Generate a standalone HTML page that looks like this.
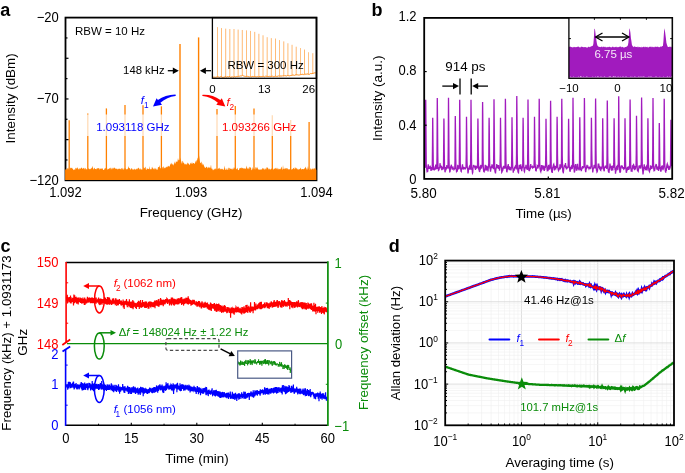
<!DOCTYPE html>
<html><head><meta charset="utf-8"><style>
html,body{margin:0;padding:0;background:#fff;overflow:hidden;}
svg{display:block;will-change:transform;font-family:"Liberation Sans", sans-serif;}
</style></head><body>
<svg width="685" height="473" viewBox="0 0 685 473">
<rect width="685" height="473" fill="#fff"/>
<line x1="69.2" y1="120.2" x2="69.2" y2="170" stroke="#FF8000" stroke-width="1.3" />
<line x1="87.8" y1="113.5" x2="87.8" y2="170" stroke="#FF8000" stroke-width="1.3" />
<line x1="106.4" y1="108.4" x2="106.4" y2="170" stroke="#FF8000" stroke-width="1.3" />
<line x1="125" y1="104.9" x2="125" y2="170" stroke="#FF8000" stroke-width="1.3" />
<line x1="143" y1="105.3" x2="143" y2="170" stroke="#FF8000" stroke-width="1.3" />
<line x1="161.4" y1="106.3" x2="161.4" y2="170" stroke="#FF8000" stroke-width="1.3" />
<line x1="217" y1="109" x2="217" y2="170" stroke="#FF8000" stroke-width="1.3" />
<line x1="235.3" y1="106" x2="235.3" y2="170" stroke="#FF8000" stroke-width="1.3" />
<line x1="254" y1="108.4" x2="254" y2="170" stroke="#FF8000" stroke-width="1.3" />
<line x1="272.3" y1="115.3" x2="272.3" y2="170" stroke="#FF8000" stroke-width="1.3" />
<line x1="290.7" y1="120" x2="290.7" y2="170" stroke="#FF8000" stroke-width="1.3" />
<line x1="309.1" y1="121.9" x2="309.1" y2="170" stroke="#FF8000" stroke-width="1.3" />
<line x1="180" y1="44" x2="180" y2="165" stroke="#FF8000" stroke-width="1.4" />
<line x1="198.6" y1="37.4" x2="198.6" y2="165" stroke="#FF8000" stroke-width="1.4" />
<rect x="84" y="114.5" width="90" height="21.5" fill="#fff" opacity="0.72"/>
<rect x="209" y="114.5" width="92" height="21.5" fill="#fff" opacity="0.72"/>
<rect x="212.4" y="17.6" width="104.1" height="60.699999999999996" fill="#fff"/>
<polyline points="212.4,76.86 212.9,76.62 213.4,77.31 213.9,76.83 214.4,77.12 214.9,77.28 215.4,77.23 215.9,77.28 216.4,76.98 216.9,77.26 217.4,76.95 217.9,76.79 218.4,76.96 218.9,76.84 219.4,77.18 219.9,77.23 220.4,76.68 220.9,76.7 221.4,76.87 221.9,76.93 222.4,77.32 222.9,77.31 223.4,77.33 223.9,77.14 224.4,77.09 224.9,76.76 225.4,76.84 225.9,76.55 226.4,77.21 226.9,76.76 227.4,76.6 227.9,76.79 228.4,76.79 228.9,77.11 229.4,76.53 229.9,76.71 230.4,77.24 230.9,77.21 231.4,77.02 231.9,76.96 232.4,76.69 232.9,77.21 233.4,77.12 233.9,76.92 234.4,76.64 234.9,76.68 235.4,76.81 235.9,76.77 236.4,76.48 236.9,76.67 237.4,76.61 237.9,76.4 238.4,76.39 238.9,76.26 239.4,76.21 239.9,76.31 240.4,76.05 240.9,75.63 241.4,75.93 241.9,75.53 242.4,75.3 242.9,75.61 243.4,75.83 243.9,76.08 244.4,76.23 244.9,76.3 245.4,76.44 245.9,76.06 246.4,76.57 246.9,76.29 247.4,76.37 247.9,76.33 248.4,76.63 248.9,76.4 249.4,76.92 249.9,76.98 250.4,77 250.9,76.47 251.4,76.88 251.9,77.03 252.4,76.38 252.9,76.49 253.4,76.55 253.9,76.69 254.4,76.45 254.9,76.74 255.4,76.58 255.9,76.82 256.4,76.71 256.9,76.83 257.4,76.47 257.9,76.83 258.4,76.84 258.9,76.83 259.4,76.29 259.9,76.99 260.4,76.69 260.9,76.43 261.4,76.56 261.9,76.62 262.4,76.61 262.9,76.38 263.4,76.39 263.9,76.46 264.4,76.79 264.9,76.51 265.4,76.18 265.9,76.5 266.4,76.29 266.9,76.13 267.4,76.9 267.9,76.34 268.4,76.53 268.9,76.38 269.4,76.13 269.9,76.8 270.4,76.82 270.9,76.21 271.4,76.39 271.9,76.35 272.4,76.17 272.9,76.56 273.4,76.65 273.9,76.62 274.4,76.55 274.9,76.02 275.4,76.16 275.9,76.36 276.4,76.49 276.9,76.21 277.4,76.23 277.9,76.52 278.4,75.84 278.9,76.01 279.4,76 279.9,76.53 280.4,75.89 280.9,75.72 281.4,75.99 281.9,76.15 282.4,75.73 282.9,76.25 283.4,75.71 283.9,76.09 284.4,75.63 284.9,76.18 285.4,75.61 285.9,76 286.4,76.06 286.9,75.57 287.4,75.41 287.9,75.78 288.4,75.68 288.9,75.64 289.4,75.86 289.9,75.58 290.4,75.56 290.9,75.51 291.4,75.44 291.9,75.35 292.4,75.11 292.9,75.18 293.4,75.11 293.9,75.05 294.4,75.43 294.9,74.85 295.4,74.88 295.9,75.09 296.4,74.87 296.9,74.77 297.4,74.83 297.9,74.89 298.4,74.98 298.9,75.18 299.4,75.04 299.9,74.65 300.4,74.63 300.9,74.56 301.4,74.38 301.9,74.91 302.4,74.16 302.9,74.23 303.4,74.56 303.9,74.46 304.4,74.17 304.9,74.66 305.4,74.2 305.9,74.31 306.4,73.86 306.9,74.46 307.4,73.79 307.9,73.98 308.4,74.34 308.9,74.34 309.4,74.27 309.9,74.17 310.4,73.63 310.9,73.39 311.4,73.65 311.9,73.26 312.4,73.9 312.9,73.06 313.4,73.24 313.9,73.06 314.4,72.83 314.9,73.15 315.4,72.73 315.9,73.31 316.4,73.07" stroke="#FF8000" stroke-width="0.9" fill="none" />
<line x1="217.4" y1="27.12" x2="217.4" y2="76.98" stroke="#FF8000" stroke-width="0.65" opacity="0.85"/>
<line x1="221.55" y1="28.07" x2="221.55" y2="76.96" stroke="#FF8000" stroke-width="0.65" opacity="0.85"/>
<line x1="225.7" y1="28.64" x2="225.7" y2="76.94" stroke="#FF8000" stroke-width="0.65" opacity="0.85"/>
<line x1="229.84" y1="29.02" x2="229.84" y2="76.93" stroke="#FF8000" stroke-width="0.65" opacity="0.85"/>
<line x1="233.99" y1="29.02" x2="233.99" y2="76.91" stroke="#FF8000" stroke-width="0.65" opacity="0.85"/>
<line x1="238.14" y1="29.59" x2="238.14" y2="76.53" stroke="#FF8000" stroke-width="0.65" opacity="0.85"/>
<line x1="242.29" y1="29.97" x2="242.29" y2="75.38" stroke="#FF8000" stroke-width="0.65" opacity="0.85"/>
<line x1="246.43" y1="30.35" x2="246.43" y2="76.42" stroke="#FF8000" stroke-width="0.65" opacity="0.85"/>
<line x1="250.58" y1="30.92" x2="250.58" y2="76.78" stroke="#FF8000" stroke-width="0.65" opacity="0.85"/>
<line x1="254.73" y1="31.87" x2="254.73" y2="76.71" stroke="#FF8000" stroke-width="0.65" opacity="0.85"/>
<line x1="258.88" y1="33.77" x2="258.88" y2="76.65" stroke="#FF8000" stroke-width="0.65" opacity="0.85"/>
<line x1="263.03" y1="35.29" x2="263.03" y2="76.58" stroke="#FF8000" stroke-width="0.65" opacity="0.85"/>
<line x1="267.17" y1="37.2" x2="267.17" y2="76.52" stroke="#FF8000" stroke-width="0.65" opacity="0.85"/>
<line x1="271.32" y1="38.15" x2="271.32" y2="76.46" stroke="#FF8000" stroke-width="0.65" opacity="0.85"/>
<line x1="275.47" y1="38.53" x2="275.47" y2="76.37" stroke="#FF8000" stroke-width="0.65" opacity="0.85"/>
<line x1="279.62" y1="40.05" x2="279.62" y2="76.15" stroke="#FF8000" stroke-width="0.65" opacity="0.85"/>
<line x1="283.77" y1="41.38" x2="283.77" y2="75.93" stroke="#FF8000" stroke-width="0.65" opacity="0.85"/>
<line x1="287.91" y1="43.28" x2="287.91" y2="75.71" stroke="#FF8000" stroke-width="0.65" opacity="0.85"/>
<line x1="292.06" y1="44.8" x2="292.06" y2="75.41" stroke="#FF8000" stroke-width="0.65" opacity="0.85"/>
<line x1="296.21" y1="46.71" x2="296.21" y2="75.04" stroke="#FF8000" stroke-width="0.65" opacity="0.85"/>
<line x1="300.36" y1="48.04" x2="300.36" y2="74.67" stroke="#FF8000" stroke-width="0.65" opacity="0.85"/>
<line x1="304.5" y1="49.56" x2="304.5" y2="74.34" stroke="#FF8000" stroke-width="0.65" opacity="0.85"/>
<line x1="308.65" y1="52.22" x2="308.65" y2="74.01" stroke="#FF8000" stroke-width="0.65" opacity="0.85"/>
<line x1="312.8" y1="53.17" x2="312.8" y2="73.47" stroke="#FF8000" stroke-width="0.65" opacity="0.85"/>
<text x="227.4" y="69.3" font-size="11.5" text-anchor="start" fill="#000" >RBW = 300 Hz</text>
<rect x="212.4" y="17.6" width="104.1" height="60.699999999999996" fill="none" stroke="#000" stroke-width="1.3"/>
<rect x="65.5" y="17.6" width="251.0" height="162.70000000000002" fill="none" stroke="#000" stroke-width="1.8"/>
<polygon points="65.1,180 65.1,169.15 65.5,169.15 66,169.91 66.5,169.57 67,168.03 67.5,168.24 68,169.85 68.5,167.41 69,169.7 69.5,169.63 70,167.19 70.5,168.25 71,168.18 71.5,168.11 72,167.42 72.5,168.81 73,168.95 73.5,170.19 74,169.62 74.5,169.14 75,170.17 75.5,168 76,167.85 76.5,169.11 77,167.52 77.5,167.5 78,168.84 78.5,168.7 79,169.97 79.5,167.93 80,168.84 80.5,168.79 81,168.09 81.5,167.43 82,167.94 82.5,169.34 83,167.96 83.5,168.43 84,167.41 84.5,169.72 85,167.83 85.5,168.15 86,169.86 86.5,168.83 87,169.77 87.5,169.19 88,169.48 88.5,167.66 89,168.91 89.5,168.82 90,169.84 90.5,168.41 91,169.07 91.5,167.56 92,168.48 92.5,165.86 93,167.82 93.5,169.68 94,168.46 94.5,167.48 95,169.05 95.5,169.09 96,169.19 96.5,169.29 97,167.82 97.5,168.63 98,168.07 98.5,168.53 99,167.67 99.5,170.11 100,168 100.5,169.28 101,168.24 101.5,168.59 102,169.25 102.5,167.77 103,169.76 103.5,170.04 104,169.93 104.5,168.99 105,167.81 105.5,167.94 106,168.97 106.5,168.94 107,167.9 107.5,169.87 108,169.19 108.5,168.99 109,168.45 109.5,168.55 110,168.07 110.5,167.5 111,169.85 111.5,168.71 112,167.46 112.5,168.3 113,169.5 113.5,167.47 114,168.44 114.5,167.48 115,167.74 115.5,168.86 116,169.24 116.5,168.6 117,168.86 117.5,169.84 118,168.36 118.5,169.05 119,169.31 119.5,168.39 120,168.85 120.5,169.54 121,168.6 121.5,167.82 122,170.01 122.5,167.41 123,169.51 123.5,169.67 124,167.78 124.5,168.57 125,169.68 125.5,167.44 126,169.16 126.5,169.62 127,168.83 127.5,169.43 128,168.03 128.5,165.9 129,168.41 129.5,167.9 130,168.37 130.5,170.05 131,169 131.5,168.35 132,168.16 132.5,170.06 133,168.64 133.5,170.14 134,168.84 134.5,168.86 135,169.91 135.5,169.48 136,169.02 136.5,168.59 137,169.86 137.5,168.55 138,168.22 138.5,167.59 139,168.6 139.5,168.85 140,170.06 140.5,168.1 141,169.65 141.5,169.29 142,169.4 142.5,169.16 143,170.12 143.5,166.55 144,168.51 144.5,167.96 145,167.54 145.5,166.62 146,169.96 146.5,169.75 147,167.71 147.5,169.08 148,168.74 148.5,169.06 149,169.24 149.5,166.06 150,170.08 150.5,168.7 151,169.21 151.5,169.13 152,166.51 152.5,167.7 153,168.49 153.5,169.45 154,167.76 154.5,169.67 155,167.51 155.5,169.6 156,168.1 156.5,169.93 157,169.01 157.5,170.18 158,167.05 158.5,167.03 159,167.44 159.5,164.92 160,168.09 160.5,168.1 161,168.93 161.5,167.28 162,167.82 162.5,166.78 163,169.16 163.5,165.88 164,167.27 164.5,168 165,168.43 165.5,167.48 166,167.29 166.5,167.22 167,166.21 167.5,167.56 168,165.41 168.5,166.41 169,165.96 169.5,166.99 170,165.21 170.5,163.26 171,164.92 171.5,162.43 172,164.36 172.5,164.73 173,163.36 173.5,165.75 174,164.37 174.5,161.29 175,163.8 175.5,163.21 176,160.98 176.5,161.73 177,162.15 177.5,161.17 178,157.88 178.5,160.18 179,160.36 179.5,159.42 180,160.4 180.5,157.62 181,160.51 181.5,162.59 182,164.1 182.5,160.7 183,161.27 183.5,162.95 184,162.65 184.5,164.86 185,163.53 185.5,164.69 186,163.46 186.5,164.54 187,164.67 187.5,162.39 188,163.07 188.5,163.68 189,163.81 189.5,165.14 190,164.49 190.5,162.89 191,162.86 191.5,164.22 192,161.7 192.5,164.01 193,163.19 193.5,163.12 194,163.06 194.5,164.29 195,163.07 195.5,160.48 196,163.09 196.5,159.97 197,160.69 197.5,158.54 198,157.55 198.5,157.28 199,155.3 199.5,158.64 200,161.89 200.5,163.31 201,162.72 201.5,161.3 202,165.27 202.5,162.86 203,165.8 203.5,163.64 204,165.78 204.5,166.99 205,167.8 205.5,168.03 206,167.14 206.5,166.53 207,167.14 207.5,168.71 208,166.45 208.5,167.41 209,167.97 209.5,167 210,168.46 210.5,167.24 211,164.44 211.5,169.07 212,168.31 212.5,169.31 213,170.39 213.5,169.69 214,169.24 214.5,169.6 215,168.17 215.5,169.44 216,167.64 216.5,169.42 217,169.49 217.5,169.24 218,168.56 218.5,168.38 219,168.59 219.5,167.51 220,169.74 220.5,168.9 221,168.47 221.5,168.92 222,169.4 222.5,168.45 223,169.71 223.5,169.96 224,168.47 224.5,165.56 225,169.52 225.5,170.17 226,167.8 226.5,169.38 227,169.7 227.5,169.97 228,167.73 228.5,167.65 229,170.16 229.5,167.72 230,167.89 230.5,169 231,168.64 231.5,169.49 232,167.92 232.5,169.95 233,168 233.5,169.55 234,166.41 234.5,168.72 235,167.48 235.5,168.27 236,168.27 236.5,169.41 237,168.67 237.5,167.55 238,170.18 238.5,169.88 239,169.96 239.5,168.08 240,168.5 240.5,168.03 241,167.74 241.5,167.49 242,168.8 242.5,167.74 243,167.89 243.5,168.56 244,168.75 244.5,167.91 245,169.27 245.5,168.14 246,168.87 246.5,165.4 247,167.79 247.5,169.16 248,167.36 248.5,168.5 249,169.61 249.5,167.12 250,166.87 250.5,167.78 251,167.71 251.5,170.14 252,170.03 252.5,166.75 253,170.11 253.5,167.98 254,168.81 254.5,168.79 255,169.96 255.5,167.51 256,166.9 256.5,169.08 257,166.43 257.5,168.06 258,168.7 258.5,169.86 259,169.53 259.5,169.72 260,169.53 260.5,169.38 261,169.78 261.5,169.31 262,169.46 262.5,168.24 263,167.87 263.5,169.52 264,167.86 264.5,169.97 265,169.07 265.5,168.32 266,170.02 266.5,167.83 267,166.99 267.5,167.65 268,168.03 268.5,169.01 269,169.65 269.5,168.19 270,169.64 270.5,169.37 271,169.2 271.5,168.49 272,168.61 272.5,168.56 273,169.34 273.5,169.74 274,168.34 274.5,169.27 275,167.98 275.5,167.75 276,169.55 276.5,167.58 277,169.44 277.5,167.44 278,170.08 278.5,168.71 279,168.54 279.5,169.42 280,168.86 280.5,169.44 281,167.64 281.5,166.51 282,168.96 282.5,170.01 283,165.06 283.5,168.67 284,169.17 284.5,168.94 285,167.61 285.5,169.06 286,168.02 286.5,167.95 287,169.86 287.5,167.95 288,168.67 288.5,169.5 289,169.38 289.5,168.95 290,169.66 290.5,166.69 291,169.14 291.5,169.69 292,169.3 292.5,169.2 293,168.54 293.5,167.71 294,168.51 294.5,169.48 295,166.49 295.5,168.71 296,167.38 296.5,168.81 297,168.35 297.5,169.71 298,168.47 298.5,169.76 299,169.6 299.5,168.65 300,169.4 300.5,167.5 301,168.49 301.5,169.81 302,169.02 302.5,168.96 303,169.26 303.5,169.3 304,169.03 304.5,168.58 305,167.91 305.5,166.45 306,168.22 306.5,168.61 307,170.2 307.5,168.39 308,166.1 308.5,168.44 309,169.03 309.5,170.05 310,169.89 310.5,168.46 311,168.15 311.5,169.88 312,168.78 312.5,169.32 313,167.6 313.5,169.83 314,168.28 314.5,168.78 315,167.95 315.5,168.58 316,169.72 316.5,169.72 316.4,169.72 316.4,180" fill="#FF8000" />
<line x1="65.5" y1="37.94" x2="67.5" y2="37.94" stroke="#000" stroke-width="1.2" />
<line x1="65.5" y1="58.28" x2="68.5" y2="58.28" stroke="#000" stroke-width="1.2" />
<line x1="65.5" y1="78.61" x2="67.5" y2="78.61" stroke="#000" stroke-width="1.2" />
<line x1="65.5" y1="98.95" x2="68.5" y2="98.95" stroke="#000" stroke-width="1.2" />
<line x1="65.5" y1="119.29" x2="67.5" y2="119.29" stroke="#000" stroke-width="1.2" />
<line x1="65.5" y1="139.62" x2="68.5" y2="139.62" stroke="#000" stroke-width="1.2" />
<line x1="65.5" y1="159.96" x2="67.5" y2="159.96" stroke="#000" stroke-width="1.2" />
<text x="58.8" y="22.08" font-size="13" text-anchor="end" fill="#000"  transform="matrix(1,0,0,1.1,0,-2.21)">−20</text>
<text x="58.8" y="103.33" font-size="13" text-anchor="end" fill="#000"  transform="matrix(1,0,0,1.1,0,-10.33)">−70</text>
<text x="58.8" y="184.73" font-size="13" text-anchor="end" fill="#000"  transform="matrix(1,0,0,1.1,0,-18.47)">−120</text>
<text x="65.5" y="196.98" font-size="13" text-anchor="middle" fill="#000"  transform="matrix(1,0,0,1.1,0,-19.7)">1.092</text>
<text x="191" y="196.98" font-size="13" text-anchor="middle" fill="#000"  transform="matrix(1,0,0,1.1,0,-19.7)">1.093</text>
<text x="316.5" y="196.98" font-size="13" text-anchor="middle" fill="#000"  transform="matrix(1,0,0,1.1,0,-19.7)">1.094</text>
<text x="191" y="217.4" font-size="13.4" text-anchor="middle" fill="#000" >Frequency (GHz)</text>
<text x="15" y="98.4" font-size="13.4" text-anchor="middle" fill="#000" transform="rotate(-90 15.0 98.4)">Intensity (dBm)</text>
<text x="212.4" y="92.7" font-size="11.5" text-anchor="middle" fill="#000" >0</text>
<text x="264.3" y="92.7" font-size="11.5" text-anchor="middle" fill="#000" >13</text>
<text x="308.7" y="92.7" font-size="11.5" text-anchor="middle" fill="#000" >26</text>
<text x="75" y="35.3" font-size="11.5" text-anchor="start" fill="#000" >RBW = 10 Hz</text>
<text x="123.1" y="74.1" font-size="11.3" text-anchor="start" fill="#000" >148 kHz</text>
<line x1="167.8" y1="70.7" x2="173.3" y2="70.7" stroke="#000" stroke-width="1.3" />
<polygon points="178.8,70.7 172.8,73.9 172.8,67.5" fill="#000" />
<line x1="211" y1="70.7" x2="205.4" y2="70.7" stroke="#000" stroke-width="1.3" />
<polygon points="199.9,70.7 205.9,67.5 205.9,73.9" fill="#000" />
<text x="96.2" y="130.9" font-size="11.5" text-anchor="start" fill="#0000FF" >1.093118 GHz</text>
<text x="222" y="131.2" font-size="11.5" text-anchor="start" fill="#FF0000" >1.093266 GHz</text>
<text x="140.7" y="103.9" font-size="11.5" text-anchor="start" fill="#0000FF" font-style="italic">f</text>
<text x="143.9" y="107.6" font-size="8.3" text-anchor="start" fill="#0000FF" >1</text>
<text x="226.4" y="106.1" font-size="11.5" text-anchor="start" fill="#FF0000" font-style="italic">f</text>
<text x="229.4" y="110.1" font-size="8.3" text-anchor="start" fill="#FF0000" >2</text>
<path d="M153,106.4 L156.6,98.2 L157.9,99.9 Q165,94.5 175.4,94.4 Q176.4,95.2 175.4,96.0 Q167,97.0 160.4,102.8 L162,104.8 Z" fill="#0000FF"/>
<path d="M225.3,106.6 L216.3,104.8 L217.9,102.8 Q211.5,97.2 202.6,96.1 Q201.8,95.3 202.6,94.7 Q212.5,94.2 220.4,99.9 L221.8,98.2 Z" fill="#FF0000"/>
<text x="0.3" y="16" font-size="18" text-anchor="start" fill="#000" font-weight="bold">a</text>
<polyline points="425,165.69 425.25,167.81 425.5,137.95 425.7,99.7 425.75,101.06 426,134.85 426.25,164.89 426.5,167.15 426.75,168.85 427,170.98 427.25,170.57 427.5,172.14 427.75,171.03 428,166.63 428.25,164.36 428.5,167.38 428.75,167.37 429,167.65 429.25,168.78 429.5,166.69 429.75,167.73 430,166.26 430.25,166.23 430.5,169.23 430.75,167.16 431,170.85 431.25,168.09 431.5,167.2 431.75,169 432,170.25 432.25,167.83 432.5,145.13 432.7,117.7 432.75,118.75 433,143.56 433.25,162.94 433.5,169.4 433.75,169.45 434,169.07 434.25,170.36 434.5,169.01 434.75,169.01 435,167.78 435.25,168.35 435.5,167.35 435.75,164.56 436,167.5 436.25,168.63 436.5,168.4 436.75,169.11 437,156.53 437.25,101.56 437.3,98.1 437.5,117.21 437.75,152.48 438,168.29 438.25,168.24 438.5,170.4 438.75,170.2 439,169.71 439.25,168.15 439.5,167.55 439.75,167.32 440,163.17 440.25,166.76 440.5,164.81 440.75,165.72 441,168.48 441.25,167.8 441.5,166.06 441.75,170.3 442,166.92 442.25,168.31 442.5,168.25 442.75,169.76 443,167.43 443.25,169.25 443.5,165.29 443.75,137.36 443.9,118.4 444,122.25 444.25,151.27 444.5,165.86 444.75,168.52 445,172.29 445.25,171.04 445.5,169.69 445.75,170.58 446,166.93 446.25,168.9 446.5,168.32 446.75,165.74 447,165.82 447.25,167.33 447.5,167.62 447.75,166.65 448,168.28 448.25,146.82 448.5,97.7 448.75,125.6 449,158.64 449.25,168.09 449.5,167.92 449.75,171.86 450,171.78 450.25,170.26 450.5,167.54 450.75,166.26 451,167.11 451.25,164.73 451.5,165.93 451.75,167.76 452,168.48 452.25,169.65 452.5,167.55 452.75,166.63 453,169.27 453.25,168.39 453.5,169.4 453.75,168.01 454,169.49 454.25,169.06 454.5,168.9 454.75,168.53 455,160.34 455.25,118.73 455.3,116.1 455.5,130.91 455.75,157.58 456,169.41 456.25,168.72 456.5,171.3 456.75,170.82 457,170.19 457.25,171.73 457.5,167.61 457.75,165.55 458,165.66 458.25,165.98 458.5,169.42 458.75,167.55 459,168.89 459.25,165.65 459.5,138.34 459.7,99.7 459.75,101.12 460,134.8 460.25,163.02 460.5,168.56 460.75,168.45 461,171.3 461.25,171.52 461.5,167.74 461.75,169.62 462,168.19 462.25,165.97 462.5,164.24 462.75,167.83 463,166.96 463.25,168.61 463.5,169.54 463.75,167.29 464,169.01 464.25,167.7 464.5,167.92 464.75,167.89 465,168 465.25,169.39 465.5,168.15 465.75,167.81 466,167.36 466.25,154.21 466.5,116.7 466.75,136.96 467,161.33 467.25,167.09 467.5,168.92 467.75,169.52 468,173.43 468.25,171.9 468.5,169.47 468.75,167.74 469,169.76 469.25,166.89 469.5,166.32 469.75,167.23 470,167.79 470.25,169.55 470.5,167.53 470.75,151.12 471,99.7 471.25,127.35 471.5,158.11 471.75,169.97 472,169 472.25,170.97 472.5,173.05 472.75,172.55 473,167.82 473.25,167.31 473.5,164.95 473.75,166.16 474,165.79 474.25,166.04 474.5,166.35 474.75,167.23 475,166.99 475.25,168.65 475.5,169.89 475.75,165.59 476,167.86 476.25,167.48 476.5,168.62 476.75,166.81 477,167.82 477.25,166.69 477.5,167.02 477.75,136.89 477.9,118.4 478,122.33 478.25,149.57 478.5,163.65 478.75,169.13 479,169.85 479.25,170.4 479.5,171.94 479.75,171.19 480,167.04 480.25,166.51 480.5,168.74 480.75,168.23 481,165.68 481.25,165.64 481.5,166.8 481.75,167.25 482,165.95 482.25,162.77 482.5,113.94 482.6,101.9 482.75,113.19 483,149.5 483.25,166.02 483.5,169.59 483.75,171.33 484,171.2 484.25,171.48 484.5,168.83 484.75,170.45 485,167.92 485.25,164.89 485.5,165.93 485.75,167.15 486,167.56 486.25,169.85 486.5,169.59 486.75,167.3 487,167.88 487.25,166.4 487.5,168.31 487.75,168.19 488,171.38 488.25,168.12 488.5,165.36 488.75,163.22 489,127.12 489.1,117.7 489.25,125.96 489.5,154.06 489.75,166.97 490,168.41 490.25,168.65 490.5,171.74 490.75,169.93 491,168.79 491.25,166.47 491.5,166.34 491.75,167.5 492,164.4 492.25,166.58 492.5,168.11 492.75,167.2 493,168.2 493.25,166.58 493.5,169.23 493.75,150.08 494,99.2 494.25,125.83 494.5,158 494.75,168.93 495,171.57 495.25,171.43 495.5,173.48 495.75,170.25 496,168.98 496.25,167.75 496.5,167.21 496.75,164.07 497,167.07 497.25,168.11 497.5,165.77 497.75,166.02 498,168.36 498.25,167.17 498.5,165.03 498.75,169.01 499,168.19 499.25,167.4 499.5,170.64 499.75,168.17 500,166.78 500.25,154.26 500.5,117.7 500.75,137.43 501,161.94 501.25,167.11 501.5,168.48 501.75,172.32 502,171.94 502.25,171.2 502.5,169.55 502.75,168.42 503,168.86 503.25,166.5 503.5,168.78 503.75,165.69 504,167.1 504.25,166.06 504.5,167.52 504.75,168.63 505,167.2 505.25,124.16 505.4,98.7 505.5,104.1 505.75,141.94 506,163.08 506.25,168.62 506.5,167.92 506.75,171.75 507,171.81 507.25,169.5 507.5,167.31 507.75,165.55 508,168.67 508.25,164.16 508.5,168 508.75,167.51 509,166.99 509.25,166.38 509.5,169.26 509.75,170.16 510,166.83 510.25,167.63 510.5,169.31 510.75,168.42 511,170.5 511.25,167.29 511.5,168.38 511.75,152.93 512,117.3 512.25,137.2 512.5,159.06 512.75,167.64 513,168.88 513.25,172.65 513.5,170.47 513.75,170.2 514,169.64 514.25,169.8 514.5,166.95 514.75,167.81 515,167.1 515.25,166.5 515.5,167.51 515.75,167.82 516,166.8 516.25,169.37 516.5,155.32 516.75,99.7 516.8,96 517,116.03 517.25,153.49 517.5,166.72 517.75,169.77 518,171.8 518.25,172.43 518.5,172.7 518.75,168.95 519,168.29 519.25,164.86 519.5,166.94 519.75,165.95 520,165.72 520.25,168.48 520.5,168.48 520.75,164.37 521,168.03 521.25,166.18 521.5,169.33 521.75,171.11 522,167.35 522.25,168.09 522.5,167.66 522.75,164.4 523,127.24 523.1,117.7 523.25,125.93 523.5,155.83 523.75,165.43 524,168.96 524.25,171.21 524.5,171.65 524.75,169.43 525,168.54 525.25,167.62 525.5,167.26 525.75,168.12 526,164.81 526.25,167.25 526.5,167.97 526.75,168.37 527,168.48 527.25,169.88 527.5,168.21 527.75,149.92 528,99.4 528.25,127.72 528.5,157.09 528.75,169.3 529,169.1 529.25,170.7 529.5,170.7 529.75,168.66 530,168.74 530.25,166.89 530.5,167.31 530.75,164.14 531,167.69 531.25,166.81 531.5,166.9 531.75,166.82 532,166.94 532.25,166.57 532.5,167.32 532.75,168.01 533,167.78 533.25,166.23 533.5,167.67 533.75,166.88 534,167.91 534.25,155.59 534.5,116.7 534.75,137.05 535,159.62 535.25,166.04 535.5,166.96 535.75,171.19 536,169.97 536.25,170.32 536.5,168.13 536.75,167.92 537,168.77 537.25,165.63 537.5,166.01 537.75,165.84 538,168.5 538.25,166.5 538.5,166.53 538.75,165.23 539,136.68 539.2,98.7 539.25,100.17 539.5,134.13 539.75,163.33 540,168.5 540.25,168.38 540.5,171.03 540.75,171.62 541,169.82 541.25,171.3 541.5,165.12 541.75,166.97 542,166.3 542.25,165.23 542.5,166.79 542.75,168.42 543,167.96 543.25,168.47 543.5,168.86 543.75,165.46 544,169.85 544.25,170.85 544.5,169.23 544.75,169.27 545,166.24 545.25,167.85 545.5,166.71 545.75,153.94 546,118.8 546.25,138.07 546.5,161.52 546.75,165.44 547,168.82 547.25,170.3 547.5,169.92 547.75,169.25 548,171.23 548.25,166.31 548.5,165.75 548.75,165.54 549,167.99 549.25,169.53 549.5,167.85 549.75,166.9 550,167.37 550.25,163.87 550.5,113.13 550.6,100.8 550.75,112.38 551,149.89 551.25,166.86 551.5,169.76 551.75,172.29 552,170.37 552.25,172.96 552.5,169.42 552.75,167.31 553,167.22 553.25,165.98 553.5,164.66 553.75,164.23 554,165.77 554.25,169.37 554.5,170.32 554.75,168.79 555,169.48 555.25,167.35 555.5,167.9 555.75,168.35 556,166.65 556.25,166.76 556.5,168.09 556.75,163.55 557,126.03 557.1,116.7 557.25,125.25 557.5,155.06 557.75,166.53 558,168.25 558.25,169.95 558.5,170.6 558.75,169.82 559,168.94 559.25,169.14 559.5,168.12 559.75,168.27 560,164.27 560.25,166.15 560.5,166.68 560.75,167.88 561,167.33 561.25,167.2 561.5,158.03 561.75,102.2 561.8,98.7 562,118.47 562.25,155.79 562.5,166.33 562.75,170.18 563,169.84 563.25,173.32 563.5,171.06 563.75,168.58 564,167.53 564.25,165.91 564.5,166.3 564.75,166.06 565,166.35 565.25,166.36 565.5,163.06 565.75,168.01 566,165.61 566.25,168.3 566.5,169.41 566.75,168.34 567,167.51 567.25,167.78 567.5,167.83 567.75,167.31 568,167.24 568.25,163.01 568.5,128.18 568.6,118.7 568.75,127.17 569,154.44 569.25,166.68 569.5,168.39 569.75,170.3 570,171.74 570.25,170.85 570.5,168.55 570.75,167.22 571,169.41 571.25,166.36 571.5,166.09 571.75,168.53 572,168.59 572.25,168.34 572.5,167.01 572.75,150.79 573,97.7 573.25,126.07 573.5,158.75 573.75,165.96 574,167.79 574.25,171.64 574.5,172.5 574.75,170.77 575,167.78 575.25,165.94 575.5,166.25 575.75,164.11 576,166.98 576.25,167.87 576.5,170.72 576.75,168.8 577,167.18 577.25,166.9 577.5,163.68 577.75,167.26 578,167.78 578.25,169.21 578.5,168.76 578.75,168.74 579,168.27 579.25,168.73 579.5,161.63 579.75,119.79 579.8,117.3 580,130.94 580.25,159.96 580.5,168.89 580.75,169.77 581,168.52 581.25,171.08 581.5,170.15 581.75,169.26 582,167.76 582.25,167.82 582.5,166.09 582.75,167.49 583,167.06 583.25,166.95 583.5,167.59 583.75,167.36 584,166.4 584.25,123.96 584.4,98.1 584.5,103.54 584.75,141.13 585,165.53 585.25,167.23 585.5,170.95 585.75,172.17 586,169.75 586.25,169.16 586.5,167.93 586.75,166.25 587,164.84 587.25,166.75 587.5,165.73 587.75,167.23 588,166.9 588.25,168.2 588.5,167.02 588.75,167.96 589,168.73 589.25,168.06 589.5,167.43 589.75,166.64 590,168.21 590.25,168.43 590.5,167.68 590.75,167.03 591,166.81 591.25,137.55 591.4,117.7 591.5,121.68 591.75,149.81 592,162.41 592.25,168.55 592.5,168.63 592.75,172.36 593,170.43 593.25,168.72 593.5,168.14 593.75,167.69 594,166.09 594.25,166.37 594.5,164.89 594.75,166.82 595,168.52 595.25,164.61 595.5,111.61 595.6,98.49 595.75,110.41 596,150.13 596.25,168.03 596.5,170.2 596.75,170.28 597,172.13 597.25,171.83 597.5,170.34 597.75,168.53 598,166.09 598.25,163.55 598.5,164.98 598.75,163.63 599,166.99 599.25,167.55 599.5,165.77 599.75,168.83 600,169.08 600.25,168.12 600.5,170.08 600.75,170.34 601,166.49 601.25,169.3 601.5,168.55 601.75,168.52 602,169.17 602.25,166.36 602.5,145.83 602.7,118.3 602.75,119.29 603,144.11 603.25,162.21 603.5,166.83 603.75,169.98 604,170.33 604.25,171.28 604.5,167.57 604.75,167.66 605,166.95 605.25,166.96 605.5,165.75 605.75,167.7 606,166.93 606.25,167.54 606.5,167.85 606.75,168.71 607,156.98 607.25,103.97 607.3,100.5 607.5,119.36 607.75,155.17 608,167.7 608.25,170.38 608.5,171.87 608.75,172.28 609,172.34 609.25,169.69 609.5,169.57 609.75,166.86 610,163.52 610.25,167.57 610.5,166.48 610.75,165.62 611,167.39 611.25,166.8 611.5,170.61 611.75,168.62 612,166.04 612.25,168.68 612.5,167.5 612.75,170.4 613,166.68 613.25,165.19 613.5,168.05 613.75,163.64 614,127.48 614.1,118.3 614.25,126.73 614.5,156.09 614.75,164.27 615,170.07 615.25,169.03 615.5,173.66 615.75,171.12 616,169.17 616.25,169.58 616.5,167.99 616.75,165.96 617,167.33 617.25,166.05 617.5,164.98 617.75,170.21 618,167.46 618.25,166.14 618.5,136.82 618.7,96.2 618.75,97.62 619,133.25 619.25,161.44 619.5,168.28 619.75,171.22 620,170.9 620.25,172.66 620.5,171.54 620.75,167.57 621,167.77 621.25,165.27 621.5,167.14 621.75,166.45 622,166.57 622.25,165.63 622.5,167.91 622.75,166.98 623,168.87 623.25,167.85 623.5,166.98 623.75,169.16 624,168.9 624.25,167.26 624.5,169.16 624.75,154.07 625,118.3 625.25,138.23 625.5,160.78 625.75,167.25 626,168.83 626.25,172.12 626.5,172.71 626.75,169.85 627,170.89 627.25,167.76 627.5,167.53 627.75,167.64 628,166.85 628.25,169.91 628.5,167.73 628.75,166.29 629,169.58 629.25,167.48 629.5,167.58 629.75,159.11 630,112.52 630.1,99.5 630.25,111.16 630.5,150.37 630.75,168.09 631,168.78 631.25,171.57 631.5,170.83 631.75,171.11 632,171.25 632.25,168.76 632.5,165.41 632.75,166.66 633,165.62 633.25,165.17 633.5,167.47 633.75,167.04 634,165.9 634.25,166.58 634.5,170.21 634.75,166.11 635,168.28 635.25,168.76 635.5,168.8 635.75,166.47 636,167.3 636.25,153.75 636.5,115.7 636.75,136.28 637,159.99 637.25,169.03 637.5,170.47 637.75,170.79 638,170.22 638.25,170.79 638.5,169.06 638.75,168.85 639,165.44 639.25,166.61 639.5,166.2 639.75,165.44 640,167.66 640.25,167.82 640.5,167.43 640.75,168.48 641,166.18 641.25,162.33 641.5,110.76 641.6,97.5 641.75,109.56 642,147.84 642.25,164.16 642.5,169.16 642.75,171.04 643,174.52 643.25,172.42 643.5,168.89 643.75,169.29 644,165.99 644.25,164.3 644.5,169.05 644.75,166.54 645,167.79 645.25,168.24 645.5,170.13 645.75,168.33 646,169.52 646.25,166.72 646.5,166.26 646.75,169.78 647,169.84 647.25,168.63 647.5,166.45 647.75,136.86 647.9,118.3 648,122.35 648.25,150.25 648.5,166.08 648.75,168.86 649,170.8 649.25,171.22 649.5,171.65 649.75,168.21 650,169.05 650.25,170.22 650.5,166.16 650.75,166.29 651,167.72 651.25,168.31 651.5,168.38 651.75,165.85 652,168.6 652.25,166.52 652.5,166.57 652.75,149.25 653,98 653.25,126.39 653.5,162.4 653.75,168.67 654,170.35 654.25,169.99 654.5,171.19 654.75,169.73 655,168.57 655.25,166.38 655.5,165.84 655.75,165.68 656,164.61 656.25,164.66 656.5,165.49 656.75,168.27 657,168 657.25,169.27 657.5,169.3 657.75,167.57 658,168.84 658.25,166.2 658.5,170.85 658.75,169.4 659,160.75 659.25,125.1 659.3,122.9 659.5,134.82 659.75,158.61 660,168.29 660.25,168.83 660.5,169.18 660.75,171.74 661,168.87 661.25,169.39 661.5,167.38 661.75,166.2 662,167.32 662.25,165.35 662.5,169.27 662.75,166.66 663,170.25 663.25,166.57 663.5,168.74 663.75,165.47 664,136.73 664.2,98.7 664.25,100.12 664.5,133.94 664.75,163.6 665,167.19 665.25,169.92 665.5,171.85 665.75,172.65 666,168.44 666.25,170.91 666.5,168.21 666.75,165.97 667,164.61 667.25,163.84 667.5,164.9 667.75,168.01 668,167.34 668.25,166.53 668.5,167.33 668.75,169.95 669,167.59 669.25,167.27 669.5,169.69 669.75,168.58 670,168.06 670.25,167.23 670.5,164.36 670.75,137.11 670.9,119.7 671,123.47 671.25,150.53 671.5,166.2" stroke="#A11BBE" stroke-width="1.3" fill="none" />
<rect x="424.2" y="17.9" width="248.00000000000006" height="161.0" fill="none" stroke="#000" stroke-width="1.8"/>
<line x1="424.2" y1="125.23" x2="426.7" y2="125.23" stroke="#000" stroke-width="1.2" />
<line x1="424.2" y1="71.57" x2="426.7" y2="71.57" stroke="#000" stroke-width="1.2" />
<line x1="548.3" y1="178.9" x2="548.3" y2="176.4" stroke="#000" stroke-width="1.2" />
<rect x="568.9" y="17.9" width="103.30000000000007" height="60.4" fill="#fff"/>
<polygon points="568.9,77.6 568.9,46.72 569.4,46.72 569.9,46.69 570.4,46.52 570.9,47.06 571.4,46.94 571.9,47.26 572.4,47.17 572.9,47.54 573.4,46.81 573.9,47.46 574.4,46.86 574.9,47.19 575.4,47.37 575.9,46.88 576.4,46.94 576.9,47.16 577.4,46.53 577.9,47.04 578.4,46.51 578.9,46.67 579.4,47.15 579.9,47.57 580.4,47.6 580.9,46.71 581.4,46.58 581.9,47.02 582.4,46.93 582.9,46.86 583.4,47.32 583.9,47.25 584.4,47.07 584.9,47.15 585.4,47.1 585.9,47.21 586.4,47.51 586.9,47.54 587.4,47.57 587.9,47.43 588.4,46.52 588.9,46.93 589.4,47.31 589.9,46.7 590.4,47.03 590.9,46.28 591.4,46.32 591.9,46.37 592.4,45.74 592.9,45.74 593.4,43.52 593.9,37.32 594.4,29.08 594.9,28.81 595.4,32.7 595.9,36.87 596.4,40.33 596.9,43.42 597.4,45.58 597.9,45.94 598.4,46.39 598.9,47.01 599.4,46.94 599.9,46.7 600.4,47.06 600.9,47.16 601.4,46.45 601.9,46.73 602.4,46.77 602.9,47.45 603.4,46.46 603.9,46.82 604.4,46.63 604.9,47.23 605.4,47.37 605.9,46.47 606.4,47.44 606.9,47.24 607.4,46.66 607.9,47.5 608.4,46.75 608.9,47.35 609.4,46.49 609.9,46.95 610.4,47.01 610.9,47.48 611.4,47.4 611.9,47.06 612.4,46.46 612.9,46.92 613.4,46.85 613.9,47.59 614.4,47.22 614.9,46.89 615.4,46.84 615.9,47.32 616.4,46.51 616.9,47.38 617.4,47.21 617.9,46.92 618.4,47.25 618.9,46.88 619.4,46.57 619.9,46.9 620.4,46.46 620.9,46.5 621.4,46.93 621.9,47.39 622.4,46.64 622.9,47 623.4,47.57 623.9,47.38 624.4,47.45 624.9,47.15 625.4,46.99 625.9,46.89 626.4,46.77 626.9,46.41 627.4,46.03 627.9,45.34 628.4,42.41 628.9,34.82 629.4,28.32 629.9,29.53 630.4,32.79 630.9,38.06 631.4,41 631.9,44.7 632.4,45.86 632.9,46.48 633.4,46.64 633.9,47.28 634.4,46.36 634.9,46.4 635.4,47.02 635.9,46.75 636.4,46.88 636.9,47.04 637.4,46.45 637.9,47.58 638.4,47.21 638.9,46.52 639.4,47.29 639.9,47.04 640.4,47.22 640.9,47.29 641.4,47.59 641.9,46.54 642.4,47.6 642.9,46.97 643.4,46.64 643.9,46.85 644.4,46.84 644.9,47.47 645.4,47.03 645.9,46.48 646.4,47.26 646.9,47 647.4,47.38 647.9,46.46 648.4,47.44 648.9,47.47 649.4,46.41 649.9,46.97 650.4,46.55 650.9,47.04 651.4,46.51 651.9,47.46 652.4,46.62 652.9,47.2 653.4,47.18 653.9,46.78 654.4,46.66 654.9,47.5 655.4,46.45 655.9,46.7 656.4,46.79 656.9,47.1 657.4,46.84 657.9,46.53 658.4,47.08 658.9,47.25 659.4,47.21 659.9,46.92 660.4,46.64 660.9,46.18 661.4,46.65 661.9,46.56 662.4,46.06 662.9,45.95 663.4,41.42 663.9,33.5 664.4,28.32 664.9,30.55 665.4,34.59 665.9,38.22 666.4,42.68 666.9,44.45 667.4,46.08 667.9,47.04 668.4,46.9 668.9,47 669.4,46.44 669.9,47.1 670.4,46.68 670.9,46.86 671.4,46.85 671.9,47.57 672.2,77.6" fill="#A11BBE" />
<rect x="634.78" y="76.3" width="0.7" height="0.6" fill="#fff" opacity="0.6"/>
<rect x="643.79" y="76.3" width="0.7" height="0.6" fill="#fff" opacity="0.6"/>
<rect x="586.75" y="76.3" width="0.7" height="0.6" fill="#fff" opacity="0.6"/>
<rect x="600.33" y="76.3" width="0.7" height="0.6" fill="#fff" opacity="0.6"/>
<rect x="659.54" y="76.3" width="0.7" height="0.6" fill="#fff" opacity="0.6"/>
<rect x="581.32" y="76.3" width="0.7" height="0.6" fill="#fff" opacity="0.6"/>
<rect x="667.36" y="76.3" width="0.7" height="0.6" fill="#fff" opacity="0.6"/>
<rect x="613.05" y="76.3" width="0.7" height="0.6" fill="#fff" opacity="0.6"/>
<rect x="609.18" y="76.3" width="0.7" height="0.6" fill="#fff" opacity="0.6"/>
<rect x="622.06" y="76.3" width="0.7" height="0.6" fill="#fff" opacity="0.6"/>
<rect x="614.69" y="76.3" width="0.7" height="0.6" fill="#fff" opacity="0.6"/>
<rect x="617.51" y="76.3" width="0.7" height="0.6" fill="#fff" opacity="0.6"/>
<rect x="612.7" y="76.3" width="0.7" height="0.6" fill="#fff" opacity="0.6"/>
<rect x="641.39" y="76.3" width="0.7" height="0.6" fill="#fff" opacity="0.6"/>
<rect x="597.44" y="76.3" width="0.7" height="0.6" fill="#fff" opacity="0.6"/>
<rect x="586.1" y="76.3" width="0.7" height="0.6" fill="#fff" opacity="0.6"/>
<rect x="613.79" y="76.3" width="0.7" height="0.6" fill="#fff" opacity="0.6"/>
<rect x="578.02" y="76.3" width="0.7" height="0.6" fill="#fff" opacity="0.6"/>
<rect x="615.11" y="76.3" width="0.7" height="0.6" fill="#fff" opacity="0.6"/>
<rect x="619.97" y="76.3" width="0.7" height="0.6" fill="#fff" opacity="0.6"/>
<rect x="649.92" y="76.3" width="0.7" height="0.6" fill="#fff" opacity="0.6"/>
<rect x="580.16" y="76.3" width="0.7" height="0.6" fill="#fff" opacity="0.6"/>
<rect x="609.9" y="76.3" width="0.7" height="0.6" fill="#fff" opacity="0.6"/>
<rect x="649.53" y="76.3" width="0.7" height="0.6" fill="#fff" opacity="0.6"/>
<rect x="603.84" y="76.3" width="0.7" height="0.6" fill="#fff" opacity="0.6"/>
<rect x="655.28" y="76.3" width="0.7" height="0.6" fill="#fff" opacity="0.6"/>
<rect x="643.11" y="76.3" width="0.7" height="0.6" fill="#fff" opacity="0.6"/>
<rect x="573.21" y="76.3" width="0.7" height="0.6" fill="#fff" opacity="0.6"/>
<rect x="608.7" y="76.3" width="0.7" height="0.6" fill="#fff" opacity="0.6"/>
<rect x="648.07" y="76.3" width="0.7" height="0.6" fill="#fff" opacity="0.6"/>
<rect x="623.29" y="76.3" width="0.7" height="0.6" fill="#fff" opacity="0.6"/>
<rect x="638.41" y="76.3" width="0.7" height="0.6" fill="#fff" opacity="0.6"/>
<rect x="671.17" y="76.3" width="0.7" height="0.6" fill="#fff" opacity="0.6"/>
<rect x="638.65" y="76.3" width="0.7" height="0.6" fill="#fff" opacity="0.6"/>
<rect x="625.31" y="76.3" width="0.7" height="0.6" fill="#fff" opacity="0.6"/>
<rect x="656.3" y="76.3" width="0.7" height="0.6" fill="#fff" opacity="0.6"/>
<rect x="613.34" y="76.3" width="0.7" height="0.6" fill="#fff" opacity="0.6"/>
<rect x="569.98" y="76.3" width="0.7" height="0.6" fill="#fff" opacity="0.6"/>
<rect x="597.05" y="76.3" width="0.7" height="0.6" fill="#fff" opacity="0.6"/>
<rect x="630.34" y="76.3" width="0.7" height="0.6" fill="#fff" opacity="0.6"/>
<rect x="666.85" y="76.3" width="0.7" height="0.6" fill="#fff" opacity="0.6"/>
<rect x="631.62" y="76.3" width="0.7" height="0.6" fill="#fff" opacity="0.6"/>
<rect x="598.21" y="76.3" width="0.7" height="0.6" fill="#fff" opacity="0.6"/>
<rect x="671.5" y="76.3" width="0.7" height="0.6" fill="#fff" opacity="0.6"/>
<rect x="610.24" y="76.3" width="0.7" height="0.6" fill="#fff" opacity="0.6"/>
<rect x="592.43" y="76.3" width="0.7" height="0.6" fill="#fff" opacity="0.6"/>
<rect x="626.02" y="76.3" width="0.7" height="0.6" fill="#fff" opacity="0.6"/>
<rect x="604.44" y="76.3" width="0.7" height="0.6" fill="#fff" opacity="0.6"/>
<rect x="580.42" y="76.3" width="0.7" height="0.6" fill="#fff" opacity="0.6"/>
<rect x="642.53" y="76.3" width="0.7" height="0.6" fill="#fff" opacity="0.6"/>
<rect x="640.33" y="76.3" width="0.7" height="0.6" fill="#fff" opacity="0.6"/>
<rect x="669.33" y="76.3" width="0.7" height="0.6" fill="#fff" opacity="0.6"/>
<rect x="583.04" y="76.3" width="0.7" height="0.6" fill="#fff" opacity="0.6"/>
<rect x="662.96" y="76.3" width="0.7" height="0.6" fill="#fff" opacity="0.6"/>
<rect x="651.25" y="76.3" width="0.7" height="0.6" fill="#fff" opacity="0.6"/>
<rect x="595.04" y="76.3" width="0.7" height="0.6" fill="#fff" opacity="0.6"/>
<rect x="618.41" y="76.3" width="0.7" height="0.6" fill="#fff" opacity="0.6"/>
<rect x="633.99" y="76.3" width="0.7" height="0.6" fill="#fff" opacity="0.6"/>
<rect x="601.43" y="76.3" width="0.7" height="0.6" fill="#fff" opacity="0.6"/>
<rect x="580.01" y="76.3" width="0.7" height="0.6" fill="#fff" opacity="0.6"/>
<rect x="568.9" y="17.9" width="103.30000000000007" height="60.4" fill="none" stroke="#000" stroke-width="1.3"/>
<line x1="568.9" y1="38.6" x2="570.9" y2="38.6" stroke="#000" stroke-width="1" />
<line x1="672.2" y1="38.6" x2="670.2" y2="38.6" stroke="#000" stroke-width="1" />
<line x1="594.4" y1="17.9" x2="594.4" y2="19.9" stroke="#000" stroke-width="0.9" />
<line x1="620.4" y1="17.9" x2="620.4" y2="19.9" stroke="#000" stroke-width="0.9" />
<line x1="646.4" y1="17.9" x2="646.4" y2="19.9" stroke="#000" stroke-width="0.9" />
<line x1="596" y1="37" x2="628.5" y2="37" stroke="#000" stroke-width="1.3" />
<polyline points="602.5,33 595.6,37 602.5,41" stroke="#000" stroke-width="1.3" fill="none" />
<polyline points="622,33 628.9,37 622,41" stroke="#000" stroke-width="1.3" fill="none" />
<text x="594.4" y="57.7" font-size="11.5" text-anchor="start" fill="#F6EAF8" >6.75 µs</text>
<text x="569" y="92.1" font-size="11.5" text-anchor="middle" fill="#000" >−10</text>
<text x="617.5" y="92.1" font-size="11.5" text-anchor="middle" fill="#000" >0</text>
<text x="666" y="92.1" font-size="11.5" text-anchor="middle" fill="#000" >10</text>
<text x="416.6" y="21.08" font-size="13" text-anchor="end" fill="#000"  transform="matrix(1,0,0,1.1,0,-2.11)">1.2</text>
<text x="416.6" y="75.43" font-size="13" text-anchor="end" fill="#000"  transform="matrix(1,0,0,1.1,0,-7.54)">0.8</text>
<text x="416.6" y="129.98" font-size="13" text-anchor="end" fill="#000"  transform="matrix(1,0,0,1.1,0,-13)">0.4</text>
<text x="416.6" y="184.28" font-size="13" text-anchor="end" fill="#000"  transform="matrix(1,0,0,1.1,0,-18.43)">0</text>
<text x="423.6" y="197.93" font-size="13.4" text-anchor="middle" fill="#000"  transform="matrix(1,0,0,1.1,0,-19.79)">5.80</text>
<text x="547.4" y="197.93" font-size="13.4" text-anchor="middle" fill="#000"  transform="matrix(1,0,0,1.1,0,-19.79)">5.81</text>
<text x="671.6" y="197.93" font-size="13.4" text-anchor="middle" fill="#000"  transform="matrix(1,0,0,1.1,0,-19.79)">5.82</text>
<text x="543.6" y="217.8" font-size="13.4" text-anchor="middle" fill="#000" >Time (µs)</text>
<text x="382.2" y="98.3" font-size="13.5" text-anchor="middle" fill="#000" transform="rotate(-90 382.2 98.3)">Intensity (a.u.)</text>
<text x="445.3" y="70.8" font-size="13.4" text-anchor="start" fill="#000" >914 ps</text>
<line x1="460" y1="78.5" x2="460" y2="94.6" stroke="#000" stroke-width="1.3" />
<line x1="471.2" y1="78.5" x2="471.2" y2="94.6" stroke="#000" stroke-width="1.3" />
<line x1="442.3" y1="86.1" x2="453.5" y2="86.1" stroke="#000" stroke-width="1.3" />
<polygon points="459,86.1 453,89.3 453,82.9" fill="#000" />
<line x1="488" y1="86.1" x2="477.7" y2="86.1" stroke="#000" stroke-width="1.3" />
<polygon points="472.2,86.1 478.2,82.9 478.2,89.3" fill="#000" />
<text x="371.5" y="16.1" font-size="18" text-anchor="start" fill="#000" font-weight="bold">b</text>
<polyline points="66.5,296.49 66.6,300.73 66.7,296.83 66.8,298.8 66.9,299.17 67,298.47 67.1,298.54 67.2,301.87 67.3,294.81 67.4,300.96 67.5,303.51 67.6,299.42 67.7,299.35 67.8,300.7 67.9,302.69 68,297.26 68.1,299.56 68.2,299.07 68.3,300.42 68.4,299.71 68.5,300.61 68.6,298.67 68.7,299.52 68.8,298.23 68.9,298.25 69,299.2 69.1,299.2 69.2,297.35 69.3,302.29 69.4,299.23 69.5,296.98 69.6,301.46 69.7,298.14 69.8,300.4 69.9,299.46 70,299.95 70.1,299.81 70.2,298.47 70.3,299.59 70.4,303.18 70.5,295.5 70.6,299.65 70.7,300.32 70.8,297.65 70.9,297.08 71,303.44 71.1,298.89 71.2,303.3 71.3,300.53 71.4,299.71 71.5,300.43 71.6,300.72 71.7,301.71 71.8,300.37 71.9,299.86 72,299.92 72.1,302.04 72.2,301.08 72.3,297.81 72.4,298.48 72.5,300.22 72.6,298.51 72.7,298.96 72.8,297.92 72.9,299.17 73,300.41 73.1,301.45 73.2,299.68 73.3,303.4 73.4,299.53 73.5,305.42 73.6,301.48 73.7,300.58 73.8,298.79 73.9,294.61 74,299.42 74.1,300.03 74.2,303.17 74.3,297.23 74.4,303.15 74.5,299.27 74.6,301.03 74.7,295.16 74.8,299.99 74.9,299.13 75,300.98 75.1,299.92 75.2,297.7 75.3,301.47 75.4,301.02 75.5,300.85 75.6,301.6 75.7,301.77 75.8,299.75 75.9,297.35 76,297.31 76.1,302.23 76.2,301.09 76.3,300 76.4,299.04 76.5,299.88 76.6,299.87 76.7,299.23 76.8,298.58 76.9,303.74 77,300.26 77.1,298.76 77.2,297.52 77.3,298.56 77.4,301.17 77.5,301.24 77.6,299.49 77.7,299.98 77.8,299.34 77.9,297.9 78,302.24 78.1,300.58 78.2,304.37 78.3,298.55 78.4,299.67 78.5,301.51 78.6,299.49 78.7,297.44 78.8,298.23 78.9,300.13 79,300.57 79.1,299.78 79.2,301.77 79.3,301.75 79.4,300.55 79.5,300.02 79.6,299.52 79.7,300.98 79.8,301.65 79.9,300.1 80,300.81 80.1,299.42 80.2,297.47 80.3,298.21 80.4,301.4 80.5,300.83 80.6,302.89 80.7,300.14 80.8,301.6 80.9,302.43 81,301.84 81.1,298.96 81.2,299.73 81.3,300.3 81.4,298.3 81.5,300.93 81.6,301.92 81.7,299.22 81.8,303.64 81.9,299.57 82,299.73 82.1,299.68 82.2,298.84 82.3,300.87 82.4,300.16 82.5,303.12 82.6,301.22 82.7,301.1 82.8,299.74 82.9,297.6 83,299.99 83.1,298.62 83.2,301.87 83.3,300.11 83.4,303.17 83.5,301.5 83.6,301.68 83.7,300.6 83.8,300.57 83.9,301.37 84,301.86 84.1,298.93 84.2,301.1 84.3,304.93 84.4,300.06 84.5,299.77 84.6,298.98 84.7,297.63 84.8,302.38 84.9,300.35 85,300.79 85.1,303.58 85.2,304.78 85.3,298.67 85.4,302.17 85.5,301.4 85.6,301 85.7,301.15 85.8,300.25 85.9,303.16 86,301.41 86.1,300.93 86.2,302.56 86.3,301.93 86.4,301.15 86.5,300.91 86.6,303.49 86.7,301.25 86.8,300.17 86.9,298.79 87,299.72 87.1,298.45 87.2,300.54 87.3,300.81 87.4,296.66 87.5,300.39 87.6,301.53 87.7,300.66 87.8,298.65 87.9,302.66 88,299.12 88.1,298.17 88.2,298.44 88.3,300.36 88.4,302.16 88.5,302.49 88.6,300.77 88.7,298.25 88.8,299.22 88.9,298.79 89,300.09 89.1,297.22 89.2,300.61 89.3,301.58 89.4,300.15 89.5,301.25 89.6,298.74 89.7,297.81 89.8,299.29 89.9,302.52 90,302.3 90.1,299.62 90.2,302.62 90.3,299.87 90.4,303.18 90.5,301.33 90.6,299.65 90.7,301.9 90.8,299.07 90.9,298.79 91,297.86 91.1,300.94 91.2,300.39 91.3,300.35 91.4,299.75 91.5,303.08 91.6,299.73 91.7,299.2 91.8,302.75 91.9,303.06 92,301.12 92.1,297.38 92.2,299.44 92.3,301.62 92.4,300.56 92.5,303.32 92.6,298.07 92.7,301.76 92.8,299.41 92.9,302.92 93,300.41 93.1,302.4 93.2,299.39 93.3,298.02 93.4,298.56 93.5,299.47 93.6,298.72 93.7,302.73 93.8,302.98 93.9,301.07 94,298.72 94.1,300.37 94.2,299.35 94.3,303.21 94.4,301.16 94.5,301.48 94.6,299.88 94.7,296.98 94.8,299.22 94.9,298.6 95,301.28 95.1,300.79 95.2,299.18 95.3,299.93 95.4,303.45 95.5,298.91 95.6,298.98 95.7,300.23 95.8,299.38 95.9,299.87 96,301.61 96.1,303.77 96.2,297.45 96.3,300.63 96.4,300.74 96.5,300.52 96.6,300.33 96.7,300.06 96.8,302.49 96.9,299.84 97,300.46 97.1,300.69 97.2,300.89 97.3,300.39 97.4,302.5 97.5,300.69 97.6,301.02 97.7,300.62 97.8,298.91 97.9,299.22 98,298.83 98.1,301.07 98.2,299.44 98.3,298.82 98.4,301.16 98.5,301.68 98.6,297.57 98.7,303.79 98.8,300.81 98.9,300.56 99,302.68 99.1,300.88 99.2,299.68 99.3,304.72 99.4,298.84 99.5,300.6 99.6,302.3 99.7,298.85 99.8,300.6 99.9,301.48 100,305.11 100.1,299.19 100.2,300.71 100.3,301.99 100.4,300.95 100.5,298.64 100.6,301.55 100.7,301.01 100.8,301.62 100.9,302.86 101,302.65 101.1,301.56 101.2,301.39 101.3,298.86 101.4,300.6 101.5,301.24 101.6,300.12 101.7,301.03 101.8,299.37 101.9,303.62 102,304.73 102.1,300.16 102.2,301.59 102.3,300.45 102.4,303.15 102.5,301.66 102.6,301.02 102.7,300.48 102.8,301.12 102.9,299.09 103,302.11 103.1,299.61 103.2,301.86 103.3,301.14 103.4,302.88 103.5,300.88 103.6,302.76 103.7,299.26 103.8,302.02 103.9,300.52 104,301.28 104.1,301.06 104.2,302.62 104.3,297.31 104.4,301.53 104.5,298.26 104.6,303.12 104.7,297.4 104.8,299.15 104.9,297.95 105,303.92 105.1,298.65 105.2,301.18 105.3,300.01 105.4,297.74 105.5,300.38 105.6,302.18 105.7,300.66 105.8,302.69 105.9,300.35 106,301.01 106.1,300.32 106.2,301.64 106.3,304.46 106.4,301.7 106.5,301.41 106.6,299.96 106.7,299.73 106.8,303.74 106.9,299.11 107,299.48 107.1,300.97 107.2,300.39 107.3,304.69 107.4,296.92 107.5,301.84 107.6,302.49 107.7,299.2 107.8,300.07 107.9,302.02 108,304.19 108.1,299.61 108.2,298.44 108.3,303.05 108.4,304.05 108.5,300.72 108.6,297.35 108.7,303.96 108.8,301 108.9,303.4 109,301.31 109.1,300.72 109.2,300.6 109.3,304.08 109.4,304.02 109.5,297.6 109.6,299.78 109.7,304.67 109.8,300.83 109.9,299.05 110,301.52 110.1,301.33 110.2,301.36 110.3,300.69 110.4,301.01 110.5,300.76 110.6,302.19 110.7,300.14 110.8,301.1 110.9,301.37 111,303.99 111.1,302.33 111.2,301.47 111.3,302.65 111.4,302.43 111.5,303.67 111.6,302.63 111.7,304.96 111.8,304.17 111.9,301.68 112,301.03 112.1,303.37 112.2,302.73 112.3,301.64 112.4,299.16 112.5,298.54 112.6,302.48 112.7,303.25 112.8,303.32 112.9,299.57 113,303.77 113.1,300.95 113.2,302.62 113.3,302.69 113.4,300.51 113.5,300.9 113.6,298.25 113.7,300.34 113.8,298.76 113.9,302.8 114,302.14 114.1,303.69 114.2,302.7 114.3,300.92 114.4,302.7 114.5,301.39 114.6,303.2 114.7,302.69 114.8,300.35 114.9,302.15 115,302.26 115.1,301.62 115.2,303.79 115.3,305.28 115.4,301.55 115.5,301.59 115.6,298.19 115.7,302.02 115.8,301.47 115.9,298.38 116,302.81 116.1,303.36 116.2,300.99 116.3,301.65 116.4,300.6 116.5,303.72 116.6,299.63 116.7,301.81 116.8,305.9 116.9,302.49 117,303.26 117.1,302.16 117.2,300.33 117.3,302.39 117.4,303.2 117.5,300.64 117.6,303.11 117.7,304.75 117.8,304.44 117.9,299.68 118,300.79 118.1,299.65 118.2,304.5 118.3,303.68 118.4,303.86 118.5,301.03 118.6,300.52 118.7,302.77 118.8,302.83 118.9,301.12 119,302.93 119.1,303.84 119.2,303.11 119.3,300.84 119.4,298.92 119.5,302.27 119.6,303.04 119.7,302.29 119.8,302 119.9,301.54 120,304.09 120.1,302.72 120.2,303.05 120.3,301.09 120.4,301.74 120.5,303.16 120.6,301.07 120.7,300.63 120.8,302.31 120.9,305.08 121,303.28 121.1,305.57 121.2,302.72 121.3,302.42 121.4,300.48 121.5,301.96 121.6,305.6 121.7,303.62 121.8,304.36 121.9,304.32 122,303.05 122.1,302.71 122.2,303.31 122.3,304.32 122.4,303.94 122.5,304.02 122.6,303.42 122.7,301.77 122.8,302.7 122.9,301.49 123,305.01 123.1,299.43 123.2,302.83 123.3,307.54 123.4,302.64 123.5,301.22 123.6,303.25 123.7,305.61 123.8,303.02 123.9,304.42 124,303.51 124.1,302.68 124.2,309.03 124.3,303.5 124.4,302.42 124.5,302.52 124.6,304.1 124.7,304.16 124.8,304.83 124.9,303.71 125,300.89 125.1,304.44 125.2,302.94 125.3,302.99 125.4,300.85 125.5,302.5 125.6,302.24 125.7,303.49 125.8,300.96 125.9,303.68 126,303.82 126.1,301.6 126.2,302.5 126.3,302.1 126.4,305.29 126.5,299.12 126.6,303.06 126.7,300.7 126.8,302.93 126.9,305.24 127,302.6 127.1,304 127.2,302.24 127.3,307.26 127.4,305.43 127.5,305.83 127.6,301.42 127.7,301.84 127.8,305.78 127.9,303.5 128,303.4 128.1,304.48 128.2,301.63 128.3,305.3 128.4,303.95 128.5,304.8 128.6,302.74 128.7,304.88 128.8,302.7 128.9,305.7 129,306.03 129.1,305.65 129.2,304.96 129.3,305.18 129.4,299.18 129.5,305.57 129.6,303.59 129.7,304.26 129.8,303.6 129.9,301.62 130,303.16 130.1,305.33 130.2,306.71 130.3,303.05 130.4,302.56 130.5,306.81 130.6,302.62 130.7,307.96 130.8,304.33 130.9,302.66 131,306.04 131.1,307.33 131.2,301.71 131.3,307.11 131.4,303.81 131.5,307.01 131.6,303.66 131.7,301.52 131.8,305.28 131.9,306.05 132,308.17 132.1,307.52 132.2,305.68 132.3,304.01 132.4,303.52 132.5,303.94 132.6,302.98 132.7,304 132.8,299.93 132.9,304.84 133,304.48 133.1,309.17 133.2,305.93 133.3,303.71 133.4,305.6 133.5,302.39 133.6,303.53 133.7,301.26 133.8,307.23 133.9,305.72 134,302.55 134.1,304.57 134.2,306.4 134.3,305.6 134.4,305.41 134.5,303.19 134.6,303.6 134.7,304.93 134.8,306.43 134.9,303.29 135,302.78 135.1,306.86 135.2,303.13 135.3,306.74 135.4,305.24 135.5,306.39 135.6,307.95 135.7,306.05 135.8,306.21 135.9,303.16 136,303.56 136.1,305.98 136.2,307.58 136.3,307.33 136.4,308.99 136.5,305.38 136.6,305.19 136.7,306.64 136.8,304.86 136.9,304.72 137,302.95 137.1,306.62 137.2,302.9 137.3,305.76 137.4,302.28 137.5,306.81 137.6,302.99 137.7,306.36 137.8,301.98 137.9,304.05 138,306.97 138.1,303.4 138.2,304.97 138.3,303.99 138.4,300.7 138.5,305.41 138.6,305.63 138.7,302.86 138.8,305.89 138.9,303.43 139,303.06 139.1,304.88 139.2,303.64 139.3,308.99 139.4,302.07 139.5,306.2 139.6,306.65 139.7,301.31 139.8,301.76 139.9,305.89 140,304.01 140.1,305.57 140.2,306.93 140.3,304.21 140.4,302.97 140.5,299.97 140.6,305.25 140.7,303.22 140.8,305.45 140.9,305.31 141,302.4 141.1,308 141.2,306.85 141.3,306.42 141.4,302.77 141.5,304.17 141.6,303.92 141.7,304.16 141.8,302.88 141.9,305.69 142,305.32 142.1,305.57 142.2,304 142.3,307.24 142.4,305.25 142.5,299.99 142.6,303.76 142.7,304.82 142.8,306.66 142.9,304.38 143,304.47 143.1,303.73 143.2,306.12 143.3,304.12 143.4,303.84 143.5,303.59 143.6,305.93 143.7,303.97 143.8,301.92 143.9,306.06 144,303.68 144.1,305.58 144.2,305.61 144.3,307.11 144.4,306.82 144.5,303.91 144.6,304.65 144.7,302.63 144.8,307.97 144.9,305.75 145,307.46 145.1,304.38 145.2,301.27 145.3,307.72 145.4,305.13 145.5,305.2 145.6,305.06 145.7,306.13 145.8,305.93 145.9,302.1 146,306.93 146.1,304.02 146.2,304.13 146.3,308.08 146.4,306.63 146.5,304.37 146.6,301.64 146.7,305.27 146.8,305.95 146.9,304.84 147,302.74 147.1,303.56 147.2,302.73 147.3,305.38 147.4,306.47 147.5,306.84 147.6,303.68 147.7,305.42 147.8,305.99 147.9,304.08 148,304.73 148.1,308.8 148.2,305.33 148.3,306.53 148.4,304.13 148.5,304.97 148.6,301.79 148.7,304.81 148.8,306.98 148.9,308.59 149,306.95 149.1,306.01 149.2,304.85 149.3,303.65 149.4,304.42 149.5,305.79 149.6,303.25 149.7,306.33 149.8,302.85 149.9,301.4 150,302.76 150.1,301.56 150.2,302.07 150.3,306.56 150.4,304.14 150.5,304.87 150.6,306.54 150.7,306.7 150.8,303.51 150.9,306.79 151,305.07 151.1,304.36 151.2,305.13 151.3,301.75 151.4,302.88 151.5,304.08 151.6,305.35 151.7,303.56 151.8,303.98 151.9,305.93 152,306.71 152.1,305.53 152.2,306.41 152.3,303.38 152.4,303.53 152.5,304.64 152.6,303.5 152.7,303.11 152.8,306.97 152.9,303.62 153,302.22 153.1,304.81 153.2,307.22 153.3,304.04 153.4,306.09 153.5,303.07 153.6,302.95 153.7,302.57 153.8,303.53 153.9,307.08 154,301.67 154.1,306.68 154.2,301.89 154.3,303.27 154.4,305.17 154.5,304.78 154.6,304.13 154.7,300.64 154.8,304.24 154.9,301.72 155,308.17 155.1,303.14 155.2,303.84 155.3,301.42 155.4,302.6 155.5,301.11 155.6,305.18 155.7,302.92 155.8,304.39 155.9,302.12 156,302.43 156.1,305.63 156.2,301.54 156.3,300.03 156.4,303.98 156.5,301.17 156.6,302.42 156.7,304.83 156.8,301.69 156.9,304.73 157,301.9 157.1,305.79 157.2,305.47 157.3,302.21 157.4,302.66 157.5,301.52 157.6,303.36 157.7,305.05 157.8,300.35 157.9,304.59 158,300.53 158.1,301.35 158.2,299.66 158.3,306.64 158.4,302.94 158.5,303.25 158.6,301.57 158.7,304.69 158.8,298.96 158.9,302.78 159,306.68 159.1,302 159.2,302.7 159.3,303.86 159.4,301.16 159.5,302.65 159.6,304.31 159.7,302.91 159.8,303.21 159.9,301.89 160,303.07 160.1,302.59 160.2,305.09 160.3,303.76 160.4,302.01 160.5,298.03 160.6,303.71 160.7,303.77 160.8,300.75 160.9,298.79 161,300.31 161.1,304.02 161.2,300.43 161.3,301.5 161.4,302.71 161.5,304.51 161.6,302.26 161.7,302.1 161.8,301.28 161.9,305.19 162,304.16 162.1,302.06 162.2,299.7 162.3,300.78 162.4,303.23 162.5,300.88 162.6,303.77 162.7,302.8 162.8,302.66 162.9,303.3 163,303.01 163.1,300.56 163.2,301.5 163.3,306.28 163.4,299.88 163.5,301.19 163.6,303.95 163.7,301.73 163.8,300.54 163.9,299.61 164,302.94 164.1,303.8 164.2,304.47 164.3,302.04 164.4,303.81 164.5,300.06 164.6,302.2 164.7,300.67 164.8,302.19 164.9,303.21 165,303.78 165.1,300.06 165.2,304.11 165.3,300.96 165.4,299.95 165.5,301.48 165.6,299.14 165.7,301.77 165.8,302.27 165.9,301.37 166,302.69 166.1,301.14 166.2,301.7 166.3,299.09 166.4,301.74 166.5,300.12 166.6,300.83 166.7,301.46 166.8,301.96 166.9,298.64 167,298.78 167.1,301.03 167.2,302.42 167.3,302.2 167.4,303.15 167.5,303.87 167.6,302.41 167.7,301.46 167.8,299.63 167.9,299.77 168,300.62 168.1,301.93 168.2,301.83 168.3,301.43 168.4,301.13 168.5,302.53 168.6,301.76 168.7,301.91 168.8,301.91 168.9,300.36 169,299.47 169.1,302.2 169.2,302.05 169.3,300.89 169.4,300.53 169.5,305.37 169.6,299.89 169.7,300.85 169.8,301.7 169.9,299.14 170,301.41 170.1,304.44 170.2,302.88 170.3,302.34 170.4,302.27 170.5,301.4 170.6,302.93 170.7,300.92 170.8,300.44 170.9,301.39 171,302.84 171.1,301.8 171.2,302.42 171.3,297.57 171.4,303.36 171.5,305.42 171.6,303.61 171.7,300.64 171.8,299.68 171.9,301.71 172,299.44 172.1,302.52 172.2,300.27 172.3,302.94 172.4,303.67 172.5,297.56 172.6,301.74 172.7,299.96 172.8,298.68 172.9,300.11 173,300.83 173.1,303.08 173.2,298.48 173.3,303.11 173.4,304.86 173.5,302.3 173.6,302.21 173.7,301.2 173.8,299.11 173.9,302.19 174,301.92 174.1,302.54 174.2,305.85 174.3,302.54 174.4,302 174.5,304.04 174.6,298.81 174.7,299.17 174.8,300.56 174.9,300.05 175,302.48 175.1,300.66 175.2,304.37 175.3,303.97 175.4,302.62 175.5,300.54 175.6,302.35 175.7,302.7 175.8,299.32 175.9,301.87 176,302.51 176.1,301.63 176.2,304.07 176.3,303.43 176.4,299.76 176.5,301.47 176.6,299.74 176.7,302.29 176.8,299.68 176.9,302.91 177,301.95 177.1,302.99 177.2,300.99 177.3,298.63 177.4,304.43 177.5,300.94 177.6,303.73 177.7,302.03 177.8,302.47 177.9,304.55 178,301.87 178.1,303.77 178.2,298.58 178.3,302.82 178.4,300.82 178.5,301.02 178.6,301.27 178.7,301.88 178.8,304.24 178.9,297.92 179,301.34 179.1,299.97 179.2,303.36 179.3,300.5 179.4,302.08 179.5,300.55 179.6,302.47 179.7,303.09 179.8,300.55 179.9,301.35 180,298.71 180.1,301.82 180.2,302.81 180.3,300.27 180.4,303.29 180.5,297.54 180.6,297.94 180.7,298.77 180.8,300.4 180.9,301.31 181,301.13 181.1,301.15 181.2,302.58 181.3,300.43 181.4,299 181.5,299.04 181.6,305.08 181.7,297.04 181.8,300.96 181.9,303.9 182,302.15 182.1,299.79 182.2,301.29 182.3,302.84 182.4,303.46 182.5,299.66 182.6,302.65 182.7,301.74 182.8,303.27 182.9,303.79 183,300.67 183.1,298.68 183.2,302 183.3,304.49 183.4,302.52 183.5,301.7 183.6,305.61 183.7,299.42 183.8,302.92 183.9,300.27 184,301.38 184.1,301.46 184.2,304.02 184.3,299.61 184.4,300.33 184.5,298.43 184.6,302.17 184.7,300.47 184.8,302.06 184.9,299.37 185,300.65 185.1,303.19 185.2,301.03 185.3,302.49 185.4,302.33 185.5,300.76 185.6,298.61 185.7,303.21 185.8,301.77 185.9,303.25 186,297.88 186.1,298.54 186.2,297.68 186.3,299.98 186.4,303.46 186.5,302.62 186.6,301.56 186.7,301.88 186.8,303.03 186.9,301.14 187,302.41 187.1,301.97 187.2,297.8 187.3,301.07 187.4,304.23 187.5,301.09 187.6,301.56 187.7,300.75 187.8,300.99 187.9,303.9 188,301.42 188.1,300.08 188.2,296.34 188.3,300.93 188.4,298.44 188.5,298.72 188.6,303.45 188.7,303.32 188.8,298.61 188.9,303.61 189,302.93 189.1,300.71 189.2,303.46 189.3,299.23 189.4,300.01 189.5,299.61 189.6,300.22 189.7,303.82 189.8,299.86 189.9,300.21 190,300.59 190.1,302.67 190.2,301.73 190.3,303.91 190.4,301.1 190.5,300.08 190.6,301.51 190.7,302.5 190.8,300.78 190.9,302.97 191,305.76 191.1,301.46 191.2,302.61 191.3,304.98 191.4,301.4 191.5,301.06 191.6,300.63 191.7,303.33 191.8,303.56 191.9,302.39 192,302.75 192.1,304.98 192.2,304.27 192.3,300.2 192.4,302.73 192.5,302.95 192.6,304.08 192.7,302.4 192.8,301.66 192.9,302.01 193,299.65 193.1,302.83 193.2,301.82 193.3,303.75 193.4,301.08 193.5,302.16 193.6,301.2 193.7,301.06 193.8,304.26 193.9,302.18 194,303.84 194.1,301.04 194.2,303.25 194.3,300.05 194.4,302.25 194.5,302.23 194.6,304.2 194.7,303.49 194.8,302.87 194.9,304.71 195,303.57 195.1,304.21 195.2,304.65 195.3,303.17 195.4,302.78 195.5,303.92 195.6,302.6 195.7,304.06 195.8,305.38 195.9,304.94 196,302.74 196.1,301.14 196.2,303.37 196.3,303.26 196.4,305.5 196.5,302.84 196.6,303.18 196.7,304.89 196.8,302.73 196.9,303.33 197,306.71 197.1,306.33 197.2,304.81 197.3,304.18 197.4,301.98 197.5,304.74 197.6,303.86 197.7,304.18 197.8,302.87 197.9,303.8 198,303.51 198.1,304.43 198.2,306.45 198.3,304.55 198.4,300.95 198.5,302.2 198.6,301.12 198.7,302.56 198.8,305.01 198.9,304.75 199,302.97 199.1,304.55 199.2,302.73 199.3,301.56 199.4,301.61 199.5,302.61 199.6,306.73 199.7,301.79 199.8,306.45 199.9,306.62 200,303.93 200.1,304.19 200.2,303.2 200.3,304.27 200.4,305.52 200.5,304.38 200.6,306.17 200.7,306.53 200.8,305.04 200.9,305.03 201,304.35 201.1,305.11 201.2,302.5 201.3,305.25 201.4,304.91 201.5,303.02 201.6,308.45 201.7,302.86 201.8,303.07 201.9,305.15 202,301.19 202.1,303.27 202.2,301.97 202.3,303 202.4,304.51 202.5,305.35 202.6,306.78 202.7,306.26 202.8,306.96 202.9,305.91 203,304.03 203.1,306.9 203.2,304.04 203.3,303.83 203.4,307.71 203.5,306.4 203.6,305.39 203.7,306.37 203.8,306.62 203.9,302.61 204,304.91 204.1,302.98 204.2,305.34 204.3,303.94 204.4,307.61 204.5,306.12 204.6,303.75 204.7,305.2 204.8,303.07 204.9,305.34 205,306.27 205.1,305.79 205.2,301.86 205.3,304.75 205.4,306.29 205.5,305.94 205.6,307.5 205.7,303.12 205.8,306.4 205.9,304.31 206,305.85 206.1,306.25 206.2,306.77 206.3,304.52 206.4,305.91 206.5,303.5 206.6,303.08 206.7,306.64 206.8,305.56 206.9,302.77 207,304.17 207.1,305.76 207.2,308.54 207.3,307.65 207.4,307.22 207.5,302.59 207.6,305.65 207.7,306.71 207.8,306.58 207.9,306.64 208,305.49 208.1,309.09 208.2,308.61 208.3,305.8 208.4,304.23 208.5,309.71 208.6,305.04 208.7,308.21 208.8,309.51 208.9,304.4 209,306.64 209.1,305.51 209.2,307.08 209.3,306.75 209.4,309.7 209.5,307.28 209.6,306.22 209.7,308.29 209.8,305.79 209.9,305.65 210,310.35 210.1,304.87 210.2,305.48 210.3,306.46 210.4,304.5 210.5,302.63 210.6,308.35 210.7,305.06 210.8,305.51 210.9,305.84 211,304.76 211.1,304.62 211.2,306.86 211.3,310.91 211.4,307.94 211.5,307.98 211.6,303.94 211.7,306.63 211.8,304.57 211.9,308.11 212,306.33 212.1,306.83 212.2,306.62 212.3,305.75 212.4,304.08 212.5,307.88 212.6,304.37 212.7,304.76 212.8,306.37 212.9,305.65 213,307.41 213.1,308.78 213.2,307.43 213.3,307.36 213.4,307.07 213.5,308.59 213.6,303.75 213.7,307.75 213.8,305.43 213.9,304.91 214,307.16 214.1,306.47 214.2,308.24 214.3,309.19 214.4,303.05 214.5,307.12 214.6,310.8 214.7,308.86 214.8,309.92 214.9,307.52 215,304.77 215.1,305.35 215.2,308.68 215.3,309.15 215.4,306.12 215.5,306.98 215.6,307.95 215.7,304.35 215.8,306.89 215.9,310.46 216,311.5 216.1,307.39 216.2,310.9 216.3,306.68 216.4,306.19 216.5,303.64 216.6,309.41 216.7,307.04 216.8,311.94 216.9,308.35 217,308.11 217.1,304.54 217.2,310.52 217.3,307.18 217.4,307.57 217.5,303.91 217.6,309.57 217.7,309.7 217.8,306.85 217.9,308.13 218,308.69 218.1,309.74 218.2,308.21 218.3,311.15 218.4,307.63 218.5,307 218.6,307.27 218.7,303.56 218.8,306.7 218.9,309.98 219,308.67 219.1,306.74 219.2,308.86 219.3,304.62 219.4,307.76 219.5,309.24 219.6,309.57 219.7,306.94 219.8,310 219.9,311.75 220,307.63 220.1,309.76 220.2,305.64 220.3,304.93 220.4,309.59 220.5,308.58 220.6,308.88 220.7,307.49 220.8,308.04 220.9,310.04 221,311.7 221.1,308.24 221.2,305.67 221.3,310.96 221.4,309.77 221.5,309.93 221.6,309.05 221.7,312.93 221.8,308.9 221.9,309.71 222,305.47 222.1,307.78 222.2,307.61 222.3,308.81 222.4,309.51 222.5,307.56 222.6,312.04 222.7,307.03 222.8,308.16 222.9,309.42 223,306.75 223.1,310.06 223.2,310.19 223.3,308.54 223.4,312.53 223.5,309.26 223.6,309.63 223.7,307.42 223.8,306.15 223.9,308.05 224,308.63 224.1,308.41 224.2,310.63 224.3,304.97 224.4,307.25 224.5,306.02 224.6,311.74 224.7,308.33 224.8,308.44 224.9,307.4 225,311.03 225.1,308.69 225.2,309.85 225.3,305.8 225.4,311.6 225.5,310.22 225.6,310.52 225.7,311.78 225.8,309.22 225.9,309.29 226,310.9 226.1,310.4 226.2,309.21 226.3,309.75 226.4,308.78 226.5,311 226.6,311.41 226.7,309.76 226.8,313.16 226.9,307.02 227,309.39 227.1,312.92 227.2,309.09 227.3,306.99 227.4,312.41 227.5,310.9 227.6,307.78 227.7,311.35 227.8,308.13 227.9,307.58 228,309.74 228.1,309.17 228.2,308.07 228.3,309.41 228.4,308.28 228.5,310.22 228.6,310.09 228.7,311.5 228.8,309.35 228.9,307.79 229,307.83 229.1,309.79 229.2,313.03 229.3,311.81 229.4,309.14 229.5,312.01 229.6,308.24 229.7,312.18 229.8,309.68 229.9,311.78 230,311.54 230.1,309.92 230.2,311.01 230.3,308.5 230.4,310.29 230.5,312.38 230.6,317.82 230.7,311.7 230.8,310.59 230.9,308.61 231,312.35 231.1,307.45 231.2,308.99 231.3,311.09 231.4,308.27 231.5,313.23 231.6,312.42 231.7,309.42 231.8,309.45 231.9,308.07 232,307.93 232.1,311.26 232.2,311.59 232.3,311.1 232.4,310.94 232.5,309.46 232.6,311.12 232.7,307.81 232.8,310.49 232.9,313.14 233,312.87 233.1,309.64 233.2,309.88 233.3,312.97 233.4,313.71 233.5,307.78 233.6,309.72 233.7,310.91 233.8,312.69 233.9,308.98 234,311.66 234.1,309.96 234.2,314.79 234.3,311.28 234.4,310.26 234.5,309.9 234.6,312.42 234.7,311.74 234.8,308.56 234.9,310.91 235,308.1 235.1,309.15 235.2,308.18 235.3,308.13 235.4,309.29 235.5,308.76 235.6,311.48 235.7,311.97 235.8,310.1 235.9,308.51 236,311.99 236.1,306.88 236.2,307.05 236.3,311.86 236.4,311.73 236.5,312.31 236.6,310.16 236.7,308.27 236.8,309.63 236.9,311.58 237,309.17 237.1,309.29 237.2,308.04 237.3,308.46 237.4,312.09 237.5,311.39 237.6,308.47 237.7,308.62 237.8,309.56 237.9,311.57 238,308.47 238.1,310.28 238.2,306.71 238.3,308.31 238.4,311.35 238.5,312.21 238.6,308.5 238.7,309.2 238.8,312.04 238.9,309.89 239,309.62 239.1,311.54 239.2,310.96 239.3,312.62 239.4,312.04 239.5,309.57 239.6,310.4 239.7,310.51 239.8,308.17 239.9,308.86 240,312.38 240.1,307.73 240.2,312.38 240.3,311.08 240.4,310.29 240.5,311.5 240.6,311.36 240.7,312.67 240.8,309.74 240.9,310.03 241,309.98 241.1,313.8 241.2,312.09 241.3,308.69 241.4,309.74 241.5,309.05 241.6,310.33 241.7,310.67 241.8,314.41 241.9,306.95 242,312.08 242.1,311 242.2,308.92 242.3,309.9 242.4,309.25 242.5,310.22 242.6,311.93 242.7,307.35 242.8,312.44 242.9,309.38 243,312.74 243.1,310.75 243.2,312.22 243.3,310.99 243.4,311.91 243.5,310.04 243.6,308.41 243.7,311.11 243.8,311.16 243.9,313.64 244,306.22 244.1,309.46 244.2,311.71 244.3,307.52 244.4,309.35 244.5,313.56 244.6,312.27 244.7,308.11 244.8,312.25 244.9,311.8 245,311.04 245.1,310.31 245.2,310.03 245.3,308.01 245.4,308.63 245.5,310.87 245.6,309.78 245.7,312.84 245.8,308.88 245.9,305.14 246,308.84 246.1,309.93 246.2,310.1 246.3,309.51 246.4,307.88 246.5,312.04 246.6,308.13 246.7,310.59 246.8,308.77 246.9,307.11 247,311.8 247.1,304.71 247.2,307.68 247.3,309.97 247.4,308.53 247.5,310.51 247.6,308.95 247.7,308.3 247.8,312.99 247.9,308.68 248,308.77 248.1,307.09 248.2,307.67 248.3,310.17 248.4,309.99 248.5,308.96 248.6,307.68 248.7,310.16 248.8,305.83 248.9,308.27 249,308.41 249.1,307.32 249.2,309.1 249.3,307.6 249.4,307.34 249.5,312.01 249.6,310.08 249.7,310.89 249.8,308.8 249.9,310.43 250,310.08 250.1,310.84 250.2,312.89 250.3,308.2 250.4,309.05 250.5,308.47 250.6,302.21 250.7,306 250.8,308.52 250.9,309.61 251,307.41 251.1,310.47 251.2,310.71 251.3,307.63 251.4,310.92 251.5,311.48 251.6,309.14 251.7,306.52 251.8,310.9 251.9,307.94 252,307.53 252.1,308.4 252.2,307.2 252.3,310.07 252.4,309.52 252.5,310.29 252.6,309.12 252.7,306.62 252.8,307.74 252.9,309.58 253,307.25 253.1,313.21 253.2,307.5 253.3,306.85 253.4,309.95 253.5,309.21 253.6,307.79 253.7,307.4 253.8,308.56 253.9,309.27 254,309.11 254.1,307.17 254.2,308.47 254.3,309.19 254.4,309.02 254.5,302.06 254.6,305.99 254.7,306.18 254.8,307.13 254.9,307.85 255,309.16 255.1,308.59 255.2,307.22 255.3,307.47 255.4,310.57 255.5,306.28 255.6,307.9 255.7,310.15 255.8,307.93 255.9,303.61 256,307.93 256.1,306.54 256.2,307.01 256.3,309.08 256.4,308.01 256.5,306.66 256.6,308.72 256.7,307.88 256.8,307.26 256.9,307.59 257,307.48 257.1,306.38 257.2,306.15 257.3,306.99 257.4,305.21 257.5,304.63 257.6,309.22 257.7,306.42 257.8,306.78 257.9,306.56 258,306.82 258.1,306.8 258.2,306.85 258.3,305.26 258.4,308.36 258.5,305.41 258.6,308.5 258.7,303.16 258.8,304.68 258.9,308.35 259,306.27 259.1,305.31 259.2,307.17 259.3,304.59 259.4,306.58 259.5,302.43 259.6,305.58 259.7,305.2 259.8,307.32 259.9,307.9 260,304.76 260.1,309.18 260.2,305.2 260.3,302.55 260.4,301.95 260.5,308.99 260.6,306.04 260.7,305.02 260.8,304.82 260.9,304.18 261,308.56 261.1,305.96 261.2,309.32 261.3,305.72 261.4,301.83 261.5,307.56 261.6,305.37 261.7,305.58 261.8,308.82 261.9,305.5 262,308.05 262.1,305.93 262.2,304.57 262.3,306.82 262.4,304.81 262.5,308.09 262.6,307.59 262.7,305.95 262.8,306.92 262.9,306.82 263,305.29 263.1,307.38 263.2,305.35 263.3,306.85 263.4,304.01 263.5,305.89 263.6,306.44 263.7,304.25 263.8,304.91 263.9,304.68 264,306.94 264.1,304.31 264.2,306.38 264.3,308.32 264.4,306.2 264.5,302.64 264.6,305.75 264.7,307.38 264.8,304.98 264.9,307.48 265,306.57 265.1,306.2 265.2,304.96 265.3,304.49 265.4,304.94 265.5,305.49 265.6,306.31 265.7,306.1 265.8,304.79 265.9,305.43 266,306 266.1,302.36 266.2,303.88 266.3,303.81 266.4,304.87 266.5,304.72 266.6,304.74 266.7,303.61 266.8,306.38 266.9,305.65 267,302.18 267.1,305.14 267.2,303.07 267.3,308.15 267.4,304.25 267.5,304.34 267.6,305.19 267.7,304.66 267.8,304.9 267.9,307.77 268,305.38 268.1,306.46 268.2,306.96 268.3,303.16 268.4,307.94 268.5,306.12 268.6,306.59 268.7,303.3 268.8,306.31 268.9,305.56 269,303.84 269.1,308.89 269.2,305.79 269.3,304.32 269.4,305.08 269.5,306.36 269.6,306.74 269.7,305.73 269.8,306.86 269.9,307.3 270,302.41 270.1,303.75 270.2,302.93 270.3,304.78 270.4,307.2 270.5,305.77 270.6,302.7 270.7,304.04 270.8,306.42 270.9,303.6 271,304.37 271.1,305.09 271.2,301.25 271.3,305.92 271.4,305.13 271.5,305.52 271.6,302.73 271.7,303.1 271.8,303.4 271.9,304.92 272,304.58 272.1,304.68 272.2,307.66 272.3,306.78 272.4,303.13 272.5,303.23 272.6,307.49 272.7,303.82 272.8,306.87 272.9,307.25 273,303.39 273.1,303.87 273.2,304.5 273.3,302.78 273.4,302.57 273.5,303.6 273.6,305.85 273.7,303.5 273.8,303.92 273.9,303.45 274,301.82 274.1,306.94 274.2,300.04 274.3,303.07 274.4,305.25 274.5,301.72 274.6,305.31 274.7,306.47 274.8,302.66 274.9,304.57 275,302.19 275.1,305.09 275.2,304.33 275.3,304.55 275.4,306.61 275.5,304.99 275.6,306.55 275.7,305.26 275.8,301.95 275.9,304.57 276,304.98 276.1,301.48 276.2,306.48 276.3,304.19 276.4,304.72 276.5,302.44 276.6,304.17 276.7,304.57 276.8,303.44 276.9,304.16 277,300.19 277.1,306.45 277.2,301.98 277.3,300.05 277.4,302.24 277.5,302.46 277.6,304.93 277.7,302.3 277.8,304.44 277.9,302.2 278,307.89 278.1,304.89 278.2,307.42 278.3,302.06 278.4,305.07 278.5,302.15 278.6,304.9 278.7,305.07 278.8,300.97 278.9,301.78 279,301.72 279.1,301.1 279.2,302.49 279.3,302.06 279.4,301.18 279.5,303.95 279.6,304.75 279.7,301.39 279.8,302.74 279.9,303.75 280,303.31 280.1,302.46 280.2,305.18 280.3,305.24 280.4,304.94 280.5,303.34 280.6,307.29 280.7,306.84 280.8,302.98 280.9,303.49 281,305.84 281.1,302.26 281.2,304.41 281.3,303.78 281.4,302.43 281.5,303.27 281.6,300.86 281.7,302.71 281.8,300.09 281.9,307.78 282,306.39 282.1,305.89 282.2,304.22 282.3,305.47 282.4,305.96 282.5,305.49 282.6,305.32 282.7,302.02 282.8,304.43 282.9,302.69 283,301.53 283.1,301.59 283.2,304.42 283.3,305.54 283.4,301.18 283.5,306.78 283.6,306.28 283.7,302.95 283.8,302.8 283.9,303.5 284,305.39 284.1,302.93 284.2,301.63 284.3,304.24 284.4,299.9 284.5,303.87 284.6,305.7 284.7,304.16 284.8,305.01 284.9,304.49 285,304.91 285.1,303.86 285.2,302.1 285.3,303.19 285.4,303.46 285.5,305.86 285.6,306.52 285.7,304.34 285.8,302.23 285.9,302.27 286,303.24 286.1,306.08 286.2,304.18 286.3,303.47 286.4,302.19 286.5,305.16 286.6,304.09 286.7,303.47 286.8,303.75 286.9,306.6 287,303.27 287.1,306.6 287.2,305.79 287.3,303.65 287.4,305.14 287.5,303.33 287.6,302.06 287.7,303.06 287.8,301.91 287.9,304.46 288,303.57 288.1,304.56 288.2,305.02 288.3,297.92 288.4,304.09 288.5,300.29 288.6,303.83 288.7,301.95 288.8,303.71 288.9,305.98 289,300.45 289.1,303.86 289.2,303.37 289.3,300.11 289.4,304.68 289.5,303.57 289.6,302.59 289.7,302.21 289.8,309.29 289.9,302.79 290,300.26 290.1,301.84 290.2,302.87 290.3,302.85 290.4,303.42 290.5,301.69 290.6,304.56 290.7,302.73 290.8,301.17 290.9,302.17 291,302.96 291.1,305.19 291.2,304.55 291.3,303.09 291.4,303.75 291.5,304.11 291.6,307.41 291.7,302.64 291.8,304.61 291.9,305.09 292,302.08 292.1,304.16 292.2,304.12 292.3,303 292.4,304.88 292.5,305.73 292.6,305.92 292.7,303.56 292.8,304.26 292.9,308.17 293,301.96 293.1,304.36 293.2,305.58 293.3,304.27 293.4,305.19 293.5,304.34 293.6,305.4 293.7,306.36 293.8,303.67 293.9,304.44 294,304 294.1,303.39 294.2,304.09 294.3,302.11 294.4,305.5 294.5,307.24 294.6,307.26 294.7,306.5 294.8,302.48 294.9,306.97 295,302.96 295.1,304.17 295.2,307.6 295.3,302.37 295.4,305.82 295.5,304.83 295.6,304.07 295.7,302.78 295.8,305.13 295.9,303.55 296,306.28 296.1,306.62 296.2,301.95 296.3,303.54 296.4,303.89 296.5,302.35 296.6,302.48 296.7,304.66 296.8,304.15 296.9,301.56 297,303.58 297.1,305.5 297.2,302.41 297.3,302.93 297.4,307.47 297.5,307 297.6,301.72 297.7,302.22 297.8,305.35 297.9,302.54 298,304.24 298.1,303.9 298.2,305.74 298.3,300.19 298.4,300.8 298.5,302.57 298.6,306.61 298.7,304.53 298.8,301.75 298.9,305.72 299,306.12 299.1,304.42 299.2,304.29 299.3,305.68 299.4,307.09 299.5,305.2 299.6,305.9 299.7,304.87 299.8,304.28 299.9,303.34 300,305.46 300.1,304.48 300.2,304.6 300.3,306.73 300.4,305.96 300.5,306.67 300.6,302.28 300.7,306.15 300.8,304.1 300.9,303.73 301,303.67 301.1,307.4 301.2,306.73 301.3,303.97 301.4,303.23 301.5,305.32 301.6,304.49 301.7,308.33 301.8,302.73 301.9,302.09 302,304.94 302.1,305.44 302.2,305.68 302.3,306.82 302.4,309.21 302.5,304.88 302.6,304.54 302.7,302.37 302.8,306 302.9,307.12 303,305.13 303.1,307.75 303.2,305.69 303.3,308.39 303.4,306.28 303.5,303.8 303.6,304.57 303.7,302.98 303.8,302.63 303.9,306.26 304,307.37 304.1,309.34 304.2,305.74 304.3,305.43 304.4,303.88 304.5,307.68 304.6,306.62 304.7,304.87 304.8,307.2 304.9,306.99 305,302.63 305.1,307.36 305.2,306.28 305.3,305.36 305.4,305.33 305.5,309.25 305.6,308.88 305.7,309.43 305.8,304.09 305.9,305 306,307.83 306.1,304.04 306.2,304.94 306.3,303.01 306.4,309.62 306.5,308.21 306.6,307.15 306.7,306.73 306.8,305.61 306.9,305.66 307,307.51 307.1,305.14 307.2,308.65 307.3,305.57 307.4,304.91 307.5,308.84 307.6,306.26 307.7,307.54 307.8,305.81 307.9,302.53 308,307.58 308.1,304.2 308.2,308.59 308.3,303.87 308.4,303.32 308.5,307.25 308.6,307.49 308.7,306.93 308.8,304.58 308.9,308.38 309,304.16 309.1,305.98 309.2,305.42 309.3,306.18 309.4,308.42 309.5,305.76 309.6,307.94 309.7,308.19 309.8,303.88 309.9,304.88 310,306.31 310.1,305.96 310.2,307.61 310.3,303.6 310.4,308.41 310.5,308.48 310.6,306.86 310.7,304.7 310.8,307.23 310.9,306.28 311,308.29 311.1,307.14 311.2,308.63 311.3,306.57 311.4,309.97 311.5,303.26 311.6,305.6 311.7,308.34 311.8,304.77 311.9,308.84 312,305.35 312.1,307.73 312.2,305.95 312.3,306.83 312.4,307.96 312.5,307.49 312.6,307.02 312.7,311.6 312.8,307.77 312.9,306.04 313,309.48 313.1,309.31 313.2,310.07 313.3,311.11 313.4,306.23 313.5,309.85 313.6,310.02 313.7,308 313.8,308.47 313.9,302.65 314,307.05 314.1,311.33 314.2,304.92 314.3,307.2 314.4,308.71 314.5,309.25 314.6,311.18 314.7,305.1 314.8,308.37 314.9,309.87 315,305.99 315.1,308.31 315.2,311.8 315.3,310.8 315.4,309.43 315.5,303.78 315.6,308.28 315.7,309.23 315.8,308.01 315.9,308.48 316,314.17 316.1,308.26 316.2,306.93 316.3,309.14 316.4,308.16 316.5,308.2 316.6,308.63 316.7,310.2 316.8,309.26 316.9,306.7 317,308.65 317.1,309.77 317.2,308.1 317.3,311.04 317.4,310.4 317.5,307.24 317.6,309.63 317.7,312.65 317.8,311.91 317.9,309.03 318,310.78 318.1,307.97 318.2,306.61 318.3,310.24 318.4,309.71 318.5,310.22 318.6,309.28 318.7,309.94 318.8,308.45 318.9,310.25 319,310.93 319.1,309.35 319.2,310.95 319.3,306.32 319.4,308.12 319.5,312.17 319.6,312.76 319.7,310.07 319.8,309.46 319.9,307.39 320,310.35 320.1,311.12 320.2,307.07 320.3,310.76 320.4,310.66 320.5,310.59 320.6,307.78 320.7,310.81 320.8,307.15 320.9,312.55 321,310.13 321.1,307.81 321.2,312.34 321.3,312.02 321.4,308.79 321.5,313.95 321.6,308.19 321.7,310.58 321.8,312.16 321.9,305.97 322,311.87 322.1,309.97 322.2,310.08 322.3,308.19 322.4,310.74 322.5,308.17 322.6,308.44 322.7,309.4 322.8,308.01 322.9,313.07 323,307.87 323.1,308.92 323.2,309.72 323.3,310.32 323.4,311.76 323.5,311.82 323.6,309.82 323.7,309.7 323.8,310.47 323.9,311.9 324,311.7 324.1,309.53 324.2,306.77 324.3,314.36 324.4,312.23 324.5,311.01 324.6,311.17 324.7,309.63 324.8,308.79 324.9,310.01 325,310.23 325.1,309.52 325.2,308.04 325.3,310.12 325.4,311.74 325.5,309.83 325.6,310.78 325.7,307.03 325.8,310.4 325.9,310.58 326,308.61 326.1,307.72 326.2,311.59 326.3,309.41 326.4,311.77 326.5,310.15 326.6,312.05 326.7,310.33 326.8,308.25 326.9,310.83 327,310.41 327.1,312.18" stroke="#FF0000" stroke-width="1.2" fill="none" />
<polyline points="66.5,384.51 66.6,384.62 66.7,386.88 66.8,387.44 66.9,386.71 67,387.22 67.1,386.17 67.2,386.75 67.3,386.95 67.4,386.1 67.5,385.49 67.6,385.64 67.7,389.71 67.8,385.41 67.9,384.97 68,384.74 68.1,385.34 68.2,385.85 68.3,383.38 68.4,381.85 68.5,385.96 68.6,382.54 68.7,385.9 68.8,385.69 68.9,387.52 69,388.46 69.1,386.12 69.2,384.46 69.3,383.35 69.4,384.04 69.5,385.55 69.6,381.76 69.7,385.62 69.8,385.47 69.9,386.65 70,384.9 70.1,385.69 70.2,384.18 70.3,384.68 70.4,382.33 70.5,385.75 70.6,388.32 70.7,385.83 70.8,386.2 70.9,383.78 71,388.13 71.1,384.17 71.2,387 71.3,385.76 71.4,383.84 71.5,387.42 71.6,385.61 71.7,385.91 71.8,386.4 71.9,385.56 72,384.92 72.1,386.44 72.2,384.88 72.3,385.73 72.4,384.42 72.5,382.94 72.6,384.42 72.7,384.74 72.8,385.67 72.9,387.78 73,382.61 73.1,385.89 73.2,381.68 73.3,383.78 73.4,384.76 73.5,381.62 73.6,382.34 73.7,385.96 73.8,385.83 73.9,385.49 74,384.25 74.1,389.58 74.2,385.42 74.3,384.16 74.4,388.74 74.5,386.83 74.6,385.06 74.7,387.88 74.8,386.02 74.9,386.9 75,386.17 75.1,383.9 75.2,387.51 75.3,386.05 75.4,383.95 75.5,384.4 75.6,387.5 75.7,385.12 75.8,385.87 75.9,386.97 76,386.03 76.1,383.06 76.2,386.96 76.3,387.5 76.4,387.38 76.5,388.74 76.6,386.49 76.7,387.23 76.8,388.7 76.9,385.32 77,388.98 77.1,388.98 77.2,387.27 77.3,389.18 77.4,387.4 77.5,384.29 77.6,387.93 77.7,386.47 77.8,386.63 77.9,386.17 78,388.35 78.1,386.9 78.2,384.66 78.3,386.79 78.4,387.23 78.5,384.62 78.6,385.15 78.7,385.25 78.8,384.85 78.9,386.57 79,387.78 79.1,389.36 79.2,388.11 79.3,387.8 79.4,388.03 79.5,388.38 79.6,385.3 79.7,387.23 79.8,386.57 79.9,385.76 80,385.18 80.1,385.1 80.2,385.53 80.3,383.79 80.4,386.96 80.5,385.99 80.6,386.22 80.7,386.64 80.8,387.34 80.9,384.98 81,385.86 81.1,383.16 81.2,382.06 81.3,382.57 81.4,388.84 81.5,382.79 81.6,386.93 81.7,388.74 81.8,385.27 81.9,389.03 82,389.43 82.1,387.81 82.2,390.38 82.3,387.24 82.4,384.81 82.5,387.07 82.6,385.34 82.7,383.8 82.8,383.85 82.9,390.31 83,385.18 83.1,386.12 83.2,384.98 83.3,386.43 83.4,385.76 83.5,385.45 83.6,384.02 83.7,383.66 83.8,384.87 83.9,386.74 84,389.96 84.1,388.12 84.2,389.52 84.3,387.11 84.4,386.09 84.5,383.87 84.6,386.26 84.7,382.4 84.8,385.73 84.9,389.21 85,386.87 85.1,388.32 85.2,385.61 85.3,383.82 85.4,385.44 85.5,385.6 85.6,388.49 85.7,389.88 85.8,385 85.9,385.69 86,386.08 86.1,385.72 86.2,384.11 86.3,386.52 86.4,387.01 86.5,387.06 86.6,384.19 86.7,386.16 86.8,383.24 86.9,388.02 87,384.55 87.1,385.89 87.2,385.58 87.3,385.34 87.4,384.49 87.5,383.22 87.6,389.53 87.7,386.87 87.8,386.89 87.9,390.2 88,386.24 88.1,387.42 88.2,386.47 88.3,388.57 88.4,387.34 88.5,387.01 88.6,385.99 88.7,386.95 88.8,388.55 88.9,382.72 89,386.23 89.1,385.71 89.2,385.93 89.3,382.92 89.4,387.79 89.5,384.96 89.6,386.08 89.7,385.58 89.8,383.49 89.9,385.69 90,383.18 90.1,384.81 90.2,385.94 90.3,386.5 90.4,386.61 90.5,386.27 90.6,390.37 90.7,387.31 90.8,384.33 90.9,385.43 91,385.35 91.1,386.22 91.2,385.46 91.3,385.01 91.4,389.52 91.5,386.63 91.6,385.95 91.7,386.11 91.8,386.17 91.9,389.07 92,387.43 92.1,388.6 92.2,380.97 92.3,387.17 92.4,388.49 92.5,390.14 92.6,386.65 92.7,383.51 92.8,387.66 92.9,385.53 93,383.38 93.1,385.5 93.2,388.52 93.3,388.78 93.4,387.92 93.5,384.74 93.6,391.16 93.7,384.53 93.8,386.5 93.9,384.04 94,389.02 94.1,387.45 94.2,388.25 94.3,386.82 94.4,386.54 94.5,386.98 94.6,383.27 94.7,388.46 94.8,388.32 94.9,385.98 95,386.66 95.1,387.23 95.2,389.52 95.3,387.48 95.4,386.78 95.5,385.79 95.6,384 95.7,385.64 95.8,386.85 95.9,386.27 96,386.86 96.1,388.07 96.2,387.52 96.3,387.24 96.4,387.93 96.5,387.08 96.6,386.7 96.7,387.6 96.8,383.65 96.9,389.02 97,384.45 97.1,388.28 97.2,386.8 97.3,388.78 97.4,386.85 97.5,385.09 97.6,388.73 97.7,387.13 97.8,387.01 97.9,386.95 98,388.61 98.1,388.29 98.2,387.23 98.3,384.03 98.4,386.1 98.5,387.02 98.6,390.06 98.7,387.53 98.8,386.68 98.9,389 99,386.65 99.1,386.8 99.2,387.14 99.3,384.17 99.4,388.59 99.5,387.64 99.6,386.36 99.7,384.82 99.8,387.27 99.9,389.4 100,385.73 100.1,384.98 100.2,387.65 100.3,384.03 100.4,382.91 100.5,386.11 100.6,385.67 100.7,386.42 100.8,385.93 100.9,387.52 101,386.53 101.1,385.85 101.2,386.11 101.3,388.08 101.4,388.67 101.5,388.57 101.6,388.2 101.7,381.02 101.8,385.15 101.9,386.4 102,387.34 102.1,384.06 102.2,389.53 102.3,387.52 102.4,385.86 102.5,387.28 102.6,386.36 102.7,385.62 102.8,387.91 102.9,386.18 103,384.46 103.1,385.86 103.2,386.8 103.3,385.07 103.4,389.29 103.5,385.06 103.6,390.19 103.7,388.64 103.8,385.34 103.9,387.27 104,389.17 104.1,386.7 104.2,384.9 104.3,387.26 104.4,390.64 104.5,384.38 104.6,388.07 104.7,387.09 104.8,386.86 104.9,386.38 105,386.51 105.1,388.96 105.2,388.17 105.3,385.3 105.4,389.91 105.5,384.77 105.6,388.3 105.7,387.44 105.8,389.27 105.9,387.76 106,389.03 106.1,387.09 106.2,388.9 106.3,387.79 106.4,391.05 106.5,385.94 106.6,389.35 106.7,388.05 106.8,387.55 106.9,386.23 107,388.06 107.1,384.62 107.2,384.82 107.3,388.58 107.4,384.51 107.5,389.91 107.6,386.84 107.7,387.8 107.8,387.5 107.9,388.13 108,386.89 108.1,386.74 108.2,387.19 108.3,389.32 108.4,389.48 108.5,389.75 108.6,388.13 108.7,387.12 108.8,384.47 108.9,388.67 109,389.04 109.1,386.81 109.2,389 109.3,389.88 109.4,387.74 109.5,389.49 109.6,388.15 109.7,384.49 109.8,386.78 109.9,386.9 110,388.61 110.1,386.11 110.2,386.89 110.3,385.96 110.4,387.63 110.5,387.84 110.6,389.48 110.7,389.18 110.8,388.05 110.9,388.2 111,387.98 111.1,388 111.2,390.59 111.3,383.34 111.4,387.52 111.5,388.41 111.6,389.89 111.7,385.9 111.8,388.51 111.9,389.45 112,387.11 112.1,384.49 112.2,387.29 112.3,385.79 112.4,389.13 112.5,386.44 112.6,391.19 112.7,388.25 112.8,386.56 112.9,387.12 113,386.07 113.1,388.75 113.2,390.75 113.3,387.69 113.4,389.76 113.5,386.41 113.6,388.67 113.7,392.28 113.8,385.61 113.9,390.37 114,390.28 114.1,384.8 114.2,385.61 114.3,386.45 114.4,389.96 114.5,387.46 114.6,387.94 114.7,389.53 114.8,388.48 114.9,388.69 115,387.72 115.1,390.33 115.2,386.92 115.3,391.35 115.4,387.74 115.5,386.92 115.6,389.53 115.7,389.2 115.8,384.83 115.9,388.81 116,385.99 116.1,386.94 116.2,389.86 116.3,386.91 116.4,389.11 116.5,387.8 116.6,391.97 116.7,388.33 116.8,386.4 116.9,386.54 117,386.91 117.1,388.78 117.2,388.56 117.3,390.32 117.4,388.89 117.5,388.83 117.6,389.2 117.7,388.39 117.8,389.17 117.9,390.06 118,390.07 118.1,387.69 118.2,385.51 118.3,387.24 118.4,389.22 118.5,384.24 118.6,387.88 118.7,389.56 118.8,387.74 118.9,386.76 119,391.94 119.1,391.29 119.2,388.34 119.3,391.2 119.4,391.17 119.5,386.81 119.6,393.68 119.7,387.18 119.8,388.41 119.9,386.92 120,389.04 120.1,386.55 120.2,388.92 120.3,390.89 120.4,389.34 120.5,388.49 120.6,391.76 120.7,387.38 120.8,390.75 120.9,388.47 121,389.42 121.1,389.1 121.2,389.28 121.3,388.97 121.4,387.67 121.5,388.07 121.6,389.9 121.7,388.92 121.8,387.03 121.9,387.87 122,387.91 122.1,389.06 122.2,389.5 122.3,389.35 122.4,388.02 122.5,389.24 122.6,386.76 122.7,384.05 122.8,389.15 122.9,386.28 123,387.57 123.1,387.11 123.2,390.43 123.3,387.13 123.4,389.81 123.5,388.45 123.6,387.11 123.7,386.52 123.8,390.19 123.9,390.07 124,390.78 124.1,392.69 124.2,389.9 124.3,389.92 124.4,389.21 124.5,389.63 124.6,388.82 124.7,387.85 124.8,393.06 124.9,386.14 125,389.96 125.1,390.31 125.2,389.79 125.3,387.8 125.4,389.2 125.5,388.73 125.6,387.63 125.7,389.5 125.8,388.86 125.9,388.61 126,390.84 126.1,387.72 126.2,390.43 126.3,388.55 126.4,390.43 126.5,389.8 126.6,390.12 126.7,387.93 126.8,388.31 126.9,388.18 127,390.04 127.1,391.09 127.2,391.69 127.3,388.87 127.4,389.93 127.5,386.88 127.6,385.82 127.7,388.26 127.8,388.63 127.9,387.05 128,386.66 128.1,390.82 128.2,388.43 128.3,386.87 128.4,394.07 128.5,390.22 128.6,389.35 128.7,391.15 128.8,388.58 128.9,392.81 129,387.21 129.1,387.63 129.2,389.75 129.3,388.63 129.4,392.55 129.5,387.15 129.6,388.73 129.7,390.48 129.8,391.07 129.9,391.87 130,390.7 130.1,394.05 130.2,389.26 130.3,390.44 130.4,391.67 130.5,389.58 130.6,389.63 130.7,389.33 130.8,389.02 130.9,388.17 131,389.21 131.1,387.44 131.2,390.91 131.3,387.38 131.4,393.95 131.5,393.31 131.6,392.26 131.7,389.91 131.8,389.25 131.9,392.51 132,390.65 132.1,391.34 132.2,389.06 132.3,392.27 132.4,388.94 132.5,390.58 132.6,387.29 132.7,389.24 132.8,391.32 132.9,389.63 133,389.65 133.1,391.87 133.2,390.34 133.3,392.71 133.4,386.16 133.5,391.53 133.6,391.43 133.7,387.77 133.8,388.22 133.9,392.14 134,388.66 134.1,389.45 134.2,391.67 134.3,390.02 134.4,391.48 134.5,389.08 134.6,391.19 134.7,392.61 134.8,391.26 134.9,386.76 135,391.87 135.1,390.81 135.2,389.08 135.3,393.21 135.4,387.59 135.5,394.07 135.6,389.58 135.7,393.54 135.8,390.64 135.9,388.33 136,390.89 136.1,391.31 136.2,391.69 136.3,392.62 136.4,389.12 136.5,391.61 136.6,392.05 136.7,390.24 136.8,389.05 136.9,389.02 137,392.08 137.1,392.17 137.2,389.25 137.3,388.34 137.4,392.96 137.5,387.96 137.6,391.03 137.7,389.3 137.8,387.6 137.9,390.97 138,390.41 138.1,393.33 138.2,394.82 138.3,390.41 138.4,392.59 138.5,392.63 138.6,389.82 138.7,389.2 138.8,393.64 138.9,390.11 139,390.71 139.1,390.24 139.2,390.53 139.3,389.68 139.4,392.11 139.5,393.02 139.6,390.1 139.7,388.3 139.8,390.86 139.9,388.11 140,389.63 140.1,392.98 140.2,394.94 140.3,391.45 140.4,388.87 140.5,392.18 140.6,386.76 140.7,389.54 140.8,393.52 140.9,392.12 141,388.32 141.1,387.81 141.2,392.33 141.3,390.71 141.4,389.73 141.5,391.54 141.6,389.77 141.7,387.36 141.8,392.25 141.9,389.64 142,389.01 142.1,388.42 142.2,391.26 142.3,389.37 142.4,391.93 142.5,390.34 142.6,392.75 142.7,390.13 142.8,389.65 142.9,387.29 143,388.85 143.1,392.11 143.2,396.3 143.3,388.59 143.4,388.97 143.5,391.44 143.6,391.69 143.7,389.62 143.8,390.98 143.9,387.96 144,390.31 144.1,392.45 144.2,393.77 144.3,390.54 144.4,390.38 144.5,391.66 144.6,392.83 144.7,391.72 144.8,389.51 144.9,391.49 145,392.59 145.1,389.58 145.2,388.47 145.3,391.77 145.4,391.52 145.5,392.59 145.6,391.02 145.7,389.71 145.8,390.09 145.9,389.03 146,389.18 146.1,389.87 146.2,390.01 146.3,392.87 146.4,388.68 146.5,390.8 146.6,389.83 146.7,393.55 146.8,391.36 146.9,390.22 147,392.35 147.1,391.02 147.2,390.05 147.3,393.65 147.4,392.17 147.5,394 147.6,392.98 147.7,392.3 147.8,391.15 147.9,388.97 148,392.18 148.1,391.02 148.2,392.08 148.3,390.84 148.4,389.6 148.5,389.01 148.6,392.05 148.7,393.09 148.8,390.24 148.9,391.55 149,393.19 149.1,389.2 149.2,390.06 149.3,388.65 149.4,392.74 149.5,391.08 149.6,389.76 149.7,387.61 149.8,390.23 149.9,392.31 150,389.98 150.1,389.73 150.2,391.61 150.3,388.24 150.4,390.52 150.5,391.48 150.6,388.99 150.7,388.88 150.8,390.79 150.9,390.15 151,389.88 151.1,390.65 151.2,390.66 151.3,388.59 151.4,389.03 151.5,391 151.6,392.19 151.7,392.58 151.8,388.63 151.9,392.08 152,391.46 152.1,390.03 152.2,390.93 152.3,391.52 152.4,393.21 152.5,388.11 152.6,391.05 152.7,389.71 152.8,389.57 152.9,391.97 153,391.36 153.1,388.06 153.2,389.35 153.3,390.24 153.4,387.29 153.5,391.34 153.6,389.64 153.7,390.04 153.8,390.33 153.9,392.94 154,389.76 154.1,389.04 154.2,392.75 154.3,388.74 154.4,388.67 154.5,387.12 154.6,391.5 154.7,390.03 154.8,390.37 154.9,389.8 155,389.25 155.1,388.07 155.2,388.06 155.3,390.2 155.4,389.63 155.5,392.29 155.6,388.01 155.7,388.48 155.8,387.51 155.9,391.76 156,387.09 156.1,390.64 156.2,391.8 156.3,388.97 156.4,390.49 156.5,385.39 156.6,388.47 156.7,386.19 156.8,389.42 156.9,389.11 157,387.71 157.1,390.74 157.2,389.67 157.3,388.08 157.4,388.08 157.5,386.36 157.6,388.62 157.7,392.7 157.8,387.65 157.9,389.64 158,387.89 158.1,390.28 158.2,389.61 158.3,388.39 158.4,385.61 158.5,387.85 158.6,390.88 158.7,388.29 158.8,389.82 158.9,387.83 159,385.34 159.1,389.4 159.2,389.19 159.3,387.57 159.4,387.92 159.5,389.08 159.6,387.48 159.7,389.13 159.8,388.14 159.9,384.28 160,388.2 160.1,387.38 160.2,386.94 160.3,389.13 160.4,387.54 160.5,389.35 160.6,390.33 160.7,388.62 160.8,385.6 160.9,387.04 161,389.95 161.1,387.86 161.2,386.87 161.3,388.13 161.4,389.17 161.5,388.73 161.6,389.4 161.7,386.77 161.8,387.74 161.9,387.77 162,388.16 162.1,384.46 162.2,387.76 162.3,385.78 162.4,390.62 162.5,390.91 162.6,391.12 162.7,389.55 162.8,387.24 162.9,389.79 163,387.72 163.1,389.15 163.2,386.44 163.3,386.99 163.4,388.85 163.5,391.17 163.6,387.95 163.7,392 163.8,392.88 163.9,385.68 164,387.9 164.1,386.24 164.2,387.68 164.3,386.96 164.4,387.78 164.5,389.6 164.6,389.54 164.7,388.32 164.8,387.85 164.9,388.04 165,388.05 165.1,388.83 165.2,387.8 165.3,388.68 165.4,385.44 165.5,389.17 165.6,390.85 165.7,388.06 165.8,385.2 165.9,390.11 166,387.11 166.1,382.36 166.2,387.28 166.3,388.73 166.4,388.33 166.5,389.84 166.6,388.72 166.7,387.83 166.8,384.07 166.9,385.6 167,387.89 167.1,388.76 167.2,385.71 167.3,386.44 167.4,388.35 167.5,384.1 167.6,384.02 167.7,387.07 167.8,387.91 167.9,386.6 168,383.35 168.1,387.47 168.2,385.05 168.3,388.56 168.4,387.21 168.5,387.84 168.6,388.5 168.7,386.41 168.8,388.81 168.9,389.54 169,388.01 169.1,389.66 169.2,386.17 169.3,388.9 169.4,387.74 169.5,385.49 169.6,387.09 169.7,386.27 169.8,386.22 169.9,387.35 170,389.07 170.1,386.61 170.2,387.4 170.3,384.57 170.4,387.37 170.5,389.24 170.6,388.63 170.7,388.03 170.8,386.25 170.9,385.45 171,387.02 171.1,384.8 171.2,384.99 171.3,388.87 171.4,385.55 171.5,390.39 171.6,384.64 171.7,387.96 171.8,385.1 171.9,387.5 172,385.34 172.1,387.27 172.2,386.92 172.3,386.39 172.4,388.11 172.5,389.89 172.6,386.14 172.7,388.77 172.8,387.35 172.9,387.15 173,391.11 173.1,383.33 173.2,385.99 173.3,383.97 173.4,386.64 173.5,386.79 173.6,394 173.7,387.82 173.8,390.41 173.9,389.52 174,386.42 174.1,388.06 174.2,390.18 174.3,387.52 174.4,387.58 174.5,388.11 174.6,384.53 174.7,385.76 174.8,387.81 174.9,388.18 175,385.57 175.1,386.64 175.2,386.99 175.3,386.94 175.4,388.45 175.5,387.4 175.6,387.51 175.7,384.69 175.8,385.34 175.9,387.79 176,384.37 176.1,387.7 176.2,386.04 176.3,385.77 176.4,388.37 176.5,386.01 176.6,385.69 176.7,386.01 176.8,387.32 176.9,392.12 177,383.43 177.1,387.18 177.2,386.79 177.3,388.92 177.4,386.56 177.5,382.8 177.6,389.59 177.7,385.27 177.8,387.11 177.9,384.77 178,385.26 178.1,386.33 178.2,388.75 178.3,388.72 178.4,386.15 178.5,388.11 178.6,386.55 178.7,387.42 178.8,387.49 178.9,388.32 179,386.12 179.1,386.98 179.2,387.61 179.3,387.38 179.4,385.79 179.5,390.3 179.6,386.39 179.7,388.57 179.8,387.58 179.9,389.4 180,383.31 180.1,390.89 180.2,386.84 180.3,385.02 180.4,387.45 180.5,391.26 180.6,388.12 180.7,385.02 180.8,386.39 180.9,389.61 181,384.71 181.1,386.9 181.2,386.7 181.3,391.1 181.4,386.7 181.5,389.57 181.6,386.01 181.7,385.79 181.8,389.02 181.9,388.34 182,384.13 182.1,388.37 182.2,388.38 182.3,386.13 182.4,387.62 182.5,387.71 182.6,386.36 182.7,386.18 182.8,386.03 182.9,386.74 183,384.85 183.1,387.15 183.2,384.56 183.3,387.36 183.4,387.08 183.5,385.38 183.6,388.76 183.7,390.69 183.8,389.6 183.9,384.79 184,389.51 184.1,387.63 184.2,387.14 184.3,386.17 184.4,387.22 184.5,389.72 184.6,388.21 184.7,386.5 184.8,386.04 184.9,386.5 185,388.29 185.1,390.59 185.2,385.39 185.3,387.3 185.4,386.63 185.5,385.99 185.6,388.07 185.7,388.36 185.8,384.87 185.9,385.57 186,389.57 186.1,388.02 186.2,388.41 186.3,386.6 186.4,386.84 186.5,388.36 186.6,386.67 186.7,385.6 186.8,387.6 186.9,389.23 187,385.8 187.1,389.54 187.2,388.93 187.3,386.16 187.4,387.73 187.5,387.66 187.6,388.89 187.7,388.97 187.8,385.48 187.9,385.42 188,389.67 188.1,388.06 188.2,388.62 188.3,388.49 188.4,390.65 188.5,385.79 188.6,389.9 188.7,386.52 188.8,389.3 188.9,390.41 189,385.57 189.1,388.78 189.2,387.58 189.3,387.58 189.4,388.19 189.5,386.27 189.6,386.44 189.7,389.35 189.8,389.7 189.9,387.21 190,385.65 190.1,392.38 190.2,390.24 190.3,388.94 190.4,386.49 190.5,387.3 190.6,388.79 190.7,386.67 190.8,391.25 190.9,388.66 191,389.14 191.1,386.63 191.2,386.87 191.3,387.1 191.4,389.01 191.5,388.07 191.6,388.05 191.7,389.14 191.8,389 191.9,391.25 192,388.29 192.1,386.86 192.2,388.66 192.3,391.3 192.4,387.74 192.5,388.83 192.6,388.12 192.7,389.5 192.8,389.25 192.9,387.38 193,388.43 193.1,390.53 193.2,390.82 193.3,390.53 193.4,390.45 193.5,388.35 193.6,388.32 193.7,390.63 193.8,386.92 193.9,388.92 194,385.75 194.1,388.39 194.2,387.83 194.3,386.97 194.4,390.15 194.5,387.84 194.6,388.51 194.7,388.72 194.8,387.9 194.9,391.74 195,388.37 195.1,389.61 195.2,386.97 195.3,388.47 195.4,388.75 195.5,388.8 195.6,388.33 195.7,389.64 195.8,392.16 195.9,389.2 196,389.2 196.1,388.78 196.2,393.98 196.3,392.37 196.4,390.52 196.5,390.8 196.6,388.32 196.7,389.33 196.8,389.99 196.9,389.85 197,388.15 197.1,388.3 197.2,390.61 197.3,390.28 197.4,386.02 197.5,389.93 197.6,392.03 197.7,388.67 197.8,390.25 197.9,387.28 198,391.34 198.1,387.92 198.2,387.7 198.3,389.37 198.4,394.14 198.5,388.9 198.6,387.77 198.7,390.83 198.8,390.44 198.9,392.99 199,387.84 199.1,387.29 199.2,389.57 199.3,390.81 199.4,390.8 199.5,392.1 199.6,387.57 199.7,388.77 199.8,390.02 199.9,391.75 200,391.13 200.1,389.57 200.2,388.53 200.3,391.91 200.4,392.05 200.5,395.18 200.6,390.1 200.7,393.3 200.8,388.32 200.9,389.52 201,389.31 201.1,389.7 201.2,389 201.3,389.6 201.4,390.49 201.5,389.81 201.6,391.79 201.7,390.5 201.8,390.67 201.9,393.29 202,391.27 202.1,391 202.2,390.72 202.3,390.88 202.4,391.81 202.5,389.4 202.6,392.86 202.7,393.63 202.8,392.91 202.9,390.03 203,388.11 203.1,390.17 203.2,391.23 203.3,392.44 203.4,390.68 203.5,390.49 203.6,393.73 203.7,389.89 203.8,392.97 203.9,392.7 204,388.78 204.1,391.64 204.2,390.19 204.3,389.52 204.4,387.95 204.5,388.47 204.6,391.99 204.7,390.59 204.8,391.78 204.9,389.44 205,390.77 205.1,390.88 205.2,388.66 205.3,388.47 205.4,392.2 205.5,391.7 205.6,389.82 205.7,391.31 205.8,392.67 205.9,394.76 206,389.98 206.1,392.66 206.2,395.32 206.3,391.73 206.4,394.22 206.5,387.09 206.6,394.23 206.7,391.67 206.8,388.4 206.9,393.11 207,393.61 207.1,393.91 207.2,393.91 207.3,391.76 207.4,390.52 207.5,391.04 207.6,391.82 207.7,392.62 207.8,391.07 207.9,392.03 208,393.51 208.1,392.56 208.2,396.05 208.3,395.83 208.4,390.02 208.5,391.06 208.6,389.77 208.7,390.05 208.8,393.09 208.9,390.4 209,390.32 209.1,391.71 209.2,393.62 209.3,391.6 209.4,391.62 209.5,393.9 209.6,393.13 209.7,393.12 209.8,394.01 209.9,390.57 210,392.76 210.1,391.28 210.2,394.23 210.3,393.88 210.4,390.61 210.5,394.85 210.6,390.43 210.7,394.59 210.8,392.9 210.9,391.02 211,390.6 211.1,392.07 211.2,392.58 211.3,391.39 211.4,393.66 211.5,390.21 211.6,392.69 211.7,392.73 211.8,389.44 211.9,393.32 212,390.55 212.1,388.39 212.2,391.74 212.3,392.45 212.4,394.47 212.5,392.03 212.6,395.52 212.7,395.48 212.8,394.89 212.9,395.32 213,393.62 213.1,392.03 213.2,394.19 213.3,394.77 213.4,393.5 213.5,392.67 213.6,390.34 213.7,394.34 213.8,393.79 213.9,390.87 214,393.38 214.1,394.51 214.2,393.05 214.3,394.66 214.4,394.62 214.5,390.69 214.6,392.79 214.7,394.21 214.8,395 214.9,395.89 215,390 215.1,393.31 215.2,394.72 215.3,395.65 215.4,396.49 215.5,391.85 215.6,392.87 215.7,391.68 215.8,395.03 215.9,391.24 216,395.72 216.1,395.3 216.2,394.52 216.3,389.82 216.4,392.5 216.5,395.05 216.6,391.22 216.7,393.34 216.8,393.6 216.9,395.38 217,394.33 217.1,394.33 217.2,393.08 217.3,393.9 217.4,393.67 217.5,395.22 217.6,393.63 217.7,395.81 217.8,390.97 217.9,396.14 218,393.73 218.1,396.06 218.2,394.22 218.3,395.61 218.4,396.77 218.5,393.15 218.6,394.3 218.7,393.87 218.8,394.56 218.9,391.33 219,393.93 219.1,393.81 219.2,392.88 219.3,393.95 219.4,391.57 219.5,396.83 219.6,395.15 219.7,397.73 219.8,392.85 219.9,392.35 220,394.94 220.1,391.49 220.2,394.88 220.3,393.25 220.4,393.93 220.5,394.99 220.6,394.64 220.7,397.89 220.8,395.72 220.9,392.32 221,396.38 221.1,392.28 221.2,394.83 221.3,392.48 221.4,393.24 221.5,397.07 221.6,393.77 221.7,393.63 221.8,393.8 221.9,394.26 222,397.4 222.1,392.76 222.2,392.68 222.3,395.92 222.4,392.08 222.5,394.28 222.6,396.96 222.7,394.97 222.8,394.14 222.9,393.75 223,393.4 223.1,394 223.2,395.31 223.3,397.3 223.4,396.82 223.5,394.12 223.6,393.84 223.7,396.4 223.8,391.95 223.9,394.42 224,394.64 224.1,393.26 224.2,393.49 224.3,395.89 224.4,392.35 224.5,393.69 224.6,394.18 224.7,395.49 224.8,392.93 224.9,397.32 225,394.86 225.1,394.96 225.2,394.8 225.3,394.26 225.4,393.73 225.5,397.54 225.6,395.88 225.7,395.34 225.8,397.32 225.9,394.31 226,396.71 226.1,395.65 226.2,394.05 226.3,396.99 226.4,393.01 226.5,396.84 226.6,394.13 226.7,396.44 226.8,398.19 226.9,396.76 227,394.71 227.1,395.74 227.2,395.16 227.3,393.75 227.4,393.89 227.5,395.95 227.6,396.84 227.7,392.78 227.8,395.8 227.9,396.84 228,396.15 228.1,394.2 228.2,397.83 228.3,393.86 228.4,397.18 228.5,398.89 228.6,392.46 228.7,396.55 228.8,396.66 228.9,396.53 229,394.79 229.1,395.61 229.2,393.71 229.3,396.44 229.4,397.17 229.5,395.06 229.6,394.62 229.7,395.44 229.8,396.28 229.9,396.42 230,396.15 230.1,396.46 230.2,394.02 230.3,391.51 230.4,397.43 230.5,398.86 230.6,393.84 230.7,395.17 230.8,396.88 230.9,398.03 231,397.49 231.1,398.61 231.2,396.26 231.3,397.09 231.4,397.08 231.5,395.59 231.6,398.48 231.7,397.46 231.8,398.09 231.9,395.68 232,398.18 232.1,394.51 232.2,397.06 232.3,391.76 232.4,394.59 232.5,397.67 232.6,395.58 232.7,396.68 232.8,393.52 232.9,399.11 233,397.43 233.1,396.34 233.2,397.12 233.3,396.97 233.4,398.88 233.5,396.77 233.6,393.8 233.7,395.94 233.8,398.66 233.9,397.4 234,395.66 234.1,397.48 234.2,396.61 234.3,397.48 234.4,393.61 234.5,394.83 234.6,397.59 234.7,396.02 234.8,397.04 234.9,399.87 235,395.87 235.1,396.85 235.2,395.44 235.3,395.33 235.4,396.3 235.5,393.87 235.6,392.73 235.7,398.84 235.8,396.25 235.9,398.42 236,396.66 236.1,396.7 236.2,397.62 236.3,397.71 236.4,394.33 236.5,398.58 236.6,394.75 236.7,396.81 236.8,400.95 236.9,396.6 237,399.39 237.1,395.85 237.2,397.55 237.3,396.56 237.4,397.2 237.5,394.97 237.6,394.86 237.7,397.07 237.8,393.73 237.9,395 238,397.61 238.1,395.4 238.2,394.92 238.3,394.54 238.4,396.75 238.5,395.85 238.6,396.76 238.7,396.17 238.8,399.75 238.9,395.73 239,393.06 239.1,396.71 239.2,396.51 239.3,396.78 239.4,393.69 239.5,398.5 239.6,396.46 239.7,396.44 239.8,393.74 239.9,397.35 240,396.41 240.1,398.87 240.2,395.75 240.3,394.3 240.4,396.67 240.5,394.82 240.6,397.13 240.7,394.48 240.8,396.14 240.9,395.95 241,396.26 241.1,395.4 241.2,394.86 241.3,396.16 241.4,395.23 241.5,396.49 241.6,395.73 241.7,392.25 241.8,396.06 241.9,398.57 242,396.65 242.1,397.15 242.2,396.88 242.3,395.24 242.4,393.71 242.5,397.44 242.6,397.85 242.7,396.97 242.8,396.7 242.9,396.63 243,395.88 243.1,396.38 243.2,395.91 243.3,396.43 243.4,394.2 243.5,394.73 243.6,396.79 243.7,395.19 243.8,391.56 243.9,395.96 244,391.75 244.1,399.03 244.2,396.94 244.3,396.83 244.4,394.49 244.5,393.67 244.6,395.24 244.7,395.62 244.8,394.23 244.9,395.82 245,396.72 245.1,396.55 245.2,393.69 245.3,391.72 245.4,395.46 245.5,394.29 245.6,396.19 245.7,398.23 245.8,398.21 245.9,395.85 246,397.25 246.1,398.16 246.2,395.38 246.3,395.75 246.4,396.73 246.5,395.18 246.6,394.36 246.7,393.91 246.8,395.19 246.9,394.09 247,396.52 247.1,394.55 247.2,397.63 247.3,397.17 247.4,392.94 247.5,396.91 247.6,394.34 247.7,397.37 247.8,395.88 247.9,394.9 248,396.11 248.1,393.98 248.2,395.48 248.3,395.56 248.4,394.63 248.5,395.53 248.6,393.13 248.7,395.78 248.8,392.73 248.9,395.86 249,395.58 249.1,395.97 249.2,393.77 249.3,399.92 249.4,394.31 249.5,394.94 249.6,393.37 249.7,397.09 249.8,393.82 249.9,396.31 250,392.97 250.1,395.09 250.2,393.91 250.3,396.11 250.4,394 250.5,393 250.6,395.22 250.7,392.39 250.8,392.77 250.9,395.7 251,391.16 251.1,395.64 251.2,393.63 251.3,392.73 251.4,394.69 251.5,395.33 251.6,393.23 251.7,393.9 251.8,395.55 251.9,395.44 252,394.05 252.1,392.8 252.2,392.48 252.3,393.05 252.4,395.2 252.5,395.01 252.6,394.52 252.7,396.35 252.8,393.44 252.9,393.29 253,393.25 253.1,397.14 253.2,390.36 253.3,394.34 253.4,394.58 253.5,393.9 253.6,397.75 253.7,395.74 253.8,395.04 253.9,392.18 254,394.53 254.1,393.03 254.2,393.71 254.3,393.96 254.4,392.78 254.5,394.65 254.6,396.32 254.7,395.29 254.8,393.87 254.9,390.2 255,395.3 255.1,395.26 255.2,393.09 255.3,392.58 255.4,394.49 255.5,391.97 255.6,394.67 255.7,391.47 255.8,391.72 255.9,393.28 256,390.77 256.1,393.21 256.2,394.09 256.3,390.94 256.4,394.71 256.5,392.17 256.6,394.02 256.7,393.43 256.8,392.28 256.9,392.14 257,390.11 257.1,391.8 257.2,391.65 257.3,395.71 257.4,394.63 257.5,390.57 257.6,394.21 257.7,393.21 257.8,392.17 257.9,393.57 258,394.1 258.1,391.78 258.2,392.26 258.3,392.98 258.4,391.01 258.5,392.96 258.6,392.49 258.7,391.45 258.8,391.16 258.9,393.07 259,394.01 259.1,393.07 259.2,391.04 259.3,393.72 259.4,392.72 259.5,393.41 259.6,394.35 259.7,390.84 259.8,392.11 259.9,391.31 260,390.82 260.1,395.65 260.2,393.84 260.3,389.27 260.4,392.95 260.5,391.27 260.6,394.13 260.7,392.32 260.8,391.87 260.9,392.38 261,392.77 261.1,392.16 261.2,391.72 261.3,391.84 261.4,392.92 261.5,390.14 261.6,392.02 261.7,391.81 261.8,391.17 261.9,393.21 262,389.79 262.1,391.33 262.2,390.49 262.3,392.82 262.4,391.1 262.5,391.96 262.6,392.5 262.7,389.15 262.8,392.58 262.9,390.55 263,391.36 263.1,391.58 263.2,393.11 263.3,392.98 263.4,394.69 263.5,392 263.6,390.89 263.7,390.83 263.8,392.75 263.9,394.33 264,392.19 264.1,390.63 264.2,392.05 264.3,392 264.4,391.61 264.5,390.29 264.6,387.25 264.7,390.6 264.8,393.25 264.9,391.82 265,387.74 265.1,391.44 265.2,388.31 265.3,394.74 265.4,391.7 265.5,389.34 265.6,392.69 265.7,390.02 265.8,392.26 265.9,391.33 266,389.3 266.1,392.38 266.2,388.99 266.3,393.48 266.4,391.31 266.5,389.47 266.6,388.13 266.7,393.88 266.8,393.58 266.9,389.01 267,393.88 267.1,391.37 267.2,390.7 267.3,390.91 267.4,390.59 267.5,393.43 267.6,391.26 267.7,387.89 267.8,394.49 267.9,392.44 268,389.11 268.1,390.32 268.2,389.39 268.3,390.97 268.4,391.53 268.5,391.26 268.6,389.83 268.7,389.48 268.8,392.23 268.9,390.62 269,394.55 269.1,389.4 269.2,392.06 269.3,390.8 269.4,389.42 269.5,392.98 269.6,390.88 269.7,389.15 269.8,390.1 269.9,392.33 270,388.54 270.1,392.91 270.2,391.73 270.3,390.1 270.4,392.85 270.5,393.5 270.6,391.55 270.7,390.82 270.8,393.64 270.9,393.04 271,388.95 271.1,390.15 271.2,390.13 271.3,389.79 271.4,387.95 271.5,391.98 271.6,390.6 271.7,390.61 271.8,392.81 271.9,389.48 272,390.32 272.1,390.87 272.2,389.67 272.3,390.21 272.4,391.68 272.5,390.36 272.6,392.61 272.7,389.09 272.8,390.69 272.9,387.93 273,390.13 273.1,389.13 273.2,392.61 273.3,391.56 273.4,391.15 273.5,393.4 273.6,392.72 273.7,391.48 273.8,389.09 273.9,387.8 274,390.19 274.1,389.63 274.2,389.13 274.3,389.72 274.4,387.4 274.5,392.72 274.6,388.25 274.7,389.04 274.8,391.13 274.9,387.4 275,391.71 275.1,391.73 275.2,389.6 275.3,388.29 275.4,389.31 275.5,386.96 275.6,392.45 275.7,390.18 275.8,388.83 275.9,388.53 276,391.03 276.1,392.61 276.2,387.88 276.3,389.06 276.4,387.03 276.5,391.16 276.6,390.27 276.7,393.84 276.8,389.78 276.9,389.24 277,388.76 277.1,391.41 277.2,387.18 277.3,391.22 277.4,390.35 277.5,389.06 277.6,388.38 277.7,391.7 277.8,393.07 277.9,389.13 278,390.78 278.1,392.84 278.2,388.8 278.3,389.42 278.4,387.76 278.5,389.58 278.6,389.69 278.7,389.1 278.8,388.55 278.9,387.1 279,387.49 279.1,388.11 279.2,390.87 279.3,388.89 279.4,388.3 279.5,390.87 279.6,390.7 279.7,388.44 279.8,388.65 279.9,390.84 280,390.32 280.1,388.27 280.2,390.11 280.3,389.64 280.4,391.6 280.5,388.2 280.6,391.2 280.7,390.43 280.8,387.96 280.9,391.49 281,391.24 281.1,387.42 281.2,393.08 281.3,387.71 281.4,388.09 281.5,389.12 281.6,390.99 281.7,390.67 281.8,389.5 281.9,392.01 282,390.36 282.1,392.06 282.2,394.5 282.3,389.99 282.4,385.22 282.5,388.87 282.6,387.79 282.7,389.8 282.8,389.81 282.9,387.53 283,387.65 283.1,389.18 283.2,389.3 283.3,385.13 283.4,391.32 283.5,389.68 283.6,389.61 283.7,390.14 283.8,387.85 283.9,389.53 284,391.42 284.1,391.49 284.2,390.42 284.3,389.13 284.4,388.18 284.5,391.91 284.6,390.52 284.7,388.87 284.8,385.82 284.9,388.08 285,386.23 285.1,391.77 285.2,389.92 285.3,388.29 285.4,389.11 285.5,394.14 285.6,391.72 285.7,387.23 285.8,389.35 285.9,387.42 286,386.55 286.1,389.88 286.2,393.82 286.3,392.32 286.4,389.65 286.5,388.91 286.6,389.92 286.7,391.39 286.8,386.99 286.9,386.26 287,392.88 287.1,390.05 287.2,392.39 287.3,389.97 287.4,392.16 287.5,388.47 287.6,390.43 287.7,392.29 287.8,391.35 287.9,388.73 288,391.13 288.1,388.36 288.2,387.01 288.3,390.46 288.4,392.02 288.5,391.04 288.6,387.29 288.7,391.07 288.8,390.73 288.9,388.7 289,385.09 289.1,391.33 289.2,391.1 289.3,390.4 289.4,386.43 289.5,386.85 289.6,391.31 289.7,390.94 289.8,390.39 289.9,389.06 290,390.2 290.1,388.55 290.2,388.97 290.3,388 290.4,390.02 290.5,388.83 290.6,391.29 290.7,390.89 290.8,388.17 290.9,392.92 291,387.64 291.1,390.47 291.2,391.62 291.3,391.99 291.4,385.76 291.5,391.52 291.6,391.93 291.7,392.33 291.8,385.78 291.9,388.57 292,389.62 292.1,389.01 292.2,392.24 292.3,388.63 292.4,392.07 292.5,390.88 292.6,387.28 292.7,388.12 292.8,389.08 292.9,390.11 293,391.74 293.1,389.64 293.2,391.61 293.3,387.16 293.4,384.52 293.5,389.42 293.6,390.87 293.7,389.4 293.8,388.25 293.9,390.85 294,393.58 294.1,389.93 294.2,388.82 294.3,388.62 294.4,393.7 294.5,390.1 294.6,391.29 294.7,392.4 294.8,392.16 294.9,388.58 295,391.97 295.1,391.78 295.2,391.16 295.3,392.11 295.4,389.3 295.5,390.19 295.6,389.4 295.7,391.72 295.8,389.19 295.9,391.09 296,388.43 296.1,390.2 296.2,389.78 296.3,390.24 296.4,390.7 296.5,390.14 296.6,390.09 296.7,386.78 296.8,392.51 296.9,389.41 297,390.11 297.1,389.08 297.2,392.38 297.3,388.97 297.4,391.52 297.5,392.75 297.6,393.6 297.7,392.79 297.8,391.79 297.9,388.53 298,393.02 298.1,392.85 298.2,392.24 298.3,392.19 298.4,390.9 298.5,389.85 298.6,392.74 298.7,393.1 298.8,388.96 298.9,392.49 299,391.3 299.1,392.47 299.2,391.39 299.3,392.91 299.4,392.77 299.5,392.54 299.6,388.49 299.7,392.45 299.8,391.08 299.9,388.99 300,392.29 300.1,388.59 300.2,392.67 300.3,394.12 300.4,390.21 300.5,392.78 300.6,391.96 300.7,392.34 300.8,388.77 300.9,392.3 301,391.47 301.1,392.58 301.2,391.29 301.3,393.26 301.4,391.81 301.5,392.55 301.6,393.81 301.7,391.71 301.8,393.18 301.9,391.83 302,392.38 302.1,390.53 302.2,392.87 302.3,393.69 302.4,391.38 302.5,392.96 302.6,392.33 302.7,389.63 302.8,392.24 302.9,393.98 303,390.79 303.1,388.51 303.2,392.06 303.3,390.57 303.4,395.11 303.5,391.69 303.6,391.77 303.7,390.68 303.8,392.26 303.9,390.84 304,390.26 304.1,391.77 304.2,390.47 304.3,394.26 304.4,389.88 304.5,391.83 304.6,390.76 304.7,389.56 304.8,394.96 304.9,388.33 305,394.63 305.1,389.59 305.2,392.26 305.3,396.12 305.4,388.38 305.5,389.74 305.6,394.5 305.7,392.51 305.8,391.26 305.9,392.19 306,390.56 306.1,392.5 306.2,394.94 306.3,391.65 306.4,392.59 306.5,394.49 306.6,395.89 306.7,391.37 306.8,392.95 306.9,391.45 307,391.33 307.1,391.78 307.2,391.39 307.3,389.47 307.4,389.03 307.5,391.27 307.6,392.82 307.7,394.75 307.8,391.69 307.9,392.35 308,393.83 308.1,393.99 308.2,392.5 308.3,392.63 308.4,396.05 308.5,392.17 308.6,391.92 308.7,389.94 308.8,393.59 308.9,392.38 309,396.23 309.1,392.29 309.2,394.33 309.3,394.57 309.4,395.85 309.5,390.65 309.6,395.74 309.7,393.03 309.8,392.84 309.9,392.5 310,392.37 310.1,392.48 310.2,389.01 310.3,394.04 310.4,393.28 310.5,391.52 310.6,393.11 310.7,397.3 310.8,393.95 310.9,392.62 311,396.34 311.1,391.96 311.2,393.12 311.3,392.44 311.4,393.02 311.5,394.75 311.6,394.52 311.7,392.24 311.8,393.32 311.9,393.72 312,392.88 312.1,393.56 312.2,392.39 312.3,392.39 312.4,393.79 312.5,391.92 312.6,394.5 312.7,393.45 312.8,392.2 312.9,392.77 313,393.03 313.1,393.61 313.2,394.12 313.3,393.58 313.4,392.45 313.5,396.51 313.6,395.61 313.7,394.25 313.8,395.75 313.9,394.68 314,393.68 314.1,394.31 314.2,398.85 314.3,395.95 314.4,396.07 314.5,393.58 314.6,395.35 314.7,398.27 314.8,395.1 314.9,396.25 315,396.6 315.1,395.56 315.2,397.21 315.3,394.89 315.4,395.38 315.5,393.44 315.6,399.17 315.7,395.12 315.8,394.81 315.9,397.07 316,393.82 316.1,394.69 316.2,393.36 316.3,394.79 316.4,394.1 316.5,395.75 316.6,394.61 316.7,393.82 316.8,394.37 316.9,394.71 317,394.05 317.1,396.6 317.2,396.17 317.3,395.27 317.4,392.98 317.5,395.98 317.6,392.88 317.7,395.45 317.8,395.24 317.9,394.16 318,393.76 318.1,394.03 318.2,398.84 318.3,394.83 318.4,394.96 318.5,397.01 318.6,396.1 318.7,397.24 318.8,393.29 318.9,393.56 319,401.27 319.1,395.43 319.2,395.03 319.3,395.84 319.4,397.31 319.5,393.55 319.6,396.13 319.7,395.62 319.8,396.86 319.9,396.02 320,394.83 320.1,394.26 320.2,391.56 320.3,397.5 320.4,393.27 320.5,395.14 320.6,398.74 320.7,395.15 320.8,396.96 320.9,395.55 321,397.14 321.1,396 321.2,395.09 321.3,398.33 321.4,395.55 321.5,393.71 321.6,395.47 321.7,397 321.8,394.15 321.9,397.46 322,397.44 322.1,399.81 322.2,395.04 322.3,397.32 322.4,393.3 322.5,395.49 322.6,396.41 322.7,396.95 322.8,396.17 322.9,396.13 323,395.24 323.1,395.55 323.2,396.87 323.3,397.33 323.4,397.48 323.5,398.12 323.6,398.47 323.7,393.32 323.8,395.55 323.9,396.19 324,395.38 324.1,398.32 324.2,397.82 324.3,396.36 324.4,396.77 324.5,398.76 324.6,396 324.7,396.08 324.8,398.2 324.9,397.47 325,399.13 325.1,397.33 325.2,398 325.3,395.79 325.4,395.13 325.5,396.75 325.6,392.21 325.7,397.51 325.8,398.5 325.9,396.97 326,396.48 326.1,398.75 326.2,396.82 326.3,398.61 326.4,400.72 326.5,398.2 326.6,398.59 326.7,397.84 326.8,397.44 326.9,397.5 327,397.16 327.1,398.91" stroke="#0000FF" stroke-width="1.2" fill="none" />
<line x1="67" y1="343.6" x2="327.5" y2="343.6" stroke="#0A8C0A" stroke-width="1.3" />
<line x1="65.8" y1="262.6" x2="327.8" y2="262.6" stroke="#000" stroke-width="1.5" />
<line x1="65.4" y1="425.2" x2="327.8" y2="425.2" stroke="#000" stroke-width="1.5" />
<line x1="66.1" y1="262" x2="66.1" y2="342.2" stroke="#FF0000" stroke-width="1.6" />
<line x1="65.6" y1="349.6" x2="65.6" y2="425.9" stroke="#0000FF" stroke-width="1.6" />
<line x1="327.9" y1="261.2" x2="327.9" y2="426" stroke="#0A8C0A" stroke-width="1.7" />
<line x1="62.3" y1="344.9" x2="70.2" y2="339.5" stroke="#FF0000" stroke-width="1.8" />
<line x1="62.5" y1="351.4" x2="70.2" y2="346.4" stroke="#0000FF" stroke-width="1.8" />
<line x1="131.3" y1="425.2" x2="131.3" y2="422.7" stroke="#000" stroke-width="1.1" />
<line x1="196.8" y1="425.2" x2="196.8" y2="422.7" stroke="#000" stroke-width="1.1" />
<line x1="262.3" y1="425.2" x2="262.3" y2="422.7" stroke="#000" stroke-width="1.1" />
<line x1="98.55" y1="425.2" x2="98.55" y2="423.7" stroke="#000" stroke-width="1.0" />
<line x1="164.05" y1="425.2" x2="164.05" y2="423.7" stroke="#000" stroke-width="1.0" />
<line x1="229.55" y1="425.2" x2="229.55" y2="423.7" stroke="#000" stroke-width="1.0" />
<line x1="295.05" y1="425.2" x2="295.05" y2="423.7" stroke="#000" stroke-width="1.0" />
<line x1="66.1" y1="282.8" x2="68.2" y2="282.8" stroke="#FF0000" stroke-width="1.0" />
<line x1="66.1" y1="323.2" x2="68.2" y2="323.2" stroke="#FF0000" stroke-width="1.0" />
<line x1="65.6" y1="365.1" x2="67.7" y2="365.1" stroke="#0000FF" stroke-width="1.0" />
<line x1="65.6" y1="385.1" x2="67.7" y2="385.1" stroke="#0000FF" stroke-width="1.0" />
<line x1="65.6" y1="405.2" x2="67.7" y2="405.2" stroke="#0000FF" stroke-width="1.0" />
<line x1="327.9" y1="303.1" x2="325.8" y2="303.1" stroke="#0A8C0A" stroke-width="1.0" />
<line x1="327.9" y1="384.3" x2="325.8" y2="384.3" stroke="#0A8C0A" stroke-width="1.0" />
<ellipse cx="99.4" cy="299.5" rx="4.9" ry="13.4" fill="none" stroke="#FF0000" stroke-width="1.5"/>
<line x1="99.4" y1="286" x2="88.5" y2="286" stroke="#FF0000" stroke-width="1.5" />
<polygon points="83.2,286 89,283 89,289" fill="#FF0000" />
<ellipse cx="99.3" cy="346.0" rx="4.9" ry="13.1" fill="none" stroke="#0A8C0A" stroke-width="1.5"/>
<line x1="99.3" y1="332.8" x2="111" y2="332.8" stroke="#0A8C0A" stroke-width="1.5" />
<polygon points="116,332.8 110.5,335.6 110.5,330" fill="#0A8C0A" />
<ellipse cx="99.3" cy="389.0" rx="4.9" ry="13.4" fill="none" stroke="#0000FF" stroke-width="1.5"/>
<line x1="99.3" y1="375.5" x2="88.5" y2="375.5" stroke="#0000FF" stroke-width="1.5" />
<polygon points="83.2,375.5 89,372.5 89,378.5" fill="#0000FF" />
<text x="113.8" y="286.6" font-size="11.5" text-anchor="start" fill="#FF0000" font-style="italic">f</text>
<text x="115.9" y="290.8" font-size="8.3" text-anchor="start" fill="#FF0000" >2</text>
<text x="123.5" y="286.6" font-size="11.5" text-anchor="start" fill="#FF0000" >(1062 nm)</text>
<text x="113.8" y="413.1" font-size="11.5" text-anchor="start" fill="#0000FF" font-style="italic">f</text>
<text x="115.6" y="417.2" font-size="8.3" text-anchor="start" fill="#0000FF" >1</text>
<text x="123.5" y="413.1" font-size="11.5" text-anchor="start" fill="#0000FF" >(1056 nm)</text>
<text x="118.8" y="336" font-size="11.3" text-anchor="start" fill="#0A8C0A" >Δ<tspan font-style="italic">f</tspan> = 148024 Hz ± 1.22 Hz</text>
<rect x="165.9" y="338.5" width="53.1" height="11.8" rx="2" fill="none" stroke="#4d4d4d" stroke-width="1.25" stroke-dasharray="3.3,2.3"/>
<line x1="220.6" y1="348.9" x2="230.43" y2="353.85" stroke="#000" stroke-width="1.5" />
<polygon points="234.9,356.1 228.64,356.31 231.34,350.95" fill="#000" />
<polyline points="238.5,361.5 238.65,363.23 238.8,364.4 238.95,362.45 239.1,363.39 239.25,362.61 239.4,364.06 239.55,364.6 239.7,365.34 239.85,364.1 240,362.51 240.15,363.75 240.3,364.14 240.45,365.21 240.6,360.61 240.75,363.84 240.9,360.99 241.05,364.25 241.2,363.89 241.35,363.94 241.5,364.43 241.65,363.77 241.8,362.42 241.95,363.69 242.1,364.77 242.25,363.06 242.4,363.23 242.55,361.62 242.7,364.66 242.85,362.5 243,362.18 243.15,362.54 243.3,362 243.45,362.77 243.6,364.72 243.75,364.08 243.9,364.88 244.05,364.95 244.2,361.86 244.35,363.62 244.5,364.92 244.65,365.93 244.8,361.13 244.95,361.1 245.1,363.53 245.25,362.48 245.4,361.61 245.55,363.37 245.7,361.85 245.85,359.93 246,362.8 246.15,362.98 246.3,363.62 246.45,364 246.6,363.01 246.75,362.45 246.9,361.88 247.05,360.6 247.2,362.15 247.35,363.98 247.5,363.52 247.65,365.31 247.8,362.45 247.95,360.34 248.1,363.69 248.25,363.95 248.4,361.1 248.55,360.52 248.7,362.78 248.85,363.5 249,361.13 249.15,362.12 249.3,361.55 249.45,361.02 249.6,360.83 249.75,362.7 249.9,362.03 250.05,361.64 250.2,359.13 250.35,364.74 250.5,361.26 250.65,362.29 250.8,360.99 250.95,362.93 251.1,360.49 251.25,362.55 251.4,362.18 251.55,363.59 251.7,360.99 251.85,361.55 252,362.08 252.15,365.07 252.3,360.46 252.45,362.73 252.6,361.5 252.75,362.73 252.9,363.17 253.05,362.5 253.2,362.64 253.35,362.66 253.5,361.53 253.65,362 253.8,360.13 253.95,361.8 254.1,361.26 254.25,361.91 254.4,363.18 254.55,362.71 254.7,362.82 254.85,363.62 255,359.12 255.15,362.74 255.3,362.14 255.45,362.04 255.6,360.47 255.75,362.85 255.9,363.62 256.05,363.45 256.2,362.01 256.35,362.93 256.5,363.29 256.65,364.44 256.8,363.66 256.95,362.25 257.1,362.18 257.25,362.27 257.4,362.34 257.55,361.39 257.7,363.02 257.85,361.12 258,360.97 258.15,362.47 258.3,361.28 258.45,361.71 258.6,359.35 258.75,363.06 258.9,362.03 259.05,361.88 259.2,362.65 259.35,362.33 259.5,361.16 259.65,364.65 259.8,361.5 259.95,363.34 260.1,364.45 260.25,361.3 260.4,362.22 260.55,361.05 260.7,363.46 260.85,361.69 261,360.71 261.15,363.83 261.3,363.32 261.45,361 261.6,363.67 261.75,362.41 261.9,365.66 262.05,364.37 262.2,361.46 262.35,361.83 262.5,361.05 262.65,362.36 262.8,362.26 262.95,363.15 263.1,362.32 263.25,360.32 263.4,361.17 263.55,364.05 263.7,363.72 263.85,362.03 264,362.07 264.15,362.03 264.3,362.28 264.45,360.1 264.6,363.42 264.75,361.42 264.9,362.47 265.05,359.03 265.2,362.59 265.35,364.02 265.5,359.42 265.65,364.26 265.8,362.92 265.95,361.37 266.1,360.28 266.25,363.83 266.4,362.67 266.55,363.11 266.7,362 266.85,361.33 267,363.48 267.15,361.14 267.3,363.53 267.45,360.22 267.6,361.19 267.75,360.52 267.9,364.09 268.05,360.15 268.2,360.97 268.35,363.32 268.5,362.8 268.65,365.36 268.8,364.94 268.95,363.39 269.1,363.51 269.25,360.29 269.4,361.54 269.55,362.29 269.7,362.51 269.85,360.99 270,361.6 270.15,361.74 270.3,364.23 270.45,363.44 270.6,362.49 270.75,362.59 270.9,363.36 271.05,362.11 271.2,362.7 271.35,360.85 271.5,363.96 271.65,364.37 271.8,363.63 271.95,363.81 272.1,363.69 272.25,365.89 272.4,363.54 272.55,361.6 272.7,361.99 272.85,364.29 273,364.78 273.15,364.42 273.3,364.54 273.45,363.73 273.6,361.6 273.75,362.63 273.9,361.24 274.05,363.11 274.2,361.88 274.35,363.79 274.5,363.48 274.65,361.21 274.8,364.7 274.95,364.77 275.1,362.02 275.25,364.03 275.4,364.8 275.55,363.53 275.7,365.04 275.85,364.21 276,365.38 276.15,364.28 276.3,363.87 276.45,364.79 276.6,365.19 276.75,364.55 276.9,363.69 277.05,363.29 277.2,363.88 277.35,363.67 277.5,364.72 277.65,364.72 277.8,364.44 277.95,364.59 278.1,364.86 278.25,366.72 278.4,366.3 278.55,364.03 278.7,365.37 278.85,364.45 279,364.79 279.15,364.65 279.3,364.2 279.45,363.29 279.6,361.9 279.75,365.41 279.9,366.74 280.05,364.07 280.2,365.95 280.35,364.84 280.5,365.75 280.65,364.38 280.8,365.18 280.95,365.38 281.1,362.48 281.25,365.9 281.4,365.48 281.55,362.48 281.7,366.6 281.85,365.76 282,366.11 282.15,366.37 282.3,365.4 282.45,364.59 282.6,365.45 282.75,365.52 282.9,369.02 283.05,368.58 283.2,365.58 283.35,365.73 283.5,366.73 283.65,367.1 283.8,365.5 283.95,365.15 284.1,369.03 284.25,367.94 284.4,364.58 284.55,364.36 284.7,365.64 284.85,367.06 285,367.54 285.15,366.43 285.3,364.82 285.45,367.27 285.6,367.82 285.75,367.09 285.9,366.49 286.05,367.95 286.2,367.17 286.35,365.83 286.5,367.48 286.65,365.71 286.8,368.72 286.95,368.13 287.1,366.26 287.25,367.9 287.4,369.32 287.55,364.91 287.7,367.6 287.85,370 288,365.85 288.15,367.72 288.3,366.12 288.45,367.96 288.6,364.95 288.75,366.02 288.9,367.5 289.05,368.44 289.2,368.81 289.35,368.93 289.5,369.94 289.65,369.4 289.8,369.5 289.95,367.29 290.1,368.43 290.25,372.89 290.4,371.74 290.55,369.89 290.7,369.83 290.85,370.21 291,368.43 291.15,371.55" stroke="#0A8C0A" stroke-width="0.8" fill="none" />
<rect x="237.7" y="350.9" width="53.9" height="27.3" fill="none" stroke="#4A5A85" stroke-width="1.2"/>
<text x="58.4" y="267.13" font-size="13" text-anchor="end" fill="#FF0000"  transform="matrix(1,0,0,1.1,0,-26.71)">150</text>
<text x="58.4" y="307.98" font-size="13" text-anchor="end" fill="#FF0000"  transform="matrix(1,0,0,1.1,0,-30.8)">149</text>
<text x="58.4" y="348.68" font-size="13" text-anchor="end" fill="#FF0000"  transform="matrix(1,0,0,1.1,0,-34.87)">148</text>
<text x="58.4" y="358.53" font-size="13" text-anchor="end" fill="#0000FF"  transform="matrix(1,0,0,1.1,0,-35.85)">2</text>
<text x="58.4" y="389.33" font-size="13" text-anchor="end" fill="#0000FF"  transform="matrix(1,0,0,1.1,0,-38.93)">1</text>
<text x="58.4" y="430.43" font-size="13" text-anchor="end" fill="#0000FF"  transform="matrix(1,0,0,1.1,0,-43.04)">0</text>
<text x="334.5" y="267.53" font-size="13" text-anchor="start" fill="#0A8C0A"  transform="matrix(1,0,0,1.1,0,-26.75)">1</text>
<text x="334.9" y="349.38" font-size="13" text-anchor="start" fill="#0A8C0A"  transform="matrix(1,0,0,1.1,0,-34.94)">0</text>
<text x="334.3" y="431.13" font-size="13" text-anchor="start" fill="#0A8C0A"  transform="matrix(1,0,0,1.1,0,-43.11)">−1</text>
<text x="65.8" y="443.03" font-size="13" text-anchor="middle" fill="#000"  transform="matrix(1,0,0,1.1,0,-44.3)">0</text>
<text x="131.3" y="443.03" font-size="13" text-anchor="middle" fill="#000"  transform="matrix(1,0,0,1.1,0,-44.3)">15</text>
<text x="196.8" y="443.03" font-size="13" text-anchor="middle" fill="#000"  transform="matrix(1,0,0,1.1,0,-44.3)">30</text>
<text x="262.3" y="443.03" font-size="13" text-anchor="middle" fill="#000"  transform="matrix(1,0,0,1.1,0,-44.3)">45</text>
<text x="327.8" y="443.03" font-size="13" text-anchor="middle" fill="#000"  transform="matrix(1,0,0,1.1,0,-44.3)">60</text>
<text x="197" y="463.2" font-size="13.4" text-anchor="middle" fill="#000" >Time (min)</text>
<text x="11.2" y="343" font-size="13.3" text-anchor="middle" fill="#000" transform="rotate(-90 11.2 343)">Frequency (kHz) + 1.0931173</text>
<text x="27.3" y="342.3" font-size="13.4" text-anchor="middle" fill="#000" transform="rotate(-90 27.3 342.3)">GHz</text>
<text x="368" y="342.5" font-size="13.4" text-anchor="middle" fill="#0A8C0A" transform="rotate(-90 368 342.5)">Frequency offset (kHz)</text>
<text x="0.5" y="251.6" font-size="18" text-anchor="start" fill="#000" font-weight="bold">c</text>
<line x1="468.16" y1="260.6" x2="468.16" y2="425.3" stroke="#F0F0F0" stroke-width="0.6" />
<line x1="481.59" y1="260.6" x2="481.59" y2="425.3" stroke="#F0F0F0" stroke-width="0.6" />
<line x1="491.12" y1="260.6" x2="491.12" y2="425.3" stroke="#F0F0F0" stroke-width="0.6" />
<line x1="498.51" y1="260.6" x2="498.51" y2="425.3" stroke="#F0F0F0" stroke-width="0.6" />
<line x1="504.55" y1="260.6" x2="504.55" y2="425.3" stroke="#F0F0F0" stroke-width="0.6" />
<line x1="509.65" y1="260.6" x2="509.65" y2="425.3" stroke="#F0F0F0" stroke-width="0.6" />
<line x1="514.08" y1="260.6" x2="514.08" y2="425.3" stroke="#F0F0F0" stroke-width="0.6" />
<line x1="517.98" y1="260.6" x2="517.98" y2="425.3" stroke="#F0F0F0" stroke-width="0.6" />
<line x1="521.47" y1="260.6" x2="521.47" y2="425.3" stroke="#D6D6D6" stroke-width="0.8" />
<line x1="544.43" y1="260.6" x2="544.43" y2="425.3" stroke="#F0F0F0" stroke-width="0.6" />
<line x1="557.86" y1="260.6" x2="557.86" y2="425.3" stroke="#F0F0F0" stroke-width="0.6" />
<line x1="567.38" y1="260.6" x2="567.38" y2="425.3" stroke="#F0F0F0" stroke-width="0.6" />
<line x1="574.77" y1="260.6" x2="574.77" y2="425.3" stroke="#F0F0F0" stroke-width="0.6" />
<line x1="580.81" y1="260.6" x2="580.81" y2="425.3" stroke="#F0F0F0" stroke-width="0.6" />
<line x1="585.92" y1="260.6" x2="585.92" y2="425.3" stroke="#F0F0F0" stroke-width="0.6" />
<line x1="590.34" y1="260.6" x2="590.34" y2="425.3" stroke="#F0F0F0" stroke-width="0.6" />
<line x1="594.24" y1="260.6" x2="594.24" y2="425.3" stroke="#F0F0F0" stroke-width="0.6" />
<line x1="597.73" y1="260.6" x2="597.73" y2="425.3" stroke="#D6D6D6" stroke-width="0.8" />
<line x1="620.69" y1="260.6" x2="620.69" y2="425.3" stroke="#F0F0F0" stroke-width="0.6" />
<line x1="634.12" y1="260.6" x2="634.12" y2="425.3" stroke="#F0F0F0" stroke-width="0.6" />
<line x1="643.65" y1="260.6" x2="643.65" y2="425.3" stroke="#F0F0F0" stroke-width="0.6" />
<line x1="651.04" y1="260.6" x2="651.04" y2="425.3" stroke="#F0F0F0" stroke-width="0.6" />
<line x1="657.08" y1="260.6" x2="657.08" y2="425.3" stroke="#F0F0F0" stroke-width="0.6" />
<line x1="662.19" y1="260.6" x2="662.19" y2="425.3" stroke="#F0F0F0" stroke-width="0.6" />
<line x1="666.61" y1="260.6" x2="666.61" y2="425.3" stroke="#F0F0F0" stroke-width="0.6" />
<line x1="670.51" y1="260.6" x2="670.51" y2="425.3" stroke="#F0F0F0" stroke-width="0.6" />
<line x1="445.2" y1="412.91" x2="674" y2="412.91" stroke="#F0F0F0" stroke-width="0.6" />
<line x1="445.2" y1="405.65" x2="674" y2="405.65" stroke="#F0F0F0" stroke-width="0.6" />
<line x1="445.2" y1="400.51" x2="674" y2="400.51" stroke="#F0F0F0" stroke-width="0.6" />
<line x1="445.2" y1="396.52" x2="674" y2="396.52" stroke="#F0F0F0" stroke-width="0.6" />
<line x1="445.2" y1="393.26" x2="674" y2="393.26" stroke="#F0F0F0" stroke-width="0.6" />
<line x1="445.2" y1="390.5" x2="674" y2="390.5" stroke="#F0F0F0" stroke-width="0.6" />
<line x1="445.2" y1="388.12" x2="674" y2="388.12" stroke="#F0F0F0" stroke-width="0.6" />
<line x1="445.2" y1="386.01" x2="674" y2="386.01" stroke="#F0F0F0" stroke-width="0.6" />
<line x1="445.2" y1="384.12" x2="674" y2="384.12" stroke="#D6D6D6" stroke-width="0.8" />
<line x1="445.2" y1="371.73" x2="674" y2="371.73" stroke="#F0F0F0" stroke-width="0.6" />
<line x1="445.2" y1="364.48" x2="674" y2="364.48" stroke="#F0F0F0" stroke-width="0.6" />
<line x1="445.2" y1="359.34" x2="674" y2="359.34" stroke="#F0F0F0" stroke-width="0.6" />
<line x1="445.2" y1="355.34" x2="674" y2="355.34" stroke="#F0F0F0" stroke-width="0.6" />
<line x1="445.2" y1="352.08" x2="674" y2="352.08" stroke="#F0F0F0" stroke-width="0.6" />
<line x1="445.2" y1="349.33" x2="674" y2="349.33" stroke="#F0F0F0" stroke-width="0.6" />
<line x1="445.2" y1="346.94" x2="674" y2="346.94" stroke="#F0F0F0" stroke-width="0.6" />
<line x1="445.2" y1="344.83" x2="674" y2="344.83" stroke="#F0F0F0" stroke-width="0.6" />
<line x1="445.2" y1="342.95" x2="674" y2="342.95" stroke="#D6D6D6" stroke-width="0.8" />
<line x1="445.2" y1="330.56" x2="674" y2="330.56" stroke="#F0F0F0" stroke-width="0.6" />
<line x1="445.2" y1="323.3" x2="674" y2="323.3" stroke="#F0F0F0" stroke-width="0.6" />
<line x1="445.2" y1="318.16" x2="674" y2="318.16" stroke="#F0F0F0" stroke-width="0.6" />
<line x1="445.2" y1="314.17" x2="674" y2="314.17" stroke="#F0F0F0" stroke-width="0.6" />
<line x1="445.2" y1="310.91" x2="674" y2="310.91" stroke="#F0F0F0" stroke-width="0.6" />
<line x1="445.2" y1="308.15" x2="674" y2="308.15" stroke="#F0F0F0" stroke-width="0.6" />
<line x1="445.2" y1="305.77" x2="674" y2="305.77" stroke="#F0F0F0" stroke-width="0.6" />
<line x1="445.2" y1="303.66" x2="674" y2="303.66" stroke="#F0F0F0" stroke-width="0.6" />
<line x1="445.2" y1="301.78" x2="674" y2="301.78" stroke="#D6D6D6" stroke-width="0.8" />
<line x1="445.2" y1="289.38" x2="674" y2="289.38" stroke="#F0F0F0" stroke-width="0.6" />
<line x1="445.2" y1="282.13" x2="674" y2="282.13" stroke="#F0F0F0" stroke-width="0.6" />
<line x1="445.2" y1="276.99" x2="674" y2="276.99" stroke="#F0F0F0" stroke-width="0.6" />
<line x1="445.2" y1="272.99" x2="674" y2="272.99" stroke="#F0F0F0" stroke-width="0.6" />
<line x1="445.2" y1="269.73" x2="674" y2="269.73" stroke="#F0F0F0" stroke-width="0.6" />
<line x1="445.2" y1="266.98" x2="674" y2="266.98" stroke="#F0F0F0" stroke-width="0.6" />
<line x1="445.2" y1="264.59" x2="674" y2="264.59" stroke="#F0F0F0" stroke-width="0.6" />
<line x1="445.2" y1="262.48" x2="674" y2="262.48" stroke="#F0F0F0" stroke-width="0.6" />
<polyline points="445.7,296.3 446.1,296.17 446.5,296.13 446.9,295.78 447.3,295.75 447.7,295.5 448.1,295.41 448.5,295.29 448.9,295.13 449.3,295.01 449.7,294.82 450.1,294.71 450.5,294.51 450.9,294.4 451.3,294.21 451.7,294.16 452.1,293.92 452.5,293.88 452.9,293.68 453.3,293.53 453.7,293.46 454.1,293.26 454.5,293.02 454.9,292.99 455.3,292.68 455.7,292.69 456.1,292.51 456.5,292.32 456.9,292.24 457.3,292.08 457.7,292.05 458.1,291.78 458.5,291.75 458.9,291.58 459.3,291.34 459.7,291.18 460.1,291.14 460.5,290.92 460.9,290.79 461.3,290.62 461.7,290.43 462.1,290.33 462.5,290.15 462.9,289.98 463.3,289.89 463.7,289.85 464.1,289.7 464.5,289.47 464.9,289.33 465.3,289.21 465.7,289.1 466.1,288.91 466.5,288.72 466.9,288.58 467.3,288.51 467.7,288.44 468.1,288.13 468.5,287.91 468.9,287.91 469.3,287.72 469.7,287.59 470.1,287.5 470.5,287.29 470.9,287.08 471.3,286.9 471.7,286.85 472.1,286.65 472.5,286.57 472.9,286.35 473.3,286.25 473.7,286.05 474.1,285.96 474.5,285.81 474.9,285.72 475.3,285.61 475.7,285.39 476.1,285.21 476.5,285.2 476.9,284.98 477.3,284.84 477.7,284.7 478.1,284.59 478.5,284.43 478.9,284.26 479.3,284.12 479.7,283.9 480.1,283.76 480.5,283.64 480.9,283.51 481.3,283.36 481.7,283.23 482.1,283.07 482.5,282.9 482.9,282.69 483.3,282.67 483.7,282.51 484.1,282.29 484.5,282.22 484.9,282.07 485.3,281.9 485.7,281.66 486.1,281.55 486.5,281.43 486.9,281.4 487.3,281.13 487.7,281.01 488.1,280.83 488.5,280.71 488.9,280.61 489.3,280.34 489.7,280.16 490.1,280.19 490.5,280.01 490.9,279.84 491.3,279.82 491.7,279.72 492.1,279.47 492.5,279.47 492.9,279.43 493.3,279.24 493.7,279.16 494.1,279.12 494.5,278.96 494.9,278.81 495.3,278.74 495.7,278.61 496.1,278.6 496.5,278.39 496.9,278.42 497.3,278.19 497.7,278.18 498.1,278 498.5,277.96 498.9,277.92 499.3,277.83 499.7,277.74 500.1,277.58 500.5,277.53 500.9,277.48 501.3,277.45 501.7,277.34 502.1,277.36 502.5,277.26 502.9,277.25 503.3,277.16 503.7,277.11 504.1,276.99 504.5,276.95 504.9,276.85 505.3,276.84 505.7,276.79 506.1,276.79 506.5,276.63 506.9,276.79 507.3,276.57 507.7,276.58 508.1,276.52 508.5,276.28 508.9,276.34 509.3,276.37 509.7,276.12 510.1,276.24 510.5,276.16 510.9,276.19 511.3,276.23 511.7,276.14 512.1,276.25 512.5,276.21 512.9,276.21 513.3,276.29 513.7,276.44 514.1,276.29 514.5,276.31 514.9,276.28 515.3,276.26 515.7,276.31 516.1,276.38 516.5,276.32 516.9,276.36 517.3,276.32 517.7,276.46 518.1,276.26 518.5,276.38 518.9,276.38 519.3,276.37 519.7,276.31 520.1,276.32 520.5,276.37 520.9,276.39 521.3,276.34 521.7,276.35 522.1,276.44 522.5,276.47 522.9,276.39 523.3,276.39 523.7,276.4 524.1,276.56 524.5,276.47 524.9,276.45 525.3,276.51 525.7,276.58 526.1,276.53 526.5,276.4 526.9,276.47 527.3,276.46 527.7,276.47 528.1,276.44 528.5,276.48 528.9,276.45 529.3,276.53 529.7,276.52 530.1,276.46 530.5,276.45 530.9,276.51 531.3,276.58 531.7,276.57 532.1,276.55 532.5,276.4 532.9,276.54 533.3,276.54 533.7,276.56 534.1,276.52 534.5,276.57 534.9,276.56 535.3,276.76 535.7,276.7 536.1,276.69 536.5,276.73 536.9,276.76 537.3,276.81 537.7,276.82 538.1,276.88 538.5,276.96 538.9,276.99 539.3,277 539.7,277.09 540.1,277.07 540.5,277.04 540.9,277.04 541.3,277.13 541.7,277.2 542.1,277.26 542.5,277.33 542.9,277.28 543.3,277.3 543.7,277.42 544.1,277.48 544.5,277.43 544.9,277.51 545.3,277.61 545.7,277.61 546.1,277.64 546.5,277.59 546.9,277.81 547.3,277.83 547.7,277.86 548.1,277.88 548.5,277.89 548.9,278 549.3,278.05 549.7,278.16 550.1,278.1 550.5,278.3 550.9,278.27 551.3,278.4 551.7,278.29 552.1,278.45 552.5,278.58 552.9,278.53 553.3,278.43 553.7,278.59 554.1,278.74 554.5,278.57 554.9,278.6 555.3,278.87 555.7,278.78 556.1,279.07 556.5,278.86 556.9,278.82 557.3,279.04 557.7,279.47 558.1,279.14 558.5,279.35 558.9,279.46 559.3,279.3 559.7,279.76 560.1,279.65 560.5,279.77 560.9,279.38 561.3,279.42 561.7,279.25 562.1,279.89 562.5,279.94 562.9,280.24 563.3,280.5 563.7,280.12 564.1,280.18 564.5,280.44 564.9,280.8 565.3,280.21 565.7,280.69 566.1,280.5 566.5,280.54 566.9,280.95 567.3,280.52 567.7,280.49 568.1,281.11 568.5,280.95 568.9,280.93 569.3,281.04 569.7,281.32 570.1,281.08 570.5,281.55 570.9,281.49 571.3,281.95 571.7,281.95 572.1,281.88 572.5,281.57 572.9,281.78 573.3,281.59 573.7,283.07 574.1,281.92 574.5,282.33 574.9,282.77 575.3,281.69 575.7,282.01 576.1,282.29 576.5,282.11 576.9,282.07 577.3,282.5 577.7,283.43 578.1,283.26 578.5,283.02 578.9,283.11 579.3,282.37 579.7,283.62 580.1,283.58 580.5,282.91 580.9,283.66 581.3,283.54 581.7,283.46 582.1,283.3 582.5,283.55 582.9,283.49 583.3,284.35 583.7,284.39 584.1,284.46 584.5,284.27 584.9,284.23 585.3,285.75 585.7,283.58 586.1,285.48 586.5,285.1 586.9,285.03 587.3,284.79 587.7,285.07 588.1,284.58 588.5,284.55 588.9,285.46 589.3,284.58 589.7,286.28 590.1,286.58 590.5,283.69 590.9,285.03 591.3,286.35 591.7,286.42 592.1,286.46 592.5,286.78 592.9,287.12 593.3,287.31 593.7,288.08 594.1,286.94 594.5,287.65 594.9,285.96 595.3,287.15 595.7,286.45 596.1,288.49 596.5,289.31 596.9,288.08 597.3,286.79 597.7,287.8 598.1,288.02 598.5,288.26 598.9,289.06 599.3,289.07 599.7,286.32 600.1,289.62 600.5,288.24 600.9,288.3 601.3,289.99 601.7,288.79 602.1,288.06 602.5,288.26 602.9,289.52 603.3,290.36 603.7,290.99 604.1,289.81 604.5,289.73 604.9,291.56 605.3,290.06 605.7,291.75 606.1,290.93 606.5,291.09 606.9,290.87 607.3,291.45 607.7,291 608.1,290.99 608.5,291.58 608.9,291.33 609.3,292.25 609.7,292.23 610.1,292.11 610.5,292.31 610.9,292.44 611.3,294.16 611.7,292.91 612.1,292.59 612.5,292.98 612.9,293.9 613.3,293.36 613.7,293.55 614.1,293.61 614.5,294.1 614.9,294.43 615.3,294.62 615.7,293.11 616.1,293.72 616.5,292.62 616.9,295.51 617.3,295.9 617.7,296.21 618.1,295.41 618.5,296.27 618.9,295.38 619.3,295.37 619.7,294.29 620.1,294.95 620.5,295.16 620.9,296.42 621.3,297.07 621.7,295.42 622.1,296.15 622.5,296.13 622.9,295.35 623.3,294.59 623.7,295.36 624.1,294.8 624.5,295.68 624.9,295.8 625.3,295.76 625.7,295.76 626.1,296.26 626.5,295.12 626.9,296.56 627.3,294.5 627.7,295.87 628.1,296.12 628.5,295.16 628.9,294.51 629.3,296.19 629.7,295.01 630.1,296.04 630.5,295.89 630.9,295.14 631.3,295.01 631.7,295.67 632.1,295.05 632.5,293.87 632.9,294.61 633.3,294.79 633.7,294.37 634.1,294.23 634.5,293.83 634.9,293.72 635.3,292.88 635.7,292.29 636.1,294.14 636.5,292.53 636.9,293.02 637.3,291.45 637.7,292.58 638.1,291.6 638.5,294.43 638.9,291.05 639.3,290.9 639.7,292.22 640.1,292.18 640.5,289.43 640.9,291.08 641.3,291.36 641.7,289.57 642.1,290.8 642.5,289.71 642.9,289.18 643.3,289.46 643.7,289.18 644.1,288.34 644.5,290.66 644.9,288.61 645.3,288.23 645.7,289.09 646.1,288.25 646.5,288.92 646.9,287.66 647.3,287.8 647.7,287.4 648.1,287.21 648.5,286.75 648.9,286.57 649.3,287.35 649.7,285.77 650.1,285.61 650.5,285.49 650.9,285.74 651.3,285.41 651.7,285.44 652.1,284.04 652.5,284.61 652.9,284.16 653.3,283.87 653.7,283.84 654.1,282.62 654.5,283.41 654.9,283.11 655.3,282.19 655.7,282.53 656.1,282.96 656.5,281.93 656.9,282.08 657.3,281.52 657.7,281.06 658.1,280.79 658.5,280.74 658.9,281.09 659.3,280.67 659.7,279.93 660.1,280.23 660.5,279.64 660.9,279.23 661.3,279.32 661.7,278.7 662.1,278.29 662.5,278.81 662.9,277.77 663.3,278.08 663.7,277.33 664.1,277.39 664.5,277.08 664.9,276.76 665.3,276.14 665.7,276.28 666.1,276.02 666.5,275.57 666.9,275.46 667.3,275.4 667.7,274.78 668.1,274.7 668.5,274.15 668.9,274.18 669.3,273.95 669.7,274.04 670.1,273.45 670.5,273.09 670.9,273 671.3,272.25 671.7,272.39 672.1,271.79 672.5,271.5 672.9,271.57 673.3,271.12 673.7,271.06" stroke="#0000FF" stroke-width="2.5" fill="none" />
<polyline points="445.7,296.29 446.1,296.17 446.5,296.13 446.9,295.78 447.3,295.74 447.7,295.51 448.1,295.41 448.5,295.29 448.9,295.12 449.3,295.01 449.7,294.83 450.1,294.71 450.5,294.51 450.9,294.41 451.3,294.21 451.7,294.17 452.1,293.93 452.5,293.88 452.9,293.68 453.3,293.53 453.7,293.46 454.1,293.26 454.5,293.02 454.9,292.99 455.3,292.67 455.7,292.69 456.1,292.52 456.5,292.31 456.9,292.23 457.3,292.08 457.7,292.05 458.1,291.78 458.5,291.75 458.9,291.57 459.3,291.33 459.7,291.19 460.1,291.15 460.5,290.92 460.9,290.79 461.3,290.61 461.7,290.43 462.1,290.33 462.5,290.16 462.9,289.99 463.3,289.9 463.7,289.86 464.1,289.69 464.5,289.48 464.9,289.34 465.3,289.22 465.7,289.11 466.1,288.91 466.5,288.73 466.9,288.57 467.3,288.51 467.7,288.44 468.1,288.13 468.5,287.91 468.9,287.91 469.3,287.72 469.7,287.59 470.1,287.5 470.5,287.29 470.9,287.08 471.3,286.91 471.7,286.85 472.1,286.65 472.5,286.57 472.9,286.36 473.3,286.27 473.7,286.04 474.1,285.97 474.5,285.82 474.9,285.71 475.3,285.61 475.7,285.38 476.1,285.2 476.5,285.2 476.9,284.98 477.3,284.84 477.7,284.7 478.1,284.6 478.5,284.42 478.9,284.28 479.3,284.13 479.7,283.89 480.1,283.78 480.5,283.65 480.9,283.51 481.3,283.37 481.7,283.21 482.1,283.06 482.5,282.9 482.9,282.69 483.3,282.66 483.7,282.52 484.1,282.3 484.5,282.21 484.9,282.06 485.3,281.91 485.7,281.68 486.1,281.54 486.5,281.44 486.9,281.4 487.3,281.12 487.7,281.01 488.1,280.81 488.5,280.71 488.9,280.62 489.3,280.35 489.7,280.16 490.1,280.19 490.5,280.01 490.9,279.85 491.3,279.81 491.7,279.72 492.1,279.48 492.5,279.46 492.9,279.43 493.3,279.25 493.7,279.17 494.1,279.12 494.5,278.95 494.9,278.82 495.3,278.74 495.7,278.6 496.1,278.61 496.5,278.39 496.9,278.42 497.3,278.21 497.7,278.19 498.1,278.01 498.5,277.97 498.9,277.95 499.3,277.84 499.7,277.73 500.1,277.58 500.5,277.53 500.9,277.48 501.3,277.45 501.7,277.34 502.1,277.36 502.5,277.26 502.9,277.26 503.3,277.15 503.7,277.12 504.1,276.99 504.5,276.95 504.9,276.83 505.3,276.85 505.7,276.78 506.1,276.78 506.5,276.63 506.9,276.79 507.3,276.57 507.7,276.57 508.1,276.51 508.5,276.28 508.9,276.34 509.3,276.37 509.7,276.12 510.1,276.24 510.5,276.16 510.9,276.19 511.3,276.25 511.7,276.13 512.1,276.25 512.5,276.21 512.9,276.22 513.3,276.29 513.7,276.44 514.1,276.29 514.5,276.3 514.9,276.28 515.3,276.25 515.7,276.31 516.1,276.38 516.5,276.33 516.9,276.36 517.3,276.31 517.7,276.46 518.1,276.26 518.5,276.37 518.9,276.39 519.3,276.38 519.7,276.32 520.1,276.31 520.5,276.37 520.9,276.4 521.3,276.33 521.7,276.35 522.1,276.44 522.5,276.46 522.9,276.39 523.3,276.38 523.7,276.4 524.1,276.55 524.5,276.46 524.9,276.46 525.3,276.5 525.7,276.56 526.1,276.53 526.5,276.4 526.9,276.45 527.3,276.46 527.7,276.48 528.1,276.44 528.5,276.5 528.9,276.45 529.3,276.54 529.7,276.52 530.1,276.46 530.5,276.46 530.9,276.52 531.3,276.58 531.7,276.56 532.1,276.55 532.5,276.39 532.9,276.55 533.3,276.53 533.7,276.57 534.1,276.52 534.5,276.58 534.9,276.55 535.3,276.76 535.7,276.72 536.1,276.69 536.5,276.72 536.9,276.77 537.3,276.82 537.7,276.83 538.1,276.86 538.5,276.97 538.9,276.98 539.3,277.01 539.7,277.09 540.1,277.07 540.5,277.05 540.9,277.05 541.3,277.12 541.7,277.21 542.1,277.26 542.5,277.31 542.9,277.29 543.3,277.32 543.7,277.43 544.1,277.48 544.5,277.42 544.9,277.51 545.3,277.62 545.7,277.61 546.1,277.65 546.5,277.58 546.9,277.82 547.3,277.84 547.7,277.84 548.1,277.87 548.5,277.89 548.9,278 549.3,278.06 549.7,278.16 550.1,278.1 550.5,278.3 550.9,278.27 551.3,278.41 551.7,278.3 552.1,278.45 552.5,278.58 552.9,278.53 553.3,278.44 553.7,278.58 554.1,278.77 554.5,278.57 554.9,278.61 555.3,278.86 555.7,278.77 556.1,279.07 556.5,278.86 556.9,278.8 557.3,279.01 557.7,279.48 558.1,279.15 558.5,279.37 558.9,279.5 559.3,279.3 559.7,279.7 560.1,279.64 560.5,279.71 560.9,279.34 561.3,279.45 561.7,279.27 562.1,279.87 562.5,279.92 562.9,280.24 563.3,280.43 563.7,280.14 564.1,280.17 564.5,280.51 564.9,280.76 565.3,280.26 565.7,280.66 566.1,280.55 566.5,280.5 566.9,280.98 567.3,280.5 567.7,280.46 568.1,281.1 568.5,280.98 568.9,280.96 569.3,281.12 569.7,281.37 570.1,280.95 570.5,281.53 570.9,281.39 571.3,281.94 571.7,281.98 572.1,281.81 572.5,281.5 572.9,281.79 573.3,281.58 573.7,283.17 574.1,281.94 574.5,282.37 574.9,282.88 575.3,281.67 575.7,282.01 576.1,282.23 576.5,282.13 576.9,282.14 577.3,282.59 577.7,283.43 578.1,283.21 578.5,282.97 578.9,283.01 579.3,282.39 579.7,283.73 580.1,283.41 580.5,282.75 580.9,283.77 581.3,283.42 581.7,283.49 582.1,283.2 582.5,283.62 582.9,283.56 583.3,284.37 583.7,284.46 584.1,284.47 584.5,284.32 584.9,284.39 585.3,285.85 585.7,283.53 586.1,285.42 586.5,285.08 586.9,285.02 587.3,284.8 587.7,285.02 588.1,284.64 588.5,284.56 588.9,285.5 589.3,284.58 589.7,286.35 590.1,286.47 590.5,283.86 590.9,285.07 591.3,286.4 591.7,286.49 592.1,286.58 592.5,286.87 592.9,287.15 593.3,287.3 593.7,287.91 594.1,286.97 594.5,287.62 594.9,285.94 595.3,287.42 595.7,286.26 596.1,288.51 596.5,289.45 596.9,288.2 597.3,286.94 597.7,287.66 598.1,287.91 598.5,288.34 598.9,289.04 599.3,289.28 599.7,286.35 600.1,289.66 600.5,288.3 600.9,288.28 601.3,290.01 601.7,288.71 602.1,288.07 602.5,288.21 602.9,289.56 603.3,290.2 603.7,290.82 604.1,289.88 604.5,289.77 604.9,291.46 605.3,290.04 605.7,291.63 606.1,291.18 606.5,290.91 606.9,291.08 607.3,291.36 607.7,291.06 608.1,290.97 608.5,291.55 608.9,291.45 609.3,292.36 609.7,292.21 610.1,292.01 610.5,292.57 610.9,292.62 611.3,294.19 611.7,292.89 612.1,292.64 612.5,293 612.9,294.05 613.3,293.25 613.7,293.56 614.1,293.53 614.5,294.27 614.9,294.66 615.3,294.62 615.7,293.19 616.1,293.89 616.5,292.59 616.9,295.41 617.3,296.04 617.7,296.28 618.1,295.4 618.5,296.46 618.9,295.42 619.3,295.16 619.7,294.34 620.1,294.95 620.5,295.39 620.9,296.43 621.3,297.06 621.7,295.49 622.1,296.19 622.5,295.97 622.9,295.37 623.3,294.57 623.7,295.53 624.1,295.09 624.5,295.55 624.9,295.7 625.3,295.67 625.7,295.69 626.1,296.19 626.5,295.14 626.9,296.7 627.3,294.36 627.7,295.7 628.1,295.91 628.5,295.31 628.9,294.68 629.3,296.02 629.7,294.82 630.1,296.06 630.5,296.03 630.9,295.27 631.3,295.04 631.7,295.76 632.1,295.1 632.5,293.81 632.9,294.85 633.3,294.8 633.7,294.25 634.1,294.18 634.5,293.65 634.9,293.73 635.3,293.03 635.7,292.15 636.1,294.28 636.5,292.8 636.9,293.08 637.3,291.33 637.7,292.49 638.1,291.57 638.5,294.28 638.9,290.91 639.3,290.88 639.7,292.21 640.1,292.26 640.5,289.3 640.9,291.31 641.3,291.49 641.7,289.68 642.1,290.74 642.5,289.91 642.9,289.15 643.3,289.66 643.7,289.31 644.1,288.26 644.5,290.62 644.9,288.81 645.3,288.34 645.7,289.09 646.1,288.28 646.5,288.95 646.9,287.59 647.3,287.79 647.7,287.35 648.1,287.18 648.5,286.8 648.9,286.49 649.3,287.42 649.7,285.79 650.1,285.68 650.5,285.57 650.9,285.85 651.3,285.46 651.7,285.5 652.1,284.03 652.5,284.66 652.9,284.1 653.3,283.85 653.7,283.9 654.1,282.63 654.5,283.45 654.9,283.05 655.3,282.29 655.7,282.5 656.1,282.99 656.5,281.93 656.9,282.14 657.3,281.5 657.7,281.01 658.1,280.69 658.5,280.73 658.9,281.03 659.3,280.7 659.7,280.01 660.1,280.13 660.5,279.58 660.9,279.25 661.3,279.38 661.7,278.72 662.1,278.31 662.5,278.83 662.9,277.8 663.3,278.14 663.7,277.35 664.1,277.36 664.5,277.07 664.9,276.77 665.3,276.12 665.7,276.27 666.1,276.01 666.5,275.55 666.9,275.49 667.3,275.39 667.7,274.75 668.1,274.68 668.5,274.15 668.9,274.24 669.3,273.96 669.7,274.09 670.1,273.47 670.5,273.02 670.9,273.02 671.3,272.23 671.7,272.35 672.1,271.76 672.5,271.56 672.9,271.52 673.3,271.11 673.7,271.1" stroke="#FF0000" stroke-width="1.3" fill="none" />
<polyline points="445.7,366.77 446.1,366.91 446.5,367.05 446.9,367.18 447.3,367.32 447.7,367.46 448.1,367.6 448.5,367.73 448.9,367.87 449.3,368.01 449.7,368.15 450.1,368.28 450.5,368.42 450.9,368.56 451.3,368.69 451.7,368.83 452.1,368.97 452.5,369.11 452.9,369.24 453.3,369.38 453.7,369.52 454.1,369.66 454.5,369.79 454.9,369.93 455.3,370.07 455.7,370.21 456.1,370.34 456.5,370.48 456.9,370.62 457.3,370.75 457.7,370.89 458.1,371.03 458.5,371.17 458.9,371.3 459.3,371.44 459.7,371.58 460.1,371.72 460.5,371.85 460.9,371.99 461.3,372.13 461.7,372.27 462.1,372.4 462.5,372.54 462.9,372.68 463.3,372.81 463.7,372.95 464.1,373.09 464.5,373.23 464.9,373.36 465.3,373.5 465.7,373.64 466.1,373.78 466.5,373.91 466.9,374.05 467.3,374.19 467.7,374.33 468.1,374.46 468.5,374.6 468.9,374.68 469.3,374.76 469.7,374.84 470.1,374.92 470.5,375 470.9,375.08 471.3,375.16 471.7,375.24 472.1,375.32 472.5,375.4 472.9,375.48 473.3,375.55 473.7,375.63 474.1,375.71 474.5,375.79 474.9,375.87 475.3,375.95 475.7,376.03 476.1,376.11 476.5,376.19 476.9,376.27 477.3,376.35 477.7,376.43 478.1,376.51 478.5,376.59 478.9,376.67 479.3,376.75 479.7,376.83 480.1,376.91 480.5,376.99 480.9,377.07 481.3,377.15 481.7,377.23 482.1,377.31 482.5,377.39 482.9,377.46 483.3,377.54 483.7,377.62 484.1,377.7 484.5,377.78 484.9,377.86 485.3,377.94 485.7,378.02 486.1,378.1 486.5,378.18 486.9,378.26 487.3,378.34 487.7,378.42 488.1,378.48 488.5,378.54 488.9,378.61 489.3,378.67 489.7,378.73 490.1,378.79 490.5,378.86 490.9,378.92 491.3,378.98 491.7,379.05 492.1,379.11 492.5,379.17 492.9,379.24 493.3,379.3 493.7,379.36 494.1,379.43 494.5,379.49 494.9,379.55 495.3,379.62 495.7,379.68 496.1,379.74 496.5,379.81 496.9,379.87 497.3,379.93 497.7,379.99 498.1,380.06 498.5,380.12 498.9,380.18 499.3,380.25 499.7,380.31 500.1,380.37 500.5,380.44 500.9,380.5 501.3,380.56 501.7,380.63 502.1,380.69 502.5,380.75 502.9,380.82 503.3,380.88 503.7,380.94 504.1,381.01 504.5,381.07 504.9,381.13 505.3,381.19 505.7,381.26 506.1,381.32 506.5,381.38 506.9,381.44 507.3,381.5 507.7,381.56 508.1,381.61 508.5,381.67 508.9,381.72 509.3,381.78 509.7,381.84 510.1,381.89 510.5,381.95 510.9,382.01 511.3,382.06 511.7,382.12 512.1,382.18 512.5,382.23 512.9,382.29 513.3,382.34 513.7,382.4 514.1,382.46 514.5,382.51 514.9,382.57 515.3,382.63 515.7,382.68 516.1,382.74 516.5,382.8 516.9,382.85 517.3,382.91 517.7,382.96 518.1,383.02 518.5,383.08 518.9,383.13 519.3,383.19 519.7,383.25 520.1,383.3 520.5,383.36 520.9,383.42 521.3,383.47 521.7,383.51 522.1,383.54 522.5,383.57 522.9,383.6 523.3,383.63 523.7,383.65 524.1,383.68 524.5,383.71 524.9,383.74 525.3,383.77 525.7,383.8 526.1,383.82 526.5,383.85 526.9,383.88 527.3,383.91 527.7,383.94 528.1,383.96 528.5,383.99 528.9,384.02 529.3,384.05 529.7,384.08 530.1,384.1 530.5,384.13 530.9,384.16 531.3,384.19 531.7,384.22 532.1,384.24 532.5,384.27 532.9,384.3 533.3,384.33 533.7,384.36 534.1,384.39 534.5,384.41 534.9,384.44 535.3,384.47 535.7,384.5 536.1,384.53 536.5,384.55 536.9,384.58 537.3,384.61 537.7,384.64 538.1,384.67 538.5,384.69 538.9,384.72 539.3,384.75 539.7,384.78 540.1,384.8 540.5,384.81 540.9,384.82 541.3,384.83 541.7,384.84 542.1,384.85 542.5,384.86 542.9,384.87 543.3,384.88 543.7,384.89 544.1,384.9 544.5,384.91 544.9,384.92 545.3,384.93 545.7,384.95 546.1,384.96 546.5,384.97 546.9,384.98 547.3,384.98 547.7,384.96 548.1,384.96 548.5,384.96 548.9,385.02 549.3,385.03 549.7,385.04 550.1,385.06 550.5,385.06 550.9,385.04 551.3,385.02 551.7,385.01 552.1,385.16 552.5,385.16 552.9,385.06 553.3,385.12 553.7,385.17 554.1,385.25 554.5,385.13 554.9,385.19 555.3,385.26 555.7,385.08 556.1,385.15 556.5,385.21 556.9,385.17 557.3,385.4 557.7,385.32 558.1,385.27 558.5,385.18 558.9,385.35 559.3,385.34 559.7,385.25 560.1,385.26 560.5,385.18 560.9,385.33 561.3,385.44 561.7,385.47 562.1,385.44 562.5,385.48 562.9,385.34 563.3,385.36 563.7,385.58 564.1,385.5 564.5,385.36 564.9,385.54 565.3,385.6 565.7,385.6 566.1,385.53 566.5,385.46 566.9,385.6 567.3,385.8 567.7,385.59 568.1,385.49 568.5,385.65 568.9,385.43 569.3,385.67 569.7,385.6 570.1,385.81 570.5,385.69 570.9,385.86 571.3,386.09 571.7,385.68 572.1,385.58 572.5,385.82 572.9,385.74 573.3,385.8 573.7,385.67 574.1,385.9 574.5,385.82 574.9,385.41 575.3,385.79 575.7,385.92 576.1,386.1 576.5,385.77 576.9,385.73 577.3,386.15 577.7,385.8 578.1,385.96 578.5,386.05 578.9,386.13 579.3,385.98 579.7,385.75 580.1,386.24 580.5,385.93 580.9,385.93 581.3,386.53 581.7,386.29 582.1,385.86 582.5,386.02 582.9,386.09 583.3,385.99 583.7,385.72 584.1,386.41 584.5,386.42 584.9,386.31 585.3,386.17 585.7,386.34 586.1,386.48 586.5,386.06 586.9,386.26 587.3,386.22 587.7,386.58 588.1,386.48 588.5,386.07 588.9,386.28 589.3,386.97 589.7,386.22 590.1,386.55 590.5,386.35 590.9,386.91 591.3,386.55 591.7,386.46 592.1,386.26 592.5,386.56 592.9,386.9 593.3,386.88 593.7,386.28 594.1,387.2 594.5,386.65 594.9,386.42 595.3,386.81 595.7,386.59 596.1,386.62 596.5,386.62 596.9,386.82 597.3,386.7 597.7,386.32 598.1,387.08 598.5,386.75 598.9,387.36 599.3,387.15 599.7,387.2 600.1,387.08 600.5,387.51 600.9,386.98 601.3,386.78 601.7,387.3 602.1,386.23 602.5,387.12 602.9,387.37 603.3,387.18 603.7,387.84 604.1,387.68 604.5,387.5 604.9,387.34 605.3,387.95 605.7,387.31 606.1,387.45 606.5,387.94 606.9,387.93 607.3,388.53 607.7,387.69 608.1,387.06 608.5,388.12 608.9,388.4 609.3,387.87 609.7,388.61 610.1,388.74 610.5,387.76 610.9,387.87 611.3,387.57 611.7,388.35 612.1,388.45 612.5,388.44 612.9,387.68 613.3,387.9 613.7,387.64 614.1,387.59 614.5,387.73 614.9,387.65 615.3,388.29 615.7,388.59 616.1,388.71 616.5,388.45 616.9,388.18 617.3,388.51 617.7,388.8 618.1,388.43 618.5,388.62 618.9,388.48 619.3,388.41 619.7,388.7 620.1,388.17 620.5,389.21 620.9,387.96 621.3,388.94 621.7,388.06 622.1,389.46 622.5,389.15 622.9,388.33 623.3,388.51 623.7,388.18 624.1,388.71 624.5,388.95 624.9,390.03 625.3,388.06 625.7,389.39 626.1,388.46 626.5,388.91 626.9,389.22 627.3,389.05 627.7,389 628.1,388.68 628.5,388.78 628.9,388.87 629.3,389.43 629.7,388.02 630.1,388.53 630.5,388.1 630.9,388.22 631.3,388.28 631.7,389.29 632.1,389.83 632.5,389.38 632.9,387.95 633.3,388.62 633.7,387.92 634.1,388.78 634.5,389.21 634.9,388.81 635.3,388.94 635.7,388.34 636.1,387.26 636.5,387.17 636.9,388.14 637.3,388.43 637.7,388.74 638.1,387.73 638.5,387.88 638.9,387.89 639.3,388.26 639.7,387.53 640.1,387.34 640.5,387.37 640.9,387.11 641.3,386.92 641.7,386.56 642.1,386.5 642.5,386.14 642.9,385.92 643.3,385.91 643.7,385.7 644.1,385.58 644.5,385.37 644.9,384.92 645.3,384.81 645.7,384.26 646.1,384.1 646.5,383.59 646.9,383.44 647.3,383.09 647.7,382.8 648.1,382.58 648.5,381.99 648.9,381.87 649.3,381.44 649.7,381.21 650.1,380.91 650.5,380.5 650.9,380.17 651.3,379.76 651.7,379.6 652.1,379.14 652.5,378.91 652.9,378.38 653.3,378.32 653.7,377.73 654.1,377.61 654.5,377.1 654.9,376.85 655.3,376.44 655.7,376.18 656.1,375.76 656.5,375.55 656.9,375.14 657.3,374.8 657.7,374.56 658.1,373.97 658.5,373.83 658.9,373.36 659.3,372.85 659.7,372.71 660.1,372.31 660.5,372.21 660.9,371.7 661.3,371.47 661.7,371.2 662.1,370.69 662.5,370.65 662.9,370.21 663.3,370.16 663.7,369.9 664.1,369.44 664.5,368.99 664.9,368.88 665.3,368.59 665.7,368.36 666.1,367.97 666.5,367.59 666.9,367.41 667.3,367.04 667.7,367.03 668.1,366.48 668.5,366.2 668.9,365.97 669.3,365.56 669.7,365.36 670.1,365.1 670.5,364.77 670.9,364.51 671.3,364.38 671.7,364 672.1,363.53 672.5,363.34 672.9,363.17 673.3,362.74 673.7,362.52" stroke="#0A8C0A" stroke-width="2.3" fill="none" />
<polyline points="560,385.3 560.2,385.31 560.4,385.31 560.6,385.32 560.8,385.32 561,385.34 561.2,385.33 561.4,385.38 561.6,385.36 561.8,385.36 562,385.39 562.2,385.37 562.4,385.39 562.6,385.39 562.8,385.37 563,385.37 563.2,385.38 563.4,385.47 563.6,385.4 563.8,385.41 564,385.42 564.2,385.49 564.4,385.57 564.6,385.4 564.8,385.5 565,385.48 565.2,385.46 565.4,385.52 565.6,385.4 565.8,385.57 566,385.53 566.2,385.44 566.4,385.66 566.6,385.6 566.8,385.64 567,385.41 567.2,385.53 567.4,385.51 567.6,385.63 567.8,385.71 568,385.38 568.2,385.59 568.4,385.58 568.6,385.71 568.8,385.6 569,385.46 569.2,385.6 569.4,385.5 569.6,385.54 569.8,385.65 570,385.59 570.2,385.69 570.4,385.46 570.6,385.99 570.8,385.86 571,385.79 571.2,385.5 571.4,385.38 571.6,385.57 571.8,385.68 572,386.07 572.2,385.94 572.4,385.65 572.6,385.94 572.8,385.95 573,385.76 573.2,385.97 573.4,385.83 573.6,385.66 573.8,385.57 574,385.77 574.2,385.98 574.4,385.55 574.6,385.5 574.8,385.92 575,385.29 575.2,386.2 575.4,385.75 575.6,386 575.8,386.24 576,385.55 576.2,385.64 576.4,386.36 576.6,385.82 576.8,385.86 577,385.95 577.2,386.14 577.4,386.21 577.6,385.94 577.8,385.84 578,385.92 578.2,386.01 578.4,386.26 578.6,385.98 578.8,386.41 579,385.75 579.2,386.11 579.4,386.43 579.6,386.32 579.8,386.08 580,385.77 580.2,385.82 580.4,385.98 580.6,386.11 580.8,385.97 581,385.65 581.2,385.85 581.4,386.22 581.6,386.32 581.8,385.69 582,385.99 582.2,385.62 582.4,385.95 582.6,387.18 582.8,386.16 583,386.05 583.2,385.98 583.4,385.8 583.6,385.6 583.8,386.18 584,386.11 584.2,386.68 584.4,385.7 584.6,386.37 584.8,386.68 585,385.61 585.2,386.48 585.4,385.73 585.6,386.46 585.8,386.79 586,386.3 586.2,386.41 586.4,386.08 586.6,386.43 586.8,386.74 587,386.29 587.2,386.31 587.4,386.51 587.6,386.68 587.8,385.79 588,386.42 588.2,386.16 588.4,386.61 588.6,386.82 588.8,386.56 589,386.94 589.2,386.08 589.4,386.31 589.6,386.1 589.8,386.51 590,386.54 590.2,386.43 590.4,386.04 590.6,386.5 590.8,386.36 591,386.8 591.2,386.45 591.4,387.05 591.6,386.68 591.8,385.81 592,386.53 592.2,386 592.4,387.03 592.6,387.25 592.8,386.63 593,386.84 593.2,386.03 593.4,385.68 593.6,386.44 593.8,386.58 594,386.02 594.2,386.75 594.4,386.86 594.6,387.02 594.8,387.45 595,387.12 595.2,386.59 595.4,386.82 595.6,387.06 595.8,386.3 596,387.43 596.2,387.24 596.4,386.71 596.6,386.52 596.8,388.68 597,387.26 597.2,387.32 597.4,387.76 597.6,387.37 597.8,387 598,387.25 598.2,386.45 598.4,387.28 598.6,386.15 598.8,387.16 599,387.24 599.2,386.16 599.4,387.97 599.6,386.38 599.8,387.54 600,386.73 600.2,387.19 600.4,386.69 600.6,388.4 600.8,387.64 601,388.08 601.2,387.55 601.4,387.53 601.6,387.25 601.8,387.06 602,387.54 602.2,387.32 602.4,387.16 602.6,386.5 602.8,387.12 603,387.65 603.2,387.06 603.4,387.55 603.6,387.29 603.8,386.8 604,386.89 604.2,387 604.4,387.28 604.6,387.32 604.8,388.15 605,386.87 605.2,386.32 605.4,387.96 605.6,387.3 605.8,387.52 606,389.16 606.2,388.53 606.4,388.02 606.6,388.26 606.8,387.77 607,388.31 607.2,387.36 607.4,387.31 607.6,387.48 607.8,388.79 608,388.8 608.2,387.45 608.4,388.6 608.6,387.78 608.8,388.59 609,387.71 609.2,388.56 609.4,387.89 609.6,387.79 609.8,387.99 610,388.12 610.2,387.65 610.4,387.14 610.6,389.19 610.8,387.81 611,386.87 611.2,386.57 611.4,386.22 611.6,387.72 611.8,389.08 612,387.04 612.2,387.96 612.4,386.92 612.6,388.97 612.8,388.48 613,388.46 613.2,389.2 613.4,389.42 613.6,389.01 613.8,387.88 614,387.36 614.2,387.57 614.4,387.07 614.6,389.65 614.8,388.23 615,388.47 615.2,388.54 615.4,389.88 615.6,388.01 615.8,389.31 616,388.67 616.2,388.35 616.4,387.05 616.6,389.18 616.8,387.95 617,388.17 617.2,388.71 617.4,388.62 617.6,389.42 617.8,388.06 618,388.72 618.2,388.82 618.4,388.64 618.6,389.16 618.8,388.45 619,389.6 619.2,388.12 619.4,387.56 619.6,388.67 619.8,389.65 620,388.32 620.2,388.23 620.4,388.46 620.6,388.87 620.8,388.6 621,388.99 621.2,387.35 621.4,389.97 621.6,389.22 621.8,388.05 622,389.88 622.2,389.13 622.4,389.97 622.6,387.79 622.8,390.14 623,388.8 623.2,387.05 623.4,389.4 623.6,388.52 623.8,387.92 624,388.59 624.2,387.13 624.4,389.28 624.6,388.6 624.8,388.55 625,390 625.2,388.82 625.4,388.22 625.6,387.97 625.8,388.74 626,389.73 626.2,388.29 626.4,387.89 626.6,389.62 626.8,388.86 627,388.78 627.2,390.66 627.4,387.73 627.6,388.99 627.8,387.22 628,388.55 628.2,389.35 628.4,389.84 628.6,387.67 628.8,389.59 629,389.54 629.2,388.72 629.4,391.09 629.6,388.83 629.8,388.02 630,389.23 630.2,387.1 630.4,390.26 630.6,389.71 630.8,388.41 631,389.34 631.2,389.25 631.4,390.54 631.6,388.16 631.8,387.52 632,386.82 632.2,388.42 632.4,387.22 632.6,388.5 632.8,389.03 633,388.23 633.2,387.75 633.4,389.72 633.6,388.41 633.8,388.8 634,389.45 634.2,387.35 634.4,387.69 634.6,390.85 634.8,388.37 635,387.54 635.2,388.25 635.4,387.95 635.6,387.32 635.8,388.07 636,388.42 636.2,388.38 636.4,388.85 636.6,386.7 636.8,386.87 637,388.94 637.2,387.76 637.4,389.25 637.6,388.36 637.8,386.73 638,388.48 638.2,387 638.4,388.14 638.6,388.99 638.8,389.76 639,387.7 639.2,388.36 639.4,387.95 639.6,388.36 639.8,385.22 640,387.18 640.2,387.71 640.4,387.78 640.6,386.55 640.8,387.92" stroke="#0A8C0A" stroke-width="1.0" fill="none" />
<polygon points="521.4,270 523.13,274.62 528.06,274.84 524.2,277.91 525.51,282.66 521.4,279.94 517.29,282.66 518.6,277.91 514.74,274.84 519.67,274.62" fill="#000" />
<polygon points="521.8,377.2 523.48,381.69 528.27,381.9 524.52,384.88 525.8,389.5 521.8,386.86 517.8,389.5 519.08,384.88 515.33,381.9 520.12,381.69" fill="#0A8C0A" />
<rect x="445.2" y="260.6" width="228.8" height="164.7" fill="none" stroke="#000" stroke-width="1.8"/>
<line x1="445.2" y1="412.91" x2="447" y2="412.91" stroke="#000" stroke-width="1.0" />
<line x1="445.2" y1="405.65" x2="447" y2="405.65" stroke="#000" stroke-width="1.0" />
<line x1="445.2" y1="400.51" x2="447" y2="400.51" stroke="#000" stroke-width="1.0" />
<line x1="445.2" y1="396.52" x2="447" y2="396.52" stroke="#000" stroke-width="1.0" />
<line x1="445.2" y1="393.26" x2="447" y2="393.26" stroke="#000" stroke-width="1.0" />
<line x1="445.2" y1="390.5" x2="447" y2="390.5" stroke="#000" stroke-width="1.0" />
<line x1="445.2" y1="388.12" x2="447" y2="388.12" stroke="#000" stroke-width="1.0" />
<line x1="445.2" y1="386.01" x2="447" y2="386.01" stroke="#000" stroke-width="1.0" />
<line x1="445.2" y1="384.12" x2="448.2" y2="384.12" stroke="#000" stroke-width="1.0" />
<line x1="445.2" y1="371.73" x2="447" y2="371.73" stroke="#000" stroke-width="1.0" />
<line x1="445.2" y1="364.48" x2="447" y2="364.48" stroke="#000" stroke-width="1.0" />
<line x1="445.2" y1="359.34" x2="447" y2="359.34" stroke="#000" stroke-width="1.0" />
<line x1="445.2" y1="355.34" x2="447" y2="355.34" stroke="#000" stroke-width="1.0" />
<line x1="445.2" y1="352.08" x2="447" y2="352.08" stroke="#000" stroke-width="1.0" />
<line x1="445.2" y1="349.33" x2="447" y2="349.33" stroke="#000" stroke-width="1.0" />
<line x1="445.2" y1="346.94" x2="447" y2="346.94" stroke="#000" stroke-width="1.0" />
<line x1="445.2" y1="344.83" x2="447" y2="344.83" stroke="#000" stroke-width="1.0" />
<line x1="445.2" y1="342.95" x2="448.2" y2="342.95" stroke="#000" stroke-width="1.0" />
<line x1="445.2" y1="330.56" x2="447" y2="330.56" stroke="#000" stroke-width="1.0" />
<line x1="445.2" y1="323.3" x2="447" y2="323.3" stroke="#000" stroke-width="1.0" />
<line x1="445.2" y1="318.16" x2="447" y2="318.16" stroke="#000" stroke-width="1.0" />
<line x1="445.2" y1="314.17" x2="447" y2="314.17" stroke="#000" stroke-width="1.0" />
<line x1="445.2" y1="310.91" x2="447" y2="310.91" stroke="#000" stroke-width="1.0" />
<line x1="445.2" y1="308.15" x2="447" y2="308.15" stroke="#000" stroke-width="1.0" />
<line x1="445.2" y1="305.77" x2="447" y2="305.77" stroke="#000" stroke-width="1.0" />
<line x1="445.2" y1="303.66" x2="447" y2="303.66" stroke="#000" stroke-width="1.0" />
<line x1="445.2" y1="301.78" x2="448.2" y2="301.78" stroke="#000" stroke-width="1.0" />
<line x1="445.2" y1="289.38" x2="447" y2="289.38" stroke="#000" stroke-width="1.0" />
<line x1="445.2" y1="282.13" x2="447" y2="282.13" stroke="#000" stroke-width="1.0" />
<line x1="445.2" y1="276.99" x2="447" y2="276.99" stroke="#000" stroke-width="1.0" />
<line x1="445.2" y1="272.99" x2="447" y2="272.99" stroke="#000" stroke-width="1.0" />
<line x1="445.2" y1="269.73" x2="447" y2="269.73" stroke="#000" stroke-width="1.0" />
<line x1="445.2" y1="266.98" x2="447" y2="266.98" stroke="#000" stroke-width="1.0" />
<line x1="445.2" y1="264.59" x2="447" y2="264.59" stroke="#000" stroke-width="1.0" />
<line x1="445.2" y1="262.48" x2="447" y2="262.48" stroke="#000" stroke-width="1.0" />
<line x1="468.16" y1="425.3" x2="468.16" y2="423.5" stroke="#000" stroke-width="1.0" />
<line x1="481.59" y1="425.3" x2="481.59" y2="423.5" stroke="#000" stroke-width="1.0" />
<line x1="491.12" y1="425.3" x2="491.12" y2="423.5" stroke="#000" stroke-width="1.0" />
<line x1="498.51" y1="425.3" x2="498.51" y2="423.5" stroke="#000" stroke-width="1.0" />
<line x1="504.55" y1="425.3" x2="504.55" y2="423.5" stroke="#000" stroke-width="1.0" />
<line x1="509.65" y1="425.3" x2="509.65" y2="423.5" stroke="#000" stroke-width="1.0" />
<line x1="514.08" y1="425.3" x2="514.08" y2="423.5" stroke="#000" stroke-width="1.0" />
<line x1="517.98" y1="425.3" x2="517.98" y2="423.5" stroke="#000" stroke-width="1.0" />
<line x1="521.47" y1="425.3" x2="521.47" y2="422.3" stroke="#000" stroke-width="1.0" />
<line x1="544.43" y1="425.3" x2="544.43" y2="423.5" stroke="#000" stroke-width="1.0" />
<line x1="557.86" y1="425.3" x2="557.86" y2="423.5" stroke="#000" stroke-width="1.0" />
<line x1="567.38" y1="425.3" x2="567.38" y2="423.5" stroke="#000" stroke-width="1.0" />
<line x1="574.77" y1="425.3" x2="574.77" y2="423.5" stroke="#000" stroke-width="1.0" />
<line x1="580.81" y1="425.3" x2="580.81" y2="423.5" stroke="#000" stroke-width="1.0" />
<line x1="585.92" y1="425.3" x2="585.92" y2="423.5" stroke="#000" stroke-width="1.0" />
<line x1="590.34" y1="425.3" x2="590.34" y2="423.5" stroke="#000" stroke-width="1.0" />
<line x1="594.24" y1="425.3" x2="594.24" y2="423.5" stroke="#000" stroke-width="1.0" />
<line x1="597.73" y1="425.3" x2="597.73" y2="422.3" stroke="#000" stroke-width="1.0" />
<line x1="620.69" y1="425.3" x2="620.69" y2="423.5" stroke="#000" stroke-width="1.0" />
<line x1="634.12" y1="425.3" x2="634.12" y2="423.5" stroke="#000" stroke-width="1.0" />
<line x1="643.65" y1="425.3" x2="643.65" y2="423.5" stroke="#000" stroke-width="1.0" />
<line x1="651.04" y1="425.3" x2="651.04" y2="423.5" stroke="#000" stroke-width="1.0" />
<line x1="657.08" y1="425.3" x2="657.08" y2="423.5" stroke="#000" stroke-width="1.0" />
<line x1="662.19" y1="425.3" x2="662.19" y2="423.5" stroke="#000" stroke-width="1.0" />
<line x1="666.61" y1="425.3" x2="666.61" y2="423.5" stroke="#000" stroke-width="1.0" />
<line x1="670.51" y1="425.3" x2="670.51" y2="423.5" stroke="#000" stroke-width="1.0" />
<line x1="489.6" y1="339.5" x2="509.2" y2="339.5" stroke="#0000FF" stroke-width="2.2" stroke-linecap="round"/>
<line x1="539.1" y1="339.5" x2="558.7" y2="339.5" stroke="#FF0000" stroke-width="2.2" stroke-linecap="round"/>
<line x1="588.6" y1="339.5" x2="608.2" y2="339.5" stroke="#0A8C0A" stroke-width="2.2" stroke-linecap="round"/>
<text x="516.6" y="342.3" font-size="11.5" text-anchor="start" fill="#0000FF" font-style="italic">f</text>
<text x="519.4" y="345.5" font-size="8.3" text-anchor="start" fill="#0000FF" >1</text>
<text x="565.6" y="342.3" font-size="11.5" text-anchor="start" fill="#FF0000" font-style="italic">f</text>
<text x="567.9" y="345.5" font-size="8.3" text-anchor="start" fill="#FF0000" >2</text>
<text x="614.6" y="342.3" font-size="11.5" text-anchor="start" fill="#0A8C0A" >Δ<tspan font-style="italic">f</tspan></text>
<text x="524" y="303.6" font-size="11.5" text-anchor="start" fill="#000" >41.46 Hz@1s</text>
<text x="520.2" y="410.9" font-size="11.3" text-anchor="start" fill="#0A8C0A" >101.7 mHz@1s</text>
<text x="437.8" y="265.08" font-size="13" text-anchor="end" transform="matrix(1,0,0,1.1,0,-26.51)">10<tspan font-size="8.4" dy="-5.3">2</tspan></text>
<text x="437.8" y="306.25" font-size="13" text-anchor="end" transform="matrix(1,0,0,1.1,0,-30.63)">10<tspan font-size="8.4" dy="-5.3">1</tspan></text>
<text x="437.8" y="347.43" font-size="13" text-anchor="end" transform="matrix(1,0,0,1.1,0,-34.74)">10<tspan font-size="8.4" dy="-5.3">0</tspan></text>
<text x="437.8" y="388.6" font-size="13" text-anchor="end" transform="matrix(1,0,0,1.1,0,-38.86)">10<tspan font-size="8.4" dy="-5.3">−1</tspan></text>
<text x="437.8" y="429.78" font-size="13" text-anchor="end" transform="matrix(1,0,0,1.1,0,-42.98)">10<tspan font-size="8.4" dy="-5.3">−2</tspan></text>
<text x="445.2" y="445.78" font-size="13" text-anchor="middle" transform="matrix(1,0,0,1.1,0,-44.58)">10<tspan font-size="8.4" dy="-5.3">−1</tspan></text>
<text x="521.47" y="445.78" font-size="13" text-anchor="middle" transform="matrix(1,0,0,1.1,0,-44.58)">10<tspan font-size="8.4" dy="-5.3">0</tspan></text>
<text x="597.73" y="445.78" font-size="13" text-anchor="middle" transform="matrix(1,0,0,1.1,0,-44.58)">10<tspan font-size="8.4" dy="-5.3">1</tspan></text>
<text x="674" y="445.78" font-size="13" text-anchor="middle" transform="matrix(1,0,0,1.1,0,-44.58)">10<tspan font-size="8.4" dy="-5.3">2</tspan></text>
<text x="559.8" y="467.3" font-size="13.4" text-anchor="middle" fill="#000" >Averaging time (s)</text>
<text x="399.6" y="343.1" font-size="13.2" text-anchor="middle" fill="#000" transform="rotate(-90 399.6 343.1)">Allan deviation (Hz)</text>
<text x="388.8" y="252.4" font-size="18" text-anchor="start" fill="#000" font-weight="bold">d</text>
</svg></body></html>
